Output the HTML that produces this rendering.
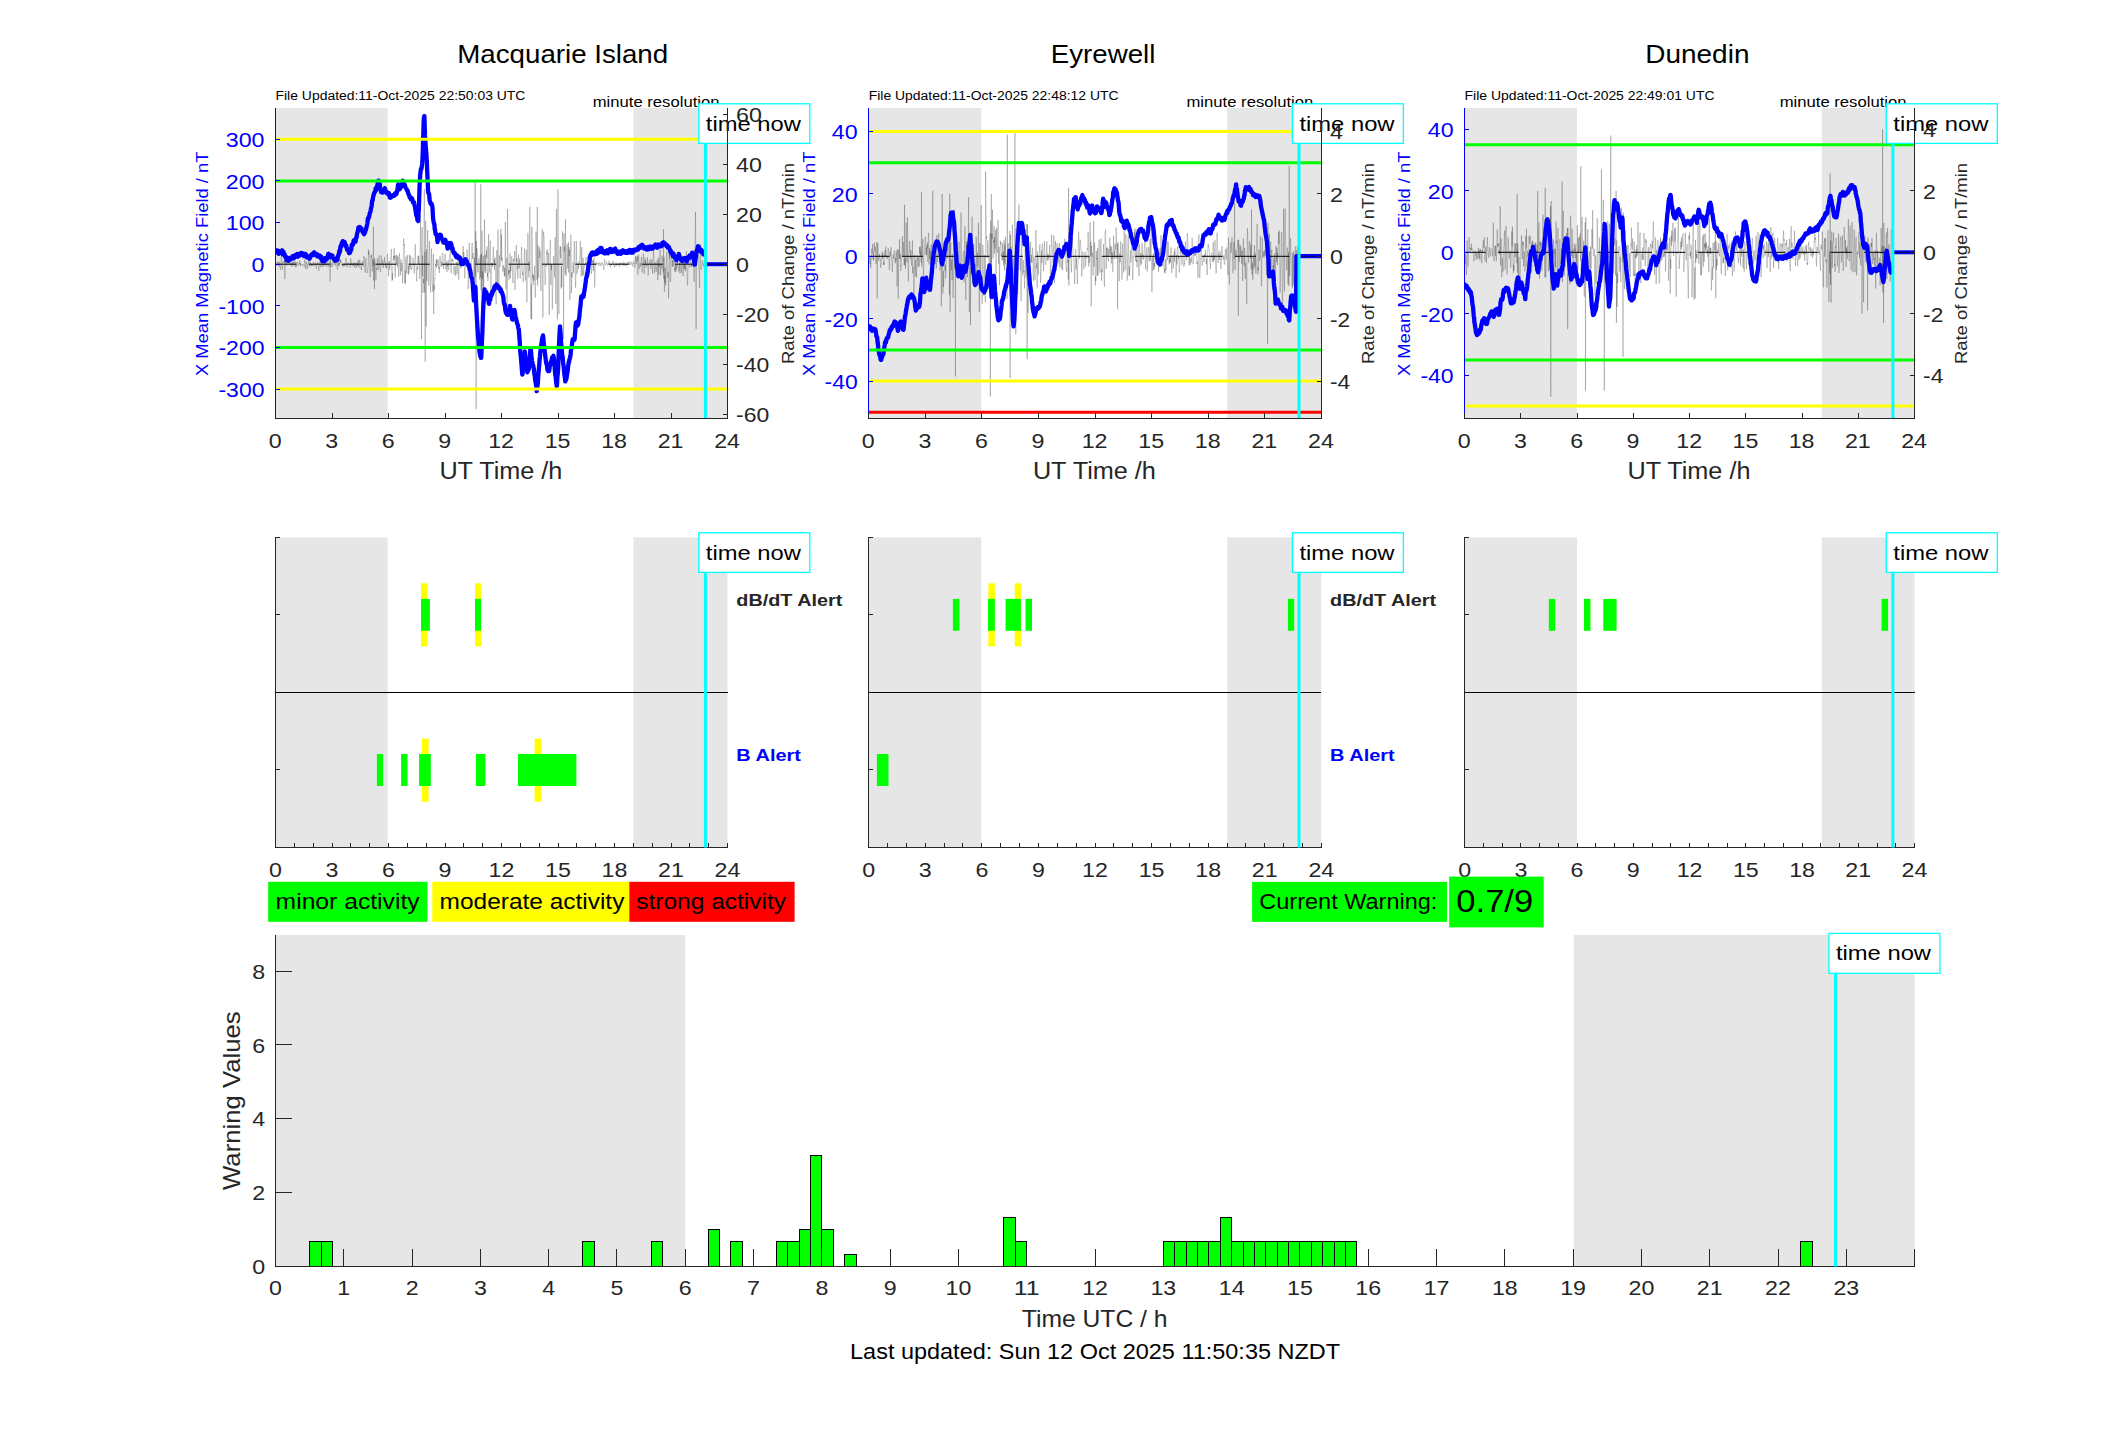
<!DOCTYPE html>
<html><head><meta charset="utf-8"><title>Geomagnetic activity</title>
<style>html,body{margin:0;padding:0;background:#fff;}body{width:2117px;height:1437px;overflow:hidden;font-family:"Liberation Sans",sans-serif;}svg{display:block;}text{white-space:pre;}</style>
</head><body>
<svg width="2117" height="1437" viewBox="0 0 2117 1437" font-family="'Liberation Sans', sans-serif">
<rect width="2117" height="1437" fill="#fff"/>
<g id="top0">
<rect x="275.50" y="108.00" width="112.10" height="310.00" fill="#e6e6e6"/>
<rect x="633.43" y="108.00" width="94.07" height="310.00" fill="#e6e6e6"/>
<clipPath id="cp0"><rect x="275.50" y="108.0" width="452.00" height="310.0"/></clipPath>
<path d="M275.5,265.6 275.8,264.6 276.1,265.0 276.4,263.7 276.8,265.8 277.1,263.9 277.4,262.1 277.7,263.0 278.0,261.3 278.3,264.2 278.6,265.2 279.0,266.5 279.3,264.2 279.6,261.8 279.9,264.1 280.2,268.1 280.5,269.7 280.8,268.4 281.1,257.3 281.5,255.7 281.8,259.0 282.1,265.9 282.4,269.5 282.7,265.5 283.0,261.1 283.3,261.1 283.7,262.5 284.0,263.0 284.3,262.5 284.6,260.0 284.9,279.2 285.2,260.8 285.5,262.5 285.9,263.5 286.2,264.6 286.5,265.6 286.8,263.8 287.1,261.5 287.4,259.4 287.7,260.9 288.1,261.2 288.4,261.6 288.7,264.2 289.0,264.8 289.3,256.5 289.6,259.2 289.9,264.1 290.3,265.3 290.6,263.4 290.9,262.1 291.2,263.9 291.5,263.6 291.8,266.8 292.1,265.2 292.4,263.2 292.8,261.8 293.1,265.7 293.4,261.7 293.7,263.4 294.0,263.4 294.3,258.7 294.6,258.3 295.0,261.2 295.3,267.4 295.6,263.6 295.9,262.1 296.2,265.7 296.5,266.8 296.8,265.3 297.2,261.9 297.5,262.5 297.8,262.6 298.1,265.1 298.4,265.7 298.7,264.3 299.0,264.4 299.4,263.1 299.7,260.4 300.0,265.1 300.3,262.8 300.6,266.3 300.9,265.6 301.2,264.7 301.6,264.8 301.9,264.2 302.2,264.6 302.5,264.1 302.8,264.3 303.1,264.4 303.4,264.9 303.8,265.6 304.1,267.0 304.4,263.2 304.7,259.6 305.0,261.4 305.3,265.5 305.6,268.8 305.9,264.7 306.3,261.5 306.6,262.1 306.9,265.5 307.2,269.1 307.5,267.4 307.8,264.1 308.1,262.6 308.5,261.2 308.8,264.4 309.1,266.7 309.4,265.2 309.7,264.6 310.0,261.3 310.3,263.8 310.7,263.2 311.0,264.5 311.3,266.3 311.6,264.4 311.9,265.4 312.2,264.1 312.5,265.7 312.9,264.1 313.2,263.3 313.5,261.9 313.8,262.4 314.1,266.4 314.4,264.9 314.7,264.8 315.1,263.9 315.4,263.7 315.7,262.5 316.0,266.0 316.3,269.0 316.6,267.3 316.9,264.1 317.2,264.3 317.6,262.3 317.9,263.8 318.2,263.4 318.5,267.2 318.8,271.0 319.1,268.4 319.4,266.1 319.8,260.6 320.1,258.6 320.4,266.2 320.7,267.1 321.0,265.8 321.3,262.5 321.6,263.0 322.0,265.4 322.3,267.4 322.6,263.8 322.9,261.2 323.2,263.2 323.5,264.6 323.8,266.2 324.2,263.0 324.5,265.0 324.8,265.4 325.1,265.0 325.4,264.2 325.7,263.5 326.0,264.0 326.4,266.7 326.7,266.2 327.0,262.0 327.3,261.4 327.6,261.8 327.9,263.8 328.2,267.2 328.5,265.5 328.9,263.5 329.2,263.8 329.5,261.4 329.8,262.6 330.1,281.7 330.4,258.2 330.7,266.9 331.1,263.4 331.4,263.0 331.7,266.9 332.0,266.9 332.3,266.9 332.6,261.9 332.9,260.1 333.3,261.2 333.6,264.4 333.9,265.1 334.2,264.1 334.5,264.0 334.8,263.2 335.1,262.2 335.5,265.6 335.8,265.7 336.1,261.8 336.4,257.5 336.7,258.6 337.0,266.6 337.3,269.2 337.6,269.7 338.0,262.0 338.3,265.4 338.6,263.5 338.9,262.4 339.2,266.1 339.5,264.0 339.8,263.1 340.2,259.4 340.5,263.0 340.8,259.9 341.1,263.1 341.4,264.7 341.7,264.3 342.0,265.2 342.4,264.7 342.7,266.0 343.0,264.1 343.3,265.3 343.6,266.8 343.9,265.5 344.2,263.5 344.6,264.7 344.9,266.2 345.2,264.2 345.5,263.7 345.8,260.8 346.1,258.0 346.4,264.2 346.8,266.4 347.1,267.4 347.4,265.8 347.7,265.5 348.0,262.6 348.3,264.0 348.6,263.5 348.9,264.5 349.3,263.8 349.6,265.3 349.9,266.3 350.2,267.9 350.5,263.3 350.8,258.4 351.1,264.8 351.5,264.7 351.8,262.7 352.1,265.2 352.4,266.2 352.7,266.0 353.0,264.9 353.3,263.3 353.7,265.4 354.0,262.3 354.3,265.4 354.6,266.5 354.9,267.5 355.2,262.9 355.5,264.4 355.9,263.1 356.2,267.8 356.5,265.6 356.8,263.7 357.1,263.4 357.4,261.9 357.7,266.1 358.1,264.2 358.4,259.7 358.7,261.0 359.0,267.8 359.3,262.3 359.6,260.3 359.9,260.2 360.2,263.9 360.6,263.7 360.9,268.4 361.2,267.9 361.5,270.2 361.8,263.6 362.1,263.7 362.4,263.2 362.8,261.3 363.1,264.3 363.4,266.4 363.7,262.0 364.0,256.1 364.3,260.5 364.6,264.9 365.0,272.1 365.3,272.8 365.6,260.8 365.9,257.8 366.2,264.9 366.5,266.2 366.8,269.3 367.2,271.6 367.5,273.0 367.8,271.8 368.1,267.6 368.4,249.3 368.7,254.8 369.0,251.4 369.4,265.0 369.7,267.2 370.0,276.9 370.3,276.3 370.6,269.2 370.9,255.5 371.2,257.4 371.5,254.5 371.9,259.3 372.2,271.7 372.5,271.3 372.8,259.0 373.1,266.2 373.4,226.7 373.7,280.4 374.1,260.6 374.4,289.2 374.7,258.0 375.0,262.8 375.3,267.6 375.6,269.4 375.9,280.4 376.3,268.0 376.6,269.8 376.9,264.6 377.2,258.2 377.5,259.4 377.8,265.8 378.1,270.3 378.5,269.2 378.8,259.1 379.1,255.5 379.4,264.4 379.7,263.5 380.0,270.0 380.3,272.0 380.7,271.5 381.0,259.2 381.3,255.3 381.6,260.3 381.9,264.5 382.2,264.2 382.5,260.2 382.9,263.6 383.2,267.9 383.5,263.7 383.8,264.5 384.1,261.5 384.4,257.1 384.7,262.0 385.0,261.1 385.4,266.6 385.7,264.4 386.0,263.2 386.3,268.1 386.6,266.5 386.9,268.5 387.2,257.9 387.6,254.1 387.9,263.2 388.2,262.4 388.5,276.3 388.8,274.7 389.1,261.9 389.4,260.9 389.8,269.5 390.1,263.3 390.4,261.5 390.7,256.9 391.0,256.8 391.3,248.9 391.6,271.6 392.0,280.9 392.3,273.0 392.6,279.8 392.9,263.4 393.2,258.1 393.5,255.9 393.8,260.3 394.1,248.1 394.5,258.6 394.8,255.7 395.1,277.5 395.4,272.3 395.7,262.4 396.0,255.3 396.3,264.8 396.7,262.0 397.0,254.9 397.3,260.1 397.6,266.9 397.9,256.6 398.2,261.8 398.5,276.0 398.9,276.7 399.2,256.5 399.5,253.3 399.8,263.3 400.1,263.0 400.4,275.3 400.7,261.8 401.1,259.3 401.4,271.3 401.7,263.2 402.0,262.8 402.3,262.9 402.6,283.3 402.9,270.0 403.3,256.1 403.6,238.4 403.9,241.9 404.2,245.7 404.5,244.2 404.8,283.1 405.1,270.5 405.4,284.2 405.8,256.7 406.1,259.1 406.4,264.6 406.7,273.6 407.0,260.2 407.3,260.1 407.6,255.1 408.0,268.2 408.3,274.8 408.6,265.5 408.9,273.4 409.2,271.9 409.5,254.7 409.8,259.5 410.2,268.9 410.5,255.8 410.8,256.4 411.1,265.2 411.4,270.2 411.7,269.6 412.0,268.4 412.4,264.4 412.7,264.8 413.0,257.7 413.3,261.2 413.6,264.5 413.9,263.8 414.2,273.3 414.6,262.3 414.9,260.9 415.2,244.2 415.5,253.8 415.8,265.3 416.1,265.2 416.4,276.1 416.8,281.4 417.1,267.7 417.4,266.6 417.7,269.7 418.0,256.1 418.3,264.4 418.6,255.5 418.9,261.4 419.3,261.4 419.6,279.0 419.9,278.7 420.2,243.4 420.5,214.3 420.8,249.2 421.1,249.1 421.5,339.1 421.8,243.4 422.1,227.1 422.4,276.1 422.7,255.4 423.0,292.9 423.3,278.9 423.7,283.4 424.0,231.5 424.3,189.3 424.6,292.6 424.9,251.7 425.2,361.6 425.5,220.9 425.9,223.3 426.2,326.6 426.5,249.3 426.8,281.0 427.1,272.5 427.4,254.9 427.7,230.1 428.0,250.6 428.4,282.5 428.7,285.7 429.0,277.6 429.3,255.5 429.6,241.1 429.9,258.9 430.2,277.6 430.6,292.4 430.9,278.3 431.2,269.8 431.5,248.5 431.8,257.8 432.1,283.6 432.4,283.7 432.8,291.9 433.1,282.9 433.4,253.9 433.7,314.1 434.0,285.0 434.3,290.0 434.6,278.2 435.0,278.7 435.3,265.4 435.6,264.0 435.9,266.5 436.2,259.5 436.5,267.8 436.8,259.4 437.2,263.4 437.5,264.2 437.8,265.6 438.1,259.5 438.4,264.5 438.7,269.1 439.0,267.0 439.3,273.0 439.7,261.3 440.0,256.2 440.3,259.4 440.6,261.6 440.9,266.3 441.2,264.7 441.5,261.6 441.9,266.8 442.2,254.0 442.5,253.7 442.8,252.8 443.1,258.3 443.4,264.1 443.7,269.0 444.1,264.8 444.4,262.9 444.7,260.0 445.0,253.8 445.3,256.2 445.6,262.6 445.9,269.3 446.3,263.0 446.6,261.6 446.9,272.0 447.2,269.7 447.5,264.9 447.8,266.4 448.1,260.0 448.5,270.2 448.8,269.2 449.1,267.4 449.4,257.6 449.7,255.5 450.0,254.2 450.3,247.3 450.6,262.6 451.0,269.9 451.3,273.2 451.6,263.2 451.9,258.8 452.2,261.5 452.5,260.9 452.8,259.0 453.2,262.7 453.5,268.2 453.8,274.3 454.1,274.7 454.4,273.3 454.7,265.9 455.0,266.4 455.4,269.9 455.7,275.8 456.0,265.1 456.3,262.0 456.6,264.7 456.9,271.0 457.2,274.2 457.6,260.3 457.9,256.4 458.2,262.4 458.5,273.2 458.8,279.7 459.1,270.1 459.4,257.6 459.8,259.5 460.1,260.5 460.4,255.1 460.7,265.4 461.0,268.5 461.3,261.7 461.6,256.9 461.9,266.5 462.3,263.7 462.6,256.6 462.9,251.6 463.2,246.1 463.5,260.5 463.8,252.0 464.1,262.8 464.5,268.3 464.8,278.4 465.1,268.8 465.4,268.1 465.7,263.4 466.0,260.8 466.3,262.1 466.7,267.1 467.0,249.6 467.3,252.9 467.6,254.4 467.9,275.2 468.2,289.1 468.5,282.5 468.9,259.7 469.2,242.8 469.5,253.9 469.8,264.8 470.1,271.3 470.4,263.6 470.7,263.6 471.1,271.4 471.4,272.9 471.7,248.5 472.0,242.8 472.3,243.0 472.6,259.0 472.9,253.8 473.2,253.1 473.6,258.2 473.9,279.9 474.2,272.2 474.5,257.7 474.8,284.0 475.1,181.8 475.4,276.7 475.8,231.2 476.1,409.0 476.4,240.8 476.7,263.8 477.0,248.4 477.3,254.3 477.6,269.6 478.0,272.3 478.3,264.7 478.6,261.9 478.9,258.6 479.2,273.6 479.5,278.7 479.8,279.6 480.2,255.2 480.5,277.4 480.8,184.3 481.1,290.3 481.4,253.4 481.7,339.1 482.0,230.7 482.4,278.9 482.7,271.3 483.0,302.6 483.3,255.9 483.6,310.7 483.9,272.9 484.2,267.9 484.5,219.3 484.9,271.2 485.2,254.7 485.5,262.4 485.8,273.1 486.1,255.4 486.4,250.5 486.7,257.8 487.1,246.5 487.4,276.8 487.7,272.9 488.0,280.9 488.3,255.6 488.6,234.2 488.9,263.6 489.3,272.8 489.6,264.4 489.9,250.8 490.2,240.5 490.5,246.5 490.8,304.2 491.1,289.6 491.5,264.3 491.8,262.7 492.1,265.4 492.4,263.7 492.7,267.2 493.0,257.3 493.3,246.8 493.7,255.8 494.0,263.5 494.3,259.4 494.6,269.9 494.9,257.3 495.2,260.2 495.5,276.2 495.8,295.0 496.2,304.2 496.5,268.6 496.8,250.4 497.1,257.5 497.4,287.3 497.7,250.2 498.0,229.6 498.4,265.0 498.7,279.7 499.0,288.6 499.3,260.8 499.6,255.2 499.9,266.9 500.2,262.1 500.6,232.7 500.9,228.7 501.2,259.4 501.5,234.5 501.8,261.0 502.1,257.8 502.4,270.2 502.8,269.7 503.1,271.7 503.4,265.3 503.7,268.2 504.0,267.0 504.3,276.2 504.6,268.2 505.0,276.4 505.3,221.8 505.6,277.4 505.9,289.0 506.2,279.6 506.5,270.9 506.8,257.8 507.1,309.1 507.5,209.0 507.8,238.8 508.1,261.8 508.4,274.6 508.7,270.2 509.0,279.7 509.3,270.4 509.7,272.7 510.0,253.4 510.3,278.3 510.6,265.5 510.9,271.2 511.2,265.6 511.5,256.5 511.9,256.6 512.2,263.4 512.5,270.2 512.8,280.7 513.1,283.1 513.4,258.9 513.7,261.2 514.1,258.4 514.4,257.2 514.7,251.2 515.0,289.9 515.3,274.7 515.6,274.5 515.9,265.5 516.3,245.1 516.6,262.2 516.9,258.5 517.2,268.9 517.5,265.6 517.8,278.9 518.1,263.3 518.5,254.6 518.8,261.2 519.1,268.2 519.4,264.7 519.7,258.6 520.0,276.3 520.3,278.3 520.6,272.5 521.0,271.6 521.3,252.7 521.6,246.9 521.9,261.0 522.2,266.5 522.5,274.8 522.8,272.4 523.2,282.2 523.5,269.3 523.8,266.9 524.1,260.9 524.4,248.5 524.7,258.0 525.0,273.2 525.4,280.7 525.7,264.8 526.0,261.7 526.3,249.6 526.6,255.9 526.9,302.3 527.2,271.2 527.6,263.1 527.9,232.9 528.2,258.0 528.5,266.9 528.8,277.3 529.1,261.4 529.4,271.2 529.8,206.8 530.1,242.1 530.4,279.8 530.7,305.1 531.0,319.4 531.3,284.3 531.6,319.1 531.9,226.7 532.3,260.0 532.6,278.7 532.9,274.1 533.2,284.8 533.5,275.4 533.8,275.8 534.1,280.8 534.5,265.7 534.8,284.0 535.1,294.4 535.4,297.7 535.7,269.0 536.0,231.7 536.3,252.7 536.7,262.5 537.0,279.8 537.3,206.8 537.6,285.5 537.9,262.7 538.2,245.4 538.5,277.6 538.9,276.8 539.2,257.4 539.5,247.3 539.8,258.0 540.1,250.6 540.4,264.5 540.7,288.7 541.0,291.1 541.4,274.6 541.7,241.6 542.0,233.6 542.3,229.2 542.6,269.6 542.9,317.6 543.2,249.0 543.6,231.6 543.9,237.3 544.2,237.1 544.5,267.8 544.8,277.2 545.1,284.9 545.4,281.5 545.8,264.7 546.1,266.9 546.4,256.3 546.7,251.4 547.0,253.9 547.3,249.3 547.6,264.7 548.0,263.8 548.3,253.0 548.6,272.1 548.9,287.1 549.2,315.0 549.5,287.9 549.8,257.9 550.2,239.7 550.5,243.4 550.8,285.3 551.1,264.1 551.4,270.0 551.7,264.5 552.0,278.3 552.3,309.5 552.7,288.3 553.0,282.1 553.3,259.2 553.6,256.1 553.9,261.6 554.2,271.6 554.5,277.3 554.9,245.2 555.2,237.2 555.5,252.4 555.8,303.9 556.1,266.9 556.4,209.0 556.7,241.3 557.1,300.1 557.4,319.4 557.7,239.6 558.0,189.3 558.3,238.8 558.6,292.6 558.9,314.1 559.3,251.4 559.6,251.5 559.9,249.8 560.2,246.0 560.5,258.1 560.8,246.8 561.1,288.6 561.5,266.3 561.8,287.2 562.1,250.4 562.4,231.3 562.7,237.1 563.0,236.8 563.3,256.8 563.6,339.1 564.0,233.1 564.3,251.3 564.6,246.6 564.9,267.2 565.2,274.1 565.5,219.3 565.8,274.0 566.2,276.0 566.5,270.2 566.8,262.0 567.1,244.3 567.4,259.0 567.7,268.5 568.0,257.6 568.4,242.2 568.7,272.5 569.0,246.9 569.3,256.2 569.6,249.9 569.9,300.3 570.2,266.2 570.6,245.9 570.9,234.8 571.2,248.0 571.5,293.1 571.8,272.1 572.1,277.3 572.4,274.2 572.8,271.6 573.1,262.2 573.4,269.1 573.7,272.9 574.0,256.7 574.3,241.0 574.6,257.7 575.0,269.0 575.3,281.1 575.6,287.6 575.9,279.7 576.2,241.0 576.5,244.7 576.8,273.9 577.1,273.0 577.5,269.3 577.8,269.3 578.1,263.3 578.4,268.9 578.7,265.4 579.0,261.5 579.3,263.4 579.7,260.0 580.0,255.7 580.3,240.9 580.6,253.6 580.9,258.5 581.2,276.7 581.5,253.9 581.9,247.1 582.2,269.0 582.5,275.3 582.8,265.1 583.1,257.8 583.4,263.8 583.7,275.6 584.1,268.7 584.4,267.1 584.7,264.3 585.0,265.4 585.3,263.4 585.6,264.4 585.9,257.0 586.2,264.4 586.6,263.4 586.9,263.6 587.2,278.5 587.5,268.1 587.8,271.8 588.1,256.2 588.4,259.7 588.8,264.2 589.1,276.1 589.4,272.8 589.7,273.3 590.0,259.7 590.3,250.9 590.6,253.0 591.0,258.6 591.3,271.7 591.6,273.9 591.9,269.3 592.2,267.1 592.5,260.6 592.8,262.8 593.2,260.2 593.5,271.1 593.8,257.3 594.1,259.8 594.4,273.2 594.7,287.5 595.0,280.5 595.4,262.7 595.7,263.1 596.0,262.5 596.3,262.4 596.6,264.8 596.9,264.9 597.2,263.6 597.5,263.1 597.9,263.8 598.2,263.0 598.5,265.1 598.8,265.9 599.1,263.2 599.4,263.3 599.7,262.6 600.1,262.6 600.4,265.9 600.7,265.0 601.0,265.5 601.3,264.4 601.6,262.6 601.9,262.2 602.3,263.1 602.6,264.5 602.9,263.7 603.2,265.1 603.5,267.0 603.8,269.8 604.1,266.8 604.5,259.2 604.8,260.6 605.1,263.4 605.4,265.3 605.7,264.7 606.0,264.6 606.3,262.9 606.7,261.9 607.0,263.0 607.3,263.9 607.6,265.6 607.9,264.3 608.2,263.4 608.5,263.9 608.8,261.9 609.2,260.6 609.5,261.5 609.8,263.8 610.1,267.1 610.4,267.6 610.7,266.3 611.0,265.7 611.4,264.0 611.7,265.1 612.0,263.8 612.3,262.4 612.6,263.2 612.9,262.7 613.2,260.6 613.6,261.6 613.9,261.9 614.2,265.9 614.5,267.6 614.8,265.8 615.1,266.0 615.4,264.5 615.8,263.3 616.1,262.5 616.4,263.7 616.7,265.3 617.0,266.0 617.3,264.4 617.6,264.3 618.0,263.2 618.3,263.5 618.6,263.1 618.9,262.8 619.2,265.3 619.5,266.7 619.8,263.4 620.1,263.2 620.5,262.5 620.8,264.2 621.1,263.1 621.4,263.6 621.7,263.0 622.0,263.5 622.3,263.6 622.7,265.4 623.0,264.8 623.3,261.8 623.6,262.7 623.9,265.3 624.2,266.0 624.5,264.1 624.9,262.7 625.2,263.7 625.5,264.1 625.8,265.4 626.1,266.3 626.4,266.5 626.7,264.0 627.1,263.0 627.4,263.2 627.7,262.1 628.0,262.2 628.3,263.1 628.6,263.7 628.9,263.9 629.3,261.6 629.6,262.7 629.9,262.1 630.2,263.7 630.5,263.9 630.8,264.7 631.1,263.9 631.4,263.5 631.8,261.7 632.1,265.2 632.4,266.3 632.7,264.3 633.0,263.6 633.3,263.0 633.6,263.7 634.0,261.0 634.3,265.0 634.6,267.8 634.9,267.1 635.2,266.9 635.5,256.2 635.8,258.9 636.2,264.2 636.5,262.6 636.8,256.9 637.1,261.3 637.4,255.8 637.7,272.9 638.0,274.7 638.4,264.0 638.7,254.9 639.0,262.9 639.3,268.6 639.6,268.8 639.9,265.5 640.2,262.8 640.6,266.3 640.9,265.2 641.2,259.5 641.5,257.0 641.8,271.6 642.1,272.4 642.4,270.3 642.8,265.3 643.1,260.2 643.4,253.6 643.7,260.4 644.0,273.7 644.3,274.0 644.6,265.1 644.9,257.9 645.3,263.6 645.6,260.0 645.9,267.6 646.2,266.4 646.5,264.8 646.8,264.6 647.1,263.2 647.5,257.3 647.8,267.1 648.1,275.4 648.4,272.1 648.7,265.0 649.0,265.0 649.3,262.0 649.7,263.0 650.0,259.7 650.3,264.1 650.6,268.7 650.9,267.7 651.2,265.6 651.5,259.3 651.9,259.6 652.2,261.1 652.5,273.7 652.8,267.0 653.1,258.0 653.4,250.2 653.7,254.4 654.0,257.3 654.4,273.2 654.7,270.2 655.0,268.4 655.3,262.6 655.6,262.4 655.9,268.0 656.2,272.0 656.6,268.8 656.9,263.5 657.2,260.1 657.5,266.5 657.8,280.2 658.1,271.8 658.4,257.7 658.8,274.9 659.1,264.9 659.4,266.7 659.7,256.7 660.0,249.5 660.3,255.0 660.6,275.0 661.0,263.7 661.3,267.1 661.6,268.6 661.9,255.5 662.2,257.4 662.5,259.8 662.8,264.5 663.2,272.6 663.5,229.2 663.8,278.9 664.1,257.1 664.4,291.7 664.7,275.7 665.0,283.0 665.3,267.8 665.7,285.5 666.0,280.9 666.3,269.5 666.6,252.9 666.9,251.7 667.2,266.5 667.5,274.1 667.9,277.4 668.2,271.7 668.5,298.2 668.8,288.5 669.1,248.2 669.4,258.8 669.7,246.8 670.1,278.1 670.4,281.9 670.7,281.6 671.0,257.5 671.3,252.7 671.6,258.5 671.9,259.6 672.3,266.9 672.6,260.0 672.9,264.6 673.2,265.4 673.5,266.2 673.8,253.9 674.1,264.8 674.5,270.5 674.8,268.4 675.1,272.1 675.4,263.2 675.7,267.7 676.0,271.4 676.3,264.9 676.6,268.9 677.0,264.8 677.3,263.2 677.6,261.5 677.9,262.6 678.2,267.3 678.5,271.5 678.8,270.8 679.2,269.1 679.5,262.8 679.8,273.5 680.1,271.9 680.4,262.5 680.7,259.1 681.0,262.9 681.4,273.1 681.7,267.5 682.0,256.7 682.3,258.3 682.6,259.6 682.9,273.5 683.2,276.1 683.6,262.1 683.9,268.7 684.2,263.8 684.5,263.4 684.8,269.6 685.1,262.7 685.4,271.4 685.8,262.8 686.1,258.0 686.4,251.2 686.7,265.8 687.0,275.4 687.3,285.4 687.6,285.4 687.9,272.8 688.3,260.4 688.6,261.4 688.9,261.6 689.2,262.0 689.5,267.1 689.8,267.6 690.1,264.4 690.5,261.0 690.8,258.6 691.1,261.1 691.4,266.6 691.7,263.4 692.0,266.6 692.3,266.2 692.7,253.9 693.0,264.9 693.3,264.7 693.6,269.5 693.9,276.4 694.2,282.1 694.5,265.9 694.9,253.9 695.2,240.3 695.5,211.8 695.8,250.0 696.1,329.1 696.4,250.3 696.7,261.5 697.1,258.7 697.4,255.0 697.7,258.6 698.0,258.7 698.3,248.5 698.6,264.0 698.9,269.7 699.2,273.4 699.6,287.7 699.9,270.0 700.2,245.6 700.5,244.2 700.8,266.5 701.1,269.6 701.4,269.4 701.8,267.9 702.1,262.3 702.4,260.7 702.7,260.5 703.0,264.6 703.3,265.3 703.6,266.0 704.0,263.6 704.3,269.0 704.6,274.2 704.9,272.8" fill="none" stroke="#000" stroke-width="0.6" stroke-opacity="0.34" clip-path="url(#cp0)"/>
<line x1="275.50" y1="264.20" x2="727.50" y2="264.20" stroke="#000" stroke-width="1" stroke-dasharray="21 12.3"/>
<path d="M275.6,252.0 275.9,252.4 276.2,252.0 276.5,250.4 276.8,251.0 277.1,250.5 277.5,251.5 277.8,250.6 278.1,252.1 278.4,252.3 278.7,253.8 279.0,253.1 279.3,253.0 279.6,252.0 280.0,251.4 280.3,253.1 280.6,252.5 280.9,252.7 281.2,252.6 281.5,253.1 281.8,251.0 282.2,250.3 282.5,252.2 282.8,254.4 283.1,251.5 283.4,251.7 283.7,253.1 284.0,253.4 284.4,254.1 284.7,254.6 285.0,256.4 285.3,256.7 285.6,257.3 285.9,256.6 286.2,258.3 286.6,260.2 286.9,260.3 287.2,259.8 287.5,259.1 287.8,260.8 288.1,260.9 288.4,260.2 288.8,258.0 289.1,258.4 289.4,258.2 289.7,258.1 290.0,259.0 290.3,258.0 290.6,258.2 290.9,259.5 291.3,258.0 291.6,258.0 291.9,258.6 292.2,257.5 292.5,256.3 292.8,257.3 293.1,258.2 293.5,256.0 293.8,256.4 294.1,256.3 294.4,257.8 294.7,255.6 295.0,256.0 295.3,254.9 295.7,254.9 296.0,255.7 296.3,255.5 296.6,255.5 296.9,254.9 297.2,253.9 297.5,255.6 297.9,256.7 298.2,255.6 298.5,254.9 298.8,256.0 299.1,255.6 299.4,255.2 299.7,255.5 300.1,253.9 300.4,253.4 300.7,253.9 301.0,252.9 301.3,253.6 301.6,254.2 301.9,254.7 302.2,254.9 302.6,253.3 302.9,254.0 303.2,254.7 303.5,255.6 303.8,256.0 304.1,255.0 304.4,254.8 304.8,254.0 305.1,254.4 305.4,254.3 305.7,253.9 306.0,254.7 306.3,256.2 306.6,257.3 307.0,256.7 307.3,256.3 307.6,256.8 307.9,257.5 308.2,257.7 308.5,257.8 308.8,257.4 309.2,257.1 309.5,258.9 309.8,258.3 310.1,256.2 310.4,256.7 310.7,255.3 311.0,255.5 311.4,254.8 311.7,255.2 312.0,254.5 312.3,254.5 312.6,255.0 312.9,255.3 313.2,253.1 313.5,255.0 313.9,252.6 314.2,252.2 314.5,252.9 314.8,254.1 315.1,254.1 315.4,253.7 315.7,255.0 316.1,254.6 316.4,254.4 316.7,255.2 317.0,254.1 317.3,256.4 317.6,256.4 317.9,255.4 318.3,255.3 318.6,255.6 318.9,256.5 319.2,256.7 319.5,255.9 319.8,255.6 320.1,257.6 320.5,256.2 320.8,256.3 321.1,258.3 321.4,256.9 321.7,258.3 322.0,259.4 322.3,261.1 322.7,260.9 323.0,260.0 323.3,258.7 323.6,260.4 323.9,260.8 324.2,261.1 324.5,261.2 324.8,259.8 325.2,258.9 325.5,257.9 325.8,258.8 326.1,259.5 326.4,258.3 326.7,258.6 327.0,258.8 327.4,258.8 327.7,256.3 328.0,255.4 328.3,253.9 328.6,253.7 328.9,255.3 329.2,256.1 329.6,255.2 329.9,255.1 330.2,254.9 330.5,257.0 330.8,255.7 331.1,255.5 331.4,255.3 331.8,256.8 332.1,256.5 332.4,255.5 332.7,257.2 333.0,258.0 333.3,258.2 333.6,258.6 334.0,259.0 334.3,259.4 334.6,260.3 334.9,260.3 335.2,260.7 335.5,260.6 335.8,260.6 336.1,260.0 336.5,259.5 336.8,257.8 337.1,258.9 337.4,259.9 337.7,257.9 338.0,256.0 338.3,255.6 338.7,254.1 339.0,254.0 339.3,251.0 339.6,252.1 339.9,251.6 340.2,249.8 340.5,246.2 340.9,245.8 341.2,246.6 341.5,244.9 341.8,242.9 342.1,243.0 342.4,242.7 342.7,241.2 343.1,241.4 343.4,242.2 343.7,242.1 344.0,242.2 344.3,242.4 344.6,242.0 344.9,242.9 345.3,245.5 345.6,245.6 345.9,246.3 346.2,245.4 346.5,247.6 346.8,248.0 347.1,249.9 347.4,249.4 347.8,249.9 348.1,250.5 348.4,250.9 348.7,251.8 349.0,253.1 349.3,252.5 349.6,252.1 350.0,252.9 350.3,251.5 350.6,250.6 350.9,248.6 351.2,249.8 351.5,247.3 351.8,244.7 352.2,245.3 352.5,245.2 352.8,243.6 353.1,244.5 353.4,241.6 353.7,240.5 354.0,241.3 354.4,241.1 354.7,240.9 355.0,241.4 355.3,240.7 355.6,241.6 355.9,238.3 356.2,237.6 356.6,237.5 356.9,234.6 357.2,233.0 357.5,232.6 357.8,231.3 358.1,230.1 358.4,227.4 358.7,227.7 359.1,229.2 359.4,228.4 359.7,227.0 360.0,227.3 360.3,227.4 360.6,228.2 360.9,228.2 361.3,229.2 361.6,228.7 361.9,231.1 362.2,231.2 362.5,230.7 362.8,232.0 363.1,232.5 363.5,233.3 363.8,233.4 364.1,234.2 364.4,233.7 364.7,232.8 365.0,232.6 365.3,231.0 365.7,229.9 366.0,229.7 366.3,227.7 366.6,226.6 366.9,225.5 367.2,224.1 367.5,222.3 367.9,218.3 368.2,218.7 368.5,218.5 368.8,216.7 369.1,216.8 369.4,215.2 369.7,213.3 370.0,212.4 370.4,211.8 370.7,210.3 371.0,208.3 371.3,207.4 371.6,206.5 371.9,203.1 372.2,200.5 372.6,200.6 372.9,198.3 373.2,196.7 373.5,195.4 373.8,194.5 374.1,193.4 374.4,192.5 374.8,192.2 375.1,191.4 375.4,191.0 375.7,188.2 376.0,188.6 376.3,190.0 376.6,187.4 377.0,187.8 377.3,185.2 377.6,184.0 377.9,182.8 378.2,180.7 378.5,180.7 378.8,180.7 379.2,183.8 379.5,183.8 379.8,184.1 380.1,188.4 380.4,188.6 380.7,189.4 381.0,192.0 381.3,191.0 381.7,190.3 382.0,191.6 382.3,192.7 382.6,192.7 382.9,192.7 383.2,190.9 383.5,191.9 383.9,190.7 384.2,189.8 384.5,190.8 384.8,188.1 385.1,188.8 385.4,191.1 385.7,191.3 386.1,191.8 386.4,191.6 386.7,192.9 387.0,193.4 387.3,192.7 387.6,192.5 387.9,193.0 388.3,194.1 388.6,194.4 388.9,193.0 389.2,194.4 389.5,196.1 389.8,197.6 390.1,197.8 390.5,196.3 390.8,196.5 391.1,197.4 391.4,195.8 391.7,196.1 392.0,195.6 392.3,196.2 392.6,196.2 393.0,195.3 393.3,196.1 393.6,195.6 393.9,194.7 394.2,195.2 394.5,195.7 394.8,194.1 395.2,193.3 395.5,194.2 395.8,193.0 396.1,193.4 396.4,194.1 396.7,192.9 397.0,191.9 397.4,189.5 397.7,188.1 398.0,184.9 398.3,184.3 398.6,185.7 398.9,184.6 399.2,187.7 399.6,189.3 399.9,189.0 400.2,188.5 400.5,187.7 400.8,187.3 401.1,186.1 401.4,186.5 401.8,184.4 402.1,184.2 402.4,182.7 402.7,180.7 403.0,181.8 403.3,183.0 403.6,183.2 403.9,183.5 404.3,184.3 404.6,184.9 404.9,185.0 405.2,186.6 405.5,187.6 405.8,188.1 406.1,188.5 406.5,188.9 406.8,189.6 407.1,190.8 407.4,190.3 407.7,190.8 408.0,192.8 408.3,193.0 408.7,194.9 409.0,195.0 409.3,195.4 409.6,196.9 409.9,197.7 410.2,197.5 410.5,197.5 410.9,199.2 411.2,198.1 411.5,197.9 411.8,198.9 412.1,198.7 412.4,199.4 412.7,201.2 413.1,202.6 413.4,202.4 413.7,202.7 414.0,202.3 414.3,204.2 414.6,205.7 414.9,206.4 415.2,208.5 415.6,210.6 415.9,212.7 416.2,215.1 416.5,216.0 416.8,215.3 417.1,217.2 417.4,220.0 417.8,219.9 418.1,221.1 418.4,213.9 418.7,211.0 419.0,204.0 419.3,195.6 419.6,185.4 420.0,178.0 420.3,174.1 420.6,171.7 420.9,168.9 421.2,169.4 421.5,168.4 421.8,167.0 422.2,163.7 422.5,158.3 422.8,151.3 423.1,140.8 423.4,130.2 423.7,121.0 424.0,117.2 424.4,116.0 424.7,126.4 425.0,135.9 425.3,140.8 425.6,144.5 425.9,148.2 426.2,152.0 426.5,155.9 426.9,162.7 427.2,171.9 427.5,177.4 427.8,183.9 428.1,191.8 428.4,192.6 428.7,193.7 429.1,194.1 429.4,197.3 429.7,200.8 430.0,201.4 430.3,202.3 430.6,203.7 430.9,203.2 431.3,203.3 431.6,204.0 431.9,204.5 432.2,205.9 432.5,207.6 432.8,213.9 433.1,218.8 433.5,220.9 433.8,222.9 434.1,223.6 434.4,224.1 434.7,229.5 435.0,229.3 435.3,232.4 435.7,234.2 436.0,233.7 436.3,234.7 436.6,235.2 436.9,234.9 437.2,238.5 437.5,242.1 437.8,240.0 438.2,238.4 438.5,238.6 438.8,237.4 439.1,237.3 439.4,235.1 439.7,236.3 440.0,234.8 440.4,235.8 440.7,235.0 441.0,235.5 441.3,237.6 441.6,238.1 441.9,238.9 442.2,239.4 442.6,240.4 442.9,240.4 443.2,242.1 443.5,242.0 443.8,242.7 444.1,241.8 444.4,240.6 444.8,240.0 445.1,239.7 445.4,240.0 445.7,242.4 446.0,241.7 446.3,242.7 446.6,242.3 447.0,244.1 447.3,246.8 447.6,248.6 447.9,247.6 448.2,246.9 448.5,246.6 448.8,246.1 449.1,245.3 449.5,243.8 449.8,242.8 450.1,242.8 450.4,243.4 450.7,243.8 451.0,243.3 451.3,244.9 451.7,246.4 452.0,248.9 452.3,248.9 452.6,248.4 452.9,250.2 453.2,251.3 453.5,252.4 453.9,253.2 454.2,253.1 454.5,252.8 454.8,253.1 455.1,254.0 455.4,255.0 455.7,256.3 456.1,255.5 456.4,256.4 456.7,257.4 457.0,255.6 457.3,255.4 457.6,256.8 457.9,256.9 458.3,257.2 458.6,257.0 458.9,258.3 459.2,257.8 459.5,257.9 459.8,257.6 460.1,258.0 460.4,258.8 460.8,260.7 461.1,261.4 461.4,264.2 461.7,262.4 462.0,263.0 462.3,262.9 462.6,263.8 463.0,263.3 463.3,263.9 463.6,262.9 463.9,260.9 464.2,260.3 464.5,261.1 464.8,260.1 465.2,260.1 465.5,259.3 465.8,260.5 466.1,261.4 466.4,262.9 466.7,262.3 467.0,261.6 467.4,263.6 467.7,264.5 468.0,265.1 468.3,264.9 468.6,264.6 468.9,265.0 469.2,267.2 469.6,269.3 469.9,269.2 470.2,270.8 470.5,272.0 470.8,274.0 471.1,276.0 471.4,277.7 471.7,277.7 472.1,278.5 472.4,281.1 472.7,283.1 473.0,288.9 473.3,291.8 473.6,296.6 473.9,300.6 474.3,299.3 474.6,293.6 474.9,291.1 475.2,286.7 475.5,287.7 475.8,296.7 476.1,304.0 476.5,311.1 476.8,316.4 477.1,321.4 477.4,326.8 477.7,330.5 478.0,336.3 478.3,338.8 478.7,342.4 479.0,346.6 479.3,350.3 479.6,352.0 479.9,353.9 480.2,356.0 480.5,356.2 480.9,357.9 481.2,357.9 481.5,351.1 481.8,344.1 482.1,338.2 482.4,331.8 482.7,322.1 483.0,313.7 483.4,305.5 483.7,301.8 484.0,298.1 484.3,292.9 484.6,289.5 484.9,292.1 485.2,292.1 485.6,292.3 485.9,292.1 486.2,292.0 486.5,294.0 486.8,293.8 487.1,295.1 487.4,297.8 487.8,297.2 488.1,299.3 488.4,300.6 488.7,302.1 489.0,303.9 489.3,301.1 489.6,300.6 490.0,299.9 490.3,299.4 490.6,296.8 490.9,294.8 491.2,295.6 491.5,295.4 491.8,292.7 492.2,293.9 492.5,291.5 492.8,292.1 493.1,290.5 493.4,290.9 493.7,290.4 494.0,289.6 494.3,287.4 494.7,286.3 495.0,287.4 495.3,286.6 495.6,287.7 495.9,286.8 496.2,286.0 496.5,284.3 496.9,286.0 497.2,286.3 497.5,287.0 497.8,287.2 498.1,286.0 498.4,286.8 498.7,288.2 499.1,287.3 499.4,288.7 499.7,289.3 500.0,289.0 500.3,288.6 500.6,291.4 500.9,289.9 501.3,291.1 501.6,292.2 501.9,292.4 502.2,293.4 502.5,294.4 502.8,294.9 503.1,296.4 503.5,298.3 503.8,302.0 504.1,303.8 504.4,303.9 504.7,304.5 505.0,307.1 505.3,310.0 505.6,311.3 506.0,313.1 506.3,313.4 506.6,313.1 506.9,314.6 507.2,314.1 507.5,314.0 507.8,314.0 508.2,314.9 508.5,313.0 508.8,313.3 509.1,311.2 509.4,310.2 509.7,307.6 510.0,305.8 510.4,308.2 510.7,309.4 511.0,311.5 511.3,314.5 511.6,315.2 511.9,318.0 512.2,319.3 512.6,319.6 512.9,318.1 513.2,316.9 513.5,316.3 513.8,312.9 514.1,312.0 514.4,309.8 514.8,311.7 515.1,313.3 515.4,316.9 515.7,318.0 516.0,317.9 516.3,319.8 516.6,320.5 516.9,322.7 517.3,323.7 517.6,324.4 517.9,325.2 518.2,327.6 518.5,328.6 518.8,329.2 519.1,333.5 519.5,338.5 519.8,342.7 520.1,349.1 520.4,352.8 520.7,355.8 521.0,358.7 521.3,362.5 521.7,367.2 522.0,371.6 522.3,374.5 522.6,373.6 522.9,370.1 523.2,367.8 523.5,366.8 523.9,362.5 524.2,358.8 524.5,355.5 524.8,351.5 525.1,354.0 525.4,357.5 525.7,360.5 526.1,362.8 526.4,364.0 526.7,366.3 527.0,368.8 527.3,372.3 527.6,371.4 527.9,370.2 528.2,369.5 528.6,369.9 528.9,368.1 529.2,367.0 529.5,361.8 529.8,357.1 530.1,352.9 530.4,348.7 530.8,348.6 531.1,351.9 531.4,356.3 531.7,357.9 532.0,361.0 532.3,362.0 532.6,363.4 533.0,365.0 533.3,366.4 533.6,367.5 533.9,369.1 534.2,372.7 534.5,374.9 534.8,376.4 535.2,380.4 535.5,382.1 535.8,383.6 536.1,385.2 536.4,388.6 536.7,391.2 537.0,388.8 537.4,386.4 537.7,384.5 538.0,380.2 538.3,375.7 538.6,371.9 538.9,368.8 539.2,365.2 539.5,360.5 539.9,357.0 540.2,353.1 540.5,351.4 540.8,346.5 541.1,346.4 541.4,344.3 541.7,342.1 542.1,338.7 542.4,337.6 542.7,336.8 543.0,335.4 543.3,337.1 543.6,342.1 543.9,344.3 544.3,346.5 544.6,350.0 544.9,352.8 545.2,355.7 545.5,357.5 545.8,360.0 546.1,362.4 546.5,364.3 546.8,364.2 547.1,366.2 547.4,369.5 547.7,370.2 548.0,371.0 548.3,371.1 548.7,371.2 549.0,371.2 549.3,370.3 549.6,367.3 549.9,365.0 550.2,365.3 550.5,364.4 550.8,362.1 551.2,361.2 551.5,360.8 551.8,359.1 552.1,357.4 552.4,357.6 552.7,358.8 553.0,357.1 553.4,355.8 553.7,357.4 554.0,359.2 554.3,364.6 554.6,365.9 554.9,370.5 555.2,374.5 555.6,376.0 555.9,379.6 556.2,382.6 556.5,384.5 556.8,386.6 557.1,383.5 557.4,376.9 557.8,373.3 558.1,368.6 558.4,361.6 558.7,352.8 559.0,344.9 559.3,338.4 559.6,332.2 560.0,326.3 560.3,329.9 560.6,334.0 560.9,340.1 561.2,343.8 561.5,347.1 561.8,350.2 562.1,354.1 562.5,356.2 562.8,358.8 563.1,362.4 563.4,365.2 563.7,367.0 564.0,370.4 564.3,373.6 564.7,376.5 565.0,378.8 565.3,381.4 565.6,380.7 565.9,379.9 566.2,379.5 566.5,378.5 566.9,375.4 567.2,373.7 567.5,371.9 567.8,370.0 568.1,366.0 568.4,364.8 568.7,361.9 569.1,362.0 569.4,359.4 569.7,358.9 570.0,357.7 570.3,356.3 570.6,354.5 570.9,350.9 571.3,348.8 571.6,347.9 571.9,345.6 572.2,342.6 572.5,340.5 572.8,339.2 573.1,340.4 573.4,340.0 573.8,340.0 574.1,339.5 574.4,339.7 574.7,338.6 575.0,333.9 575.3,330.2 575.6,325.2 576.0,322.5 576.3,322.2 576.6,323.8 576.9,323.7 577.2,324.4 577.5,325.7 577.8,324.5 578.2,324.4 578.5,322.5 578.8,319.8 579.1,318.5 579.4,316.7 579.7,312.4 580.0,309.2 580.4,306.7 580.7,303.4 581.0,299.4 581.3,296.4 581.6,298.0 581.9,296.6 582.2,297.9 582.6,297.1 582.9,295.0 583.2,295.7 583.5,296.8 583.8,295.3 584.1,292.4 584.4,290.9 584.7,289.0 585.1,286.4 585.4,284.1 585.7,282.5 586.0,279.1 586.3,277.9 586.6,276.6 586.9,276.3 587.3,273.1 587.6,272.3 587.9,270.4 588.2,267.8 588.5,265.7 588.8,264.4 589.1,262.5 589.5,262.2 589.8,258.1 590.1,256.0 590.4,255.9 590.7,254.7 591.0,254.2 591.3,255.3 591.7,254.1 592.0,252.7 592.3,253.1 592.6,252.4 592.9,252.8 593.2,253.4 593.5,252.5 593.9,253.7 594.2,253.9 594.5,253.6 594.8,254.4 595.1,254.2 595.4,253.1 595.7,252.7 596.0,253.2 596.4,251.6 596.7,253.4 597.0,253.7 597.3,250.5 597.6,250.2 597.9,251.3 598.2,252.0 598.6,251.4 598.9,249.9 599.2,250.3 599.5,252.4 599.8,248.4 600.1,248.6 600.4,248.1 600.8,248.8 601.1,248.3 601.4,247.9 601.7,248.8 602.0,250.6 602.3,252.1 602.6,250.9 603.0,251.4 603.3,251.5 603.6,251.6 603.9,253.0 604.2,251.3 604.5,252.5 604.8,253.4 605.2,251.4 605.5,252.6 605.8,253.3 606.1,252.4 606.4,251.7 606.7,250.5 607.0,250.2 607.3,251.5 607.7,253.0 608.0,253.2 608.3,250.6 608.6,250.9 608.9,250.6 609.2,250.8 609.5,250.5 609.9,249.0 610.2,251.5 610.5,251.5 610.8,249.0 611.1,251.5 611.4,251.9 611.7,250.6 612.1,250.6 612.4,249.9 612.7,250.7 613.0,251.8 613.3,250.9 613.6,251.2 613.9,250.5 614.3,250.1 614.6,249.3 614.9,248.8 615.2,248.6 615.5,249.7 615.8,250.5 616.1,250.3 616.5,252.5 616.8,252.5 617.1,253.1 617.4,253.1 617.7,253.8 618.0,253.8 618.3,252.2 618.6,252.4 619.0,251.6 619.3,251.7 619.6,252.0 619.9,251.6 620.2,251.5 620.5,252.2 620.8,253.8 621.2,252.4 621.5,252.3 621.8,253.0 622.1,252.2 622.4,250.9 622.7,251.5 623.0,250.3 623.4,251.7 623.7,251.9 624.0,252.0 624.3,252.5 624.6,252.6 624.9,252.6 625.2,251.3 625.6,252.0 625.9,252.5 626.2,253.0 626.5,251.8 626.8,251.3 627.1,252.9 627.4,252.1 627.8,252.8 628.1,251.8 628.4,251.8 628.7,250.5 629.0,251.8 629.3,251.3 629.6,249.9 629.9,252.0 630.3,251.7 630.6,252.4 630.9,251.8 631.2,251.8 631.5,251.6 631.8,251.4 632.1,250.3 632.5,250.6 632.8,252.7 633.1,249.8 633.4,250.5 633.7,249.9 634.0,251.1 634.3,250.6 634.7,250.1 635.0,249.8 635.3,250.4 635.6,250.0 635.9,249.4 636.2,249.2 636.5,249.9 636.9,249.4 637.2,249.2 637.5,248.9 637.8,248.9 638.1,249.5 638.4,247.8 638.7,246.9 639.1,247.2 639.4,247.7 639.7,247.4 640.0,247.8 640.3,247.9 640.6,246.6 640.9,245.4 641.2,246.5 641.6,245.8 641.9,245.3 642.2,244.8 642.5,246.1 642.8,247.1 643.1,246.5 643.4,246.1 643.8,246.9 644.1,248.6 644.4,248.2 644.7,247.2 645.0,247.2 645.3,248.8 645.6,247.9 646.0,248.0 646.3,247.6 646.6,248.2 646.9,249.6 647.2,247.4 647.5,247.4 647.8,247.6 648.2,246.9 648.5,249.3 648.8,247.7 649.1,248.0 649.4,248.1 649.7,247.5 650.0,248.1 650.4,246.5 650.7,248.5 651.0,246.6 651.3,247.2 651.6,248.8 651.9,247.2 652.2,248.5 652.5,248.4 652.9,246.9 653.2,248.2 653.5,247.6 653.8,247.2 654.1,246.6 654.4,245.5 654.7,246.0 655.1,246.0 655.4,245.3 655.7,244.5 656.0,246.3 656.3,245.4 656.6,244.8 656.9,247.1 657.3,247.7 657.6,246.0 657.9,245.5 658.2,245.8 658.5,244.5 658.8,245.9 659.1,245.8 659.5,246.4 659.8,244.9 660.1,246.4 660.4,245.1 660.7,245.9 661.0,244.6 661.3,246.3 661.7,245.1 662.0,245.6 662.3,242.9 662.6,243.7 662.9,243.3 663.2,242.5 663.5,242.2 663.8,242.4 664.2,242.8 664.5,244.1 664.8,243.2 665.1,244.4 665.4,244.8 665.7,245.1 666.0,244.4 666.4,246.1 666.7,245.3 667.0,245.9 667.3,245.4 667.6,246.3 667.9,247.8 668.2,247.8 668.6,246.9 668.9,247.1 669.2,248.4 669.5,249.0 669.8,249.2 670.1,250.6 670.4,251.7 670.8,250.7 671.1,251.8 671.4,253.4 671.7,253.7 672.0,252.5 672.3,252.7 672.6,253.1 673.0,256.1 673.3,255.6 673.6,253.8 673.9,256.4 674.2,257.2 674.5,256.6 674.8,257.2 675.1,257.9 675.5,258.4 675.8,258.3 676.1,257.9 676.4,260.4 676.7,259.6 677.0,258.2 677.3,257.0 677.7,256.7 678.0,256.4 678.3,255.2 678.6,254.6 678.9,253.9 679.2,255.4 679.5,255.9 679.9,257.3 680.2,257.5 680.5,258.4 680.8,258.9 681.1,260.1 681.4,260.5 681.7,260.6 682.1,260.9 682.4,259.6 682.7,261.0 683.0,260.0 683.3,260.0 683.6,259.9 683.9,258.3 684.3,260.1 684.6,259.5 684.9,259.6 685.2,258.2 685.5,258.7 685.8,259.5 686.1,259.1 686.4,258.7 686.8,261.5 687.1,260.1 687.4,258.1 687.7,257.9 688.0,257.3 688.3,257.6 688.6,258.0 689.0,258.3 689.3,257.4 689.6,255.4 689.9,256.9 690.2,256.7 690.5,256.3 690.8,254.9 691.2,255.8 691.5,254.8 691.8,253.9 692.1,252.7 692.4,253.4 692.7,255.4 693.0,257.4 693.4,258.7 693.7,258.2 694.0,259.5 694.3,262.3 694.6,264.6 694.9,264.6 695.2,261.5 695.6,258.5 695.9,255.8 696.2,253.8 696.5,251.3 696.8,250.2 697.1,251.3 697.4,250.7 697.7,247.3 698.1,246.2 698.4,246.5 698.7,247.5 699.0,247.2 699.3,249.9 699.6,249.1 699.9,249.0 700.3,251.2 700.6,251.1 700.9,251.2 701.2,249.9 701.5,252.2 701.8,251.9 702.1,251.0 702.5,252.3 702.8,252.0 703.1,253.1 703.4,254.4" fill="none" stroke="#00f" stroke-width="4.3" stroke-linejoin="round" stroke-linecap="round" clip-path="url(#cp0)"/>
<line x1="705.40" y1="264.20" x2="727.50" y2="264.20" stroke="#00f" stroke-width="4"/>
<line x1="706.90" y1="264.20" x2="727.50" y2="264.20" stroke="#000" stroke-width="1" stroke-opacity="0.7"/>
<line x1="275.50" y1="139.31" x2="727.50" y2="139.31" stroke="#ff0" stroke-width="3"/>
<line x1="275.50" y1="180.94" x2="727.50" y2="180.94" stroke="#0f0" stroke-width="3"/>
<line x1="275.50" y1="347.46" x2="727.50" y2="347.46" stroke="#0f0" stroke-width="3"/>
<line x1="275.50" y1="389.09" x2="727.50" y2="389.09" stroke="#ff0" stroke-width="3"/>
<line x1="275.50" y1="108.00" x2="275.50" y2="418.50" stroke="#00f" stroke-width="1" shape-rendering="crispEdges"/>
<line x1="727.50" y1="108.00" x2="727.50" y2="418.50" stroke="#262626" stroke-width="1" shape-rendering="crispEdges"/>
<line x1="275.00" y1="418.00" x2="728.00" y2="418.00" stroke="#262626" stroke-width="1" shape-rendering="crispEdges"/>
<line x1="275.50" y1="418.00" x2="275.50" y2="413.40" stroke="#262626" stroke-width="1" shape-rendering="crispEdges"/>
<text transform="translate(275.10,447.80)" x="-6.46" y="0" font-size="20.91" fill="#262626" textLength="12.92" lengthAdjust="spacingAndGlyphs">0</text>
<line x1="332.00" y1="418.00" x2="332.00" y2="413.40" stroke="#262626" stroke-width="1" shape-rendering="crispEdges"/>
<text transform="translate(331.60,447.80)" x="-6.46" y="0" font-size="20.91" fill="#262626" textLength="12.92" lengthAdjust="spacingAndGlyphs">3</text>
<line x1="388.50" y1="418.00" x2="388.50" y2="413.40" stroke="#262626" stroke-width="1" shape-rendering="crispEdges"/>
<text transform="translate(388.10,447.80)" x="-6.46" y="0" font-size="20.91" fill="#262626" textLength="12.92" lengthAdjust="spacingAndGlyphs">6</text>
<line x1="445.00" y1="418.00" x2="445.00" y2="413.40" stroke="#262626" stroke-width="1" shape-rendering="crispEdges"/>
<text transform="translate(444.60,447.80)" x="-6.46" y="0" font-size="20.91" fill="#262626" textLength="12.92" lengthAdjust="spacingAndGlyphs">9</text>
<line x1="501.50" y1="418.00" x2="501.50" y2="413.40" stroke="#262626" stroke-width="1" shape-rendering="crispEdges"/>
<text transform="translate(501.10,447.80)" x="-12.92" y="0" font-size="20.91" fill="#262626" textLength="25.83" lengthAdjust="spacingAndGlyphs">12</text>
<line x1="558.00" y1="418.00" x2="558.00" y2="413.40" stroke="#262626" stroke-width="1" shape-rendering="crispEdges"/>
<text transform="translate(557.60,447.80)" x="-12.92" y="0" font-size="20.91" fill="#262626" textLength="25.83" lengthAdjust="spacingAndGlyphs">15</text>
<line x1="614.50" y1="418.00" x2="614.50" y2="413.40" stroke="#262626" stroke-width="1" shape-rendering="crispEdges"/>
<text transform="translate(614.10,447.80)" x="-12.92" y="0" font-size="20.91" fill="#262626" textLength="25.83" lengthAdjust="spacingAndGlyphs">18</text>
<line x1="671.00" y1="418.00" x2="671.00" y2="413.40" stroke="#262626" stroke-width="1" shape-rendering="crispEdges"/>
<text transform="translate(670.60,447.80)" x="-12.92" y="0" font-size="20.91" fill="#262626" textLength="25.83" lengthAdjust="spacingAndGlyphs">21</text>
<line x1="727.50" y1="418.00" x2="727.50" y2="413.40" stroke="#262626" stroke-width="1" shape-rendering="crispEdges"/>
<text transform="translate(727.10,447.80)" x="-12.92" y="0" font-size="20.91" fill="#262626" textLength="25.83" lengthAdjust="spacingAndGlyphs">24</text>
<line x1="275.50" y1="139.31" x2="280.10" y2="139.31" stroke="#00f" stroke-width="1" shape-rendering="crispEdges"/>
<text transform="translate(264.50,147.11)" x="-38.75" y="0" font-size="20.91" fill="#00f" textLength="38.75" lengthAdjust="spacingAndGlyphs">300</text>
<line x1="275.50" y1="180.94" x2="280.10" y2="180.94" stroke="#00f" stroke-width="1" shape-rendering="crispEdges"/>
<text transform="translate(264.50,188.74)" x="-38.75" y="0" font-size="20.91" fill="#00f" textLength="38.75" lengthAdjust="spacingAndGlyphs">200</text>
<line x1="275.50" y1="222.57" x2="280.10" y2="222.57" stroke="#00f" stroke-width="1" shape-rendering="crispEdges"/>
<text transform="translate(264.50,230.37)" x="-38.75" y="0" font-size="20.91" fill="#00f" textLength="38.75" lengthAdjust="spacingAndGlyphs">100</text>
<line x1="275.50" y1="264.20" x2="280.10" y2="264.20" stroke="#00f" stroke-width="1" shape-rendering="crispEdges"/>
<text transform="translate(264.50,272.00)" x="-12.92" y="0" font-size="20.91" fill="#00f" textLength="12.92" lengthAdjust="spacingAndGlyphs">0</text>
<line x1="275.50" y1="305.83" x2="280.10" y2="305.83" stroke="#00f" stroke-width="1" shape-rendering="crispEdges"/>
<text transform="translate(264.50,313.63)" x="-46.07" y="0" font-size="20.91" fill="#00f" textLength="46.07" lengthAdjust="spacingAndGlyphs">-100</text>
<line x1="275.50" y1="347.46" x2="280.10" y2="347.46" stroke="#00f" stroke-width="1" shape-rendering="crispEdges"/>
<text transform="translate(264.50,355.26)" x="-46.07" y="0" font-size="20.91" fill="#00f" textLength="46.07" lengthAdjust="spacingAndGlyphs">-200</text>
<line x1="275.50" y1="389.09" x2="280.10" y2="389.09" stroke="#00f" stroke-width="1" shape-rendering="crispEdges"/>
<text transform="translate(264.50,396.89)" x="-46.07" y="0" font-size="20.91" fill="#00f" textLength="46.07" lengthAdjust="spacingAndGlyphs">-300</text>
<text transform="translate(719.50,107.00)" x="-126.85" y="0" font-size="14.83" fill="#000" textLength="126.85" lengthAdjust="spacingAndGlyphs">minute resolution</text>
<line x1="705.40" y1="143.00" x2="705.40" y2="418.00" stroke="#0ff" stroke-width="3"/>
<rect x="698.80" y="103.80" width="111" height="39.6" fill="#fff" stroke="#0ff" stroke-width="1.3"/>
<text transform="translate(705.80,130.60)" x="0.00" y="0" font-size="21.12" fill="#000" textLength="95.13" lengthAdjust="spacingAndGlyphs">time now</text>
<line x1="727.50" y1="108.00" x2="727.50" y2="418.50" stroke="#262626" stroke-width="1" shape-rendering="crispEdges"/>
<line x1="727.50" y1="114.38" x2="722.90" y2="114.38" stroke="#262626" stroke-width="1" shape-rendering="crispEdges"/>
<text transform="translate(736.10,122.18)" x="0.00" y="0" font-size="20.91" fill="#262626" textLength="25.83" lengthAdjust="spacingAndGlyphs">60</text>
<line x1="727.50" y1="164.32" x2="722.90" y2="164.32" stroke="#262626" stroke-width="1" shape-rendering="crispEdges"/>
<text transform="translate(736.10,172.12)" x="0.00" y="0" font-size="20.91" fill="#262626" textLength="25.83" lengthAdjust="spacingAndGlyphs">40</text>
<line x1="727.50" y1="214.26" x2="722.90" y2="214.26" stroke="#262626" stroke-width="1" shape-rendering="crispEdges"/>
<text transform="translate(736.10,222.06)" x="0.00" y="0" font-size="20.91" fill="#262626" textLength="25.83" lengthAdjust="spacingAndGlyphs">20</text>
<line x1="727.50" y1="264.20" x2="722.90" y2="264.20" stroke="#262626" stroke-width="1" shape-rendering="crispEdges"/>
<text transform="translate(736.10,272.00)" x="0.00" y="0" font-size="20.91" fill="#262626" textLength="12.92" lengthAdjust="spacingAndGlyphs">0</text>
<line x1="727.50" y1="314.14" x2="722.90" y2="314.14" stroke="#262626" stroke-width="1" shape-rendering="crispEdges"/>
<text transform="translate(736.10,321.94)" x="0.00" y="0" font-size="20.91" fill="#262626" textLength="33.16" lengthAdjust="spacingAndGlyphs">-20</text>
<line x1="727.50" y1="364.08" x2="722.90" y2="364.08" stroke="#262626" stroke-width="1" shape-rendering="crispEdges"/>
<text transform="translate(736.10,371.88)" x="0.00" y="0" font-size="20.91" fill="#262626" textLength="33.16" lengthAdjust="spacingAndGlyphs">-40</text>
<line x1="727.50" y1="414.02" x2="722.90" y2="414.02" stroke="#262626" stroke-width="1" shape-rendering="crispEdges"/>
<text transform="translate(736.10,421.82)" x="0.00" y="0" font-size="20.91" fill="#262626" textLength="33.16" lengthAdjust="spacingAndGlyphs">-60</text>
<text transform="translate(562.70,62.50)" x="-105.45" y="0" font-size="25.54" fill="#000" textLength="210.90" lengthAdjust="spacingAndGlyphs">Macquarie Island</text>
<text transform="translate(275.50,100.30)" x="0.00" y="0" font-size="12.88" fill="#000" textLength="249.88" lengthAdjust="spacingAndGlyphs">File Updated:11-Oct-2025 22:50:03 UTC</text>
<text transform="translate(500.90,479.20)" x="-61.52" y="0" font-size="23.48" fill="#262626" textLength="123.04" lengthAdjust="spacingAndGlyphs">UT Time /h</text>
<text transform="translate(208.20,263.80) rotate(-90)" x="-112.26" y="0" font-size="17.17" fill="#00f" textLength="224.51" lengthAdjust="spacingAndGlyphs">X Mean Magnetic Field / nT</text>
<text transform="translate(794.40,263.50) rotate(-90)" x="-100.64" y="0" font-size="17.05" fill="#262626" textLength="201.27" lengthAdjust="spacingAndGlyphs">Rate of Change / nT/min</text>
</g>
<g id="mid0">
<rect x="275.50" y="537.30" width="112.10" height="310.10" fill="#e6e6e6"/>
<rect x="633.43" y="537.30" width="94.07" height="310.10" fill="#e6e6e6"/>
</g>
<g id="top1">
<rect x="868.70" y="108.00" width="112.55" height="310.00" fill="#e6e6e6"/>
<rect x="1227.31" y="108.00" width="93.99" height="310.00" fill="#e6e6e6"/>
<clipPath id="cp1"><rect x="868.70" y="108.0" width="452.60" height="310.0"/></clipPath>
<path d="M868.7,253.3 869.0,229.8 869.3,236.3 869.6,258.8 870.0,264.2 870.3,257.1 870.6,266.0 870.9,267.8 871.2,260.6 871.5,253.1 871.8,248.6 872.2,253.1 872.5,246.3 872.8,243.8 873.1,259.4 873.4,252.5 873.7,260.4 874.0,254.6 874.4,242.7 874.7,251.6 875.0,250.8 875.3,246.5 875.6,255.7 875.9,263.8 876.2,263.0 876.6,257.2 876.9,242.1 877.2,298.4 877.5,249.5 877.8,243.0 878.1,247.7 878.4,259.4 878.8,260.8 879.1,257.8 879.4,254.0 879.7,257.4 880.0,258.1 880.3,258.6 880.6,267.7 881.0,266.4 881.3,259.3 881.6,259.2 881.9,256.6 882.2,251.5 882.5,258.1 882.8,253.3 883.2,259.6 883.5,264.9 883.8,262.3 884.1,264.8 884.4,254.9 884.7,256.5 885.0,250.2 885.4,256.3 885.7,246.7 886.0,249.6 886.3,253.6 886.6,257.6 886.9,256.3 887.2,259.2 887.6,258.6 887.9,255.1 888.2,248.2 888.5,249.8 888.8,250.4 889.1,262.5 889.4,270.0 889.8,257.4 890.1,251.6 890.4,255.8 890.7,252.8 891.0,247.2 891.3,253.8 891.6,259.2 892.0,261.3 892.3,272.2 892.6,263.6 892.9,257.7 893.2,254.6 893.5,258.8 893.8,258.4 894.2,251.0 894.5,250.3 894.8,252.3 895.1,263.5 895.4,260.9 895.7,257.9 896.0,261.3 896.4,250.7 896.7,260.9 897.0,286.4 897.3,278.5 897.6,249.2 897.9,249.8 898.2,298.7 898.6,269.9 898.9,249.8 899.2,259.0 899.5,239.3 899.8,257.9 900.1,258.9 900.4,254.5 900.8,271.0 901.1,265.3 901.4,265.9 901.7,257.0 902.0,253.0 902.3,236.1 902.6,248.0 903.0,256.4 903.3,242.0 903.6,246.9 903.9,253.7 904.2,265.3 904.5,204.8 904.8,265.2 905.2,258.2 905.5,268.9 905.8,261.3 906.1,222.7 906.4,238.1 906.7,246.7 907.0,262.3 907.4,217.4 907.7,232.9 908.0,266.6 908.3,281.5 908.6,273.3 908.9,252.1 909.2,251.7 909.6,241.1 909.9,250.3 910.2,253.7 910.5,259.1 910.8,250.3 911.1,255.2 911.4,262.4 911.8,265.9 912.1,253.3 912.4,240.5 912.7,273.2 913.0,266.4 913.3,275.1 913.6,276.3 914.0,298.7 914.3,257.2 914.6,254.7 914.9,260.6 915.2,276.6 915.5,261.5 915.8,259.9 916.2,268.3 916.5,277.4 916.8,262.7 917.1,255.3 917.4,259.9 917.7,259.3 918.0,267.4 918.4,257.5 918.7,259.2 919.0,260.5 919.3,266.3 919.6,246.9 919.9,253.0 920.2,246.5 920.6,256.1 920.9,251.7 921.2,262.5 921.5,192.3 921.8,266.7 922.1,251.3 922.4,248.0 922.8,238.9 923.1,261.6 923.4,276.9 923.7,276.3 924.0,256.8 924.3,251.6 924.6,249.5 925.0,237.9 925.3,236.9 925.6,236.8 925.9,254.9 926.2,247.8 926.5,255.2 926.8,245.3 927.2,248.6 927.5,242.7 927.8,261.9 928.1,252.6 928.4,232.7 928.7,233.7 929.0,264.6 929.4,261.1 929.7,248.2 930.0,258.9 930.3,250.9 930.6,264.8 930.9,248.7 931.2,244.4 931.6,253.5 931.9,256.8 932.2,244.2 932.5,213.6 932.8,190.8 933.1,268.6 933.4,253.5 933.8,256.2 934.1,265.0 934.4,257.3 934.7,249.5 935.0,255.8 935.3,264.1 935.6,256.4 936.0,260.6 936.3,268.5 936.6,252.9 936.9,235.1 937.2,249.8 937.5,262.2 937.8,258.6 938.2,255.3 938.5,245.3 938.8,233.3 939.1,250.9 939.4,239.9 939.7,253.7 940.0,270.4 940.4,257.5 940.7,263.6 941.0,250.4 941.3,306.2 941.6,275.8 941.9,259.6 942.2,193.9 942.6,281.7 942.9,293.7 943.2,270.9 943.5,286.9 943.8,282.1 944.1,262.7 944.4,245.8 944.8,260.2 945.1,270.8 945.4,265.0 945.7,278.7 946.0,272.7 946.3,263.0 946.6,245.0 947.0,250.7 947.3,244.2 947.6,258.6 947.9,256.4 948.2,254.9 948.5,228.8 948.8,214.5 949.2,245.7 949.5,295.1 949.8,193.9 950.1,312.0 950.4,262.2 950.7,242.1 951.0,270.4 951.4,269.6 951.7,259.8 952.0,280.0 952.3,253.7 952.6,259.4 952.9,295.8 953.2,298.0 953.6,277.7 953.9,260.7 954.2,231.8 954.5,209.5 954.8,269.0 955.1,241.6 955.4,376.4 955.8,229.2 956.1,266.4 956.4,266.1 956.7,274.1 957.0,257.6 957.3,243.8 957.6,250.8 958.0,253.0 958.3,271.2 958.6,266.8 958.9,243.1 959.2,241.6 959.5,272.0 959.8,271.3 960.2,269.6 960.5,277.9 960.8,228.0 961.1,212.6 961.4,263.3 961.7,265.2 962.0,265.2 962.4,274.6 962.7,276.7 963.0,254.1 963.3,252.9 963.6,252.7 963.9,250.9 964.2,282.2 964.6,255.7 964.9,226.2 965.2,265.5 965.5,286.0 965.8,300.2 966.1,287.2 966.4,241.2 966.8,271.1 967.1,244.7 967.4,277.4 967.7,261.2 968.0,239.4 968.3,234.6 968.6,197.0 969.0,267.5 969.3,312.0 969.6,294.8 969.9,259.9 970.2,239.6 970.5,324.9 970.8,241.4 971.2,273.5 971.5,267.3 971.8,252.4 972.1,216.6 972.4,264.2 972.7,284.3 973.0,265.2 973.4,256.8 973.7,243.9 974.0,259.8 974.3,274.6 974.6,280.6 974.9,287.3 975.2,263.8 975.6,277.5 975.9,263.3 976.2,236.6 976.5,250.9 976.8,275.0 977.1,266.9 977.4,252.8 977.8,266.8 978.1,264.1 978.4,222.7 978.7,232.1 979.0,288.0 979.3,312.0 979.6,290.4 980.0,243.3 980.3,281.5 980.6,271.6 980.9,238.0 981.2,205.0 981.5,236.5 981.9,265.5 982.2,303.7 982.5,268.2 982.8,244.8 983.1,250.6 983.4,256.0 983.7,295.7 984.1,285.9 984.4,282.0 984.7,255.0 985.0,262.9 985.3,302.4 985.6,171.4 985.9,200.3 986.3,238.8 986.6,236.2 986.9,249.6 987.2,258.1 987.5,254.2 987.8,240.4 988.1,244.1 988.5,253.8 988.8,267.9 989.1,276.2 989.4,275.8 989.7,256.3 990.0,233.3 990.3,396.7 990.7,220.8 991.0,270.9 991.3,193.9 991.6,270.2 991.9,234.0 992.2,239.4 992.5,209.7 992.9,250.8 993.2,258.3 993.5,240.1 993.8,243.0 994.1,225.8 994.4,253.6 994.7,237.1 995.1,248.9 995.4,229.7 995.7,231.0 996.0,274.8 996.3,255.9 996.6,228.0 996.9,252.1 997.3,251.9 997.6,252.6 997.9,220.2 998.2,220.1 998.5,263.8 998.8,253.7 999.1,247.0 999.5,285.2 999.8,259.7 1000.1,250.2 1000.4,240.7 1000.7,244.3 1001.0,242.7 1001.3,256.4 1001.7,253.6 1002.0,260.1 1002.3,255.3 1002.6,243.1 1002.9,260.9 1003.2,251.6 1003.5,265.3 1003.9,240.9 1004.2,240.4 1004.5,270.3 1004.8,244.5 1005.1,263.9 1005.4,236.7 1005.7,261.3 1006.1,269.0 1006.4,279.8 1006.7,269.4 1007.0,298.7 1007.3,134.6 1007.6,278.8 1007.9,252.4 1008.3,243.0 1008.6,266.4 1008.9,271.5 1009.2,265.3 1009.5,247.9 1009.8,230.9 1010.1,378.0 1010.5,234.9 1010.8,256.9 1011.1,246.4 1011.4,278.5 1011.7,269.3 1012.0,257.2 1012.3,224.7 1012.7,235.3 1013.0,268.1 1013.3,279.3 1013.6,262.3 1013.9,257.5 1014.2,265.8 1014.5,299.3 1014.9,133.1 1015.2,306.0 1015.5,245.1 1015.8,334.3 1016.1,228.5 1016.4,270.5 1016.7,269.7 1017.1,268.4 1017.4,264.3 1017.7,294.2 1018.0,282.4 1018.3,239.0 1018.6,222.7 1018.9,204.5 1019.3,240.2 1019.6,234.4 1019.9,264.0 1020.2,270.4 1020.5,261.5 1020.8,257.8 1021.1,301.3 1021.5,252.5 1021.8,225.7 1022.1,257.5 1022.4,262.7 1022.7,275.3 1023.0,272.2 1023.3,260.1 1023.7,272.2 1024.0,270.9 1024.3,278.4 1024.6,288.5 1024.9,269.3 1025.2,229.6 1025.5,254.2 1025.9,277.5 1026.2,258.6 1026.5,246.3 1026.8,224.3 1027.1,359.3 1027.4,224.2 1027.7,287.2 1028.1,313.1 1028.4,273.3 1028.7,277.5 1029.0,275.4 1029.3,265.5 1029.6,259.0 1029.9,262.9 1030.3,269.4 1030.6,241.8 1030.9,257.7 1031.2,262.1 1031.5,254.9 1031.8,262.9 1032.1,258.3 1032.5,247.6 1032.8,249.1 1033.1,273.6 1033.4,280.8 1033.7,273.3 1034.0,256.7 1034.3,262.4 1034.7,268.0 1035.0,279.9 1035.3,270.8 1035.6,254.2 1035.9,229.9 1036.2,248.8 1036.5,268.5 1036.9,263.4 1037.2,287.5 1037.5,251.4 1037.8,262.6 1038.1,269.7 1038.4,274.6 1038.7,259.2 1039.1,253.1 1039.4,252.5 1039.7,245.9 1040.0,244.2 1040.3,260.6 1040.6,282.7 1040.9,276.4 1041.3,255.0 1041.6,250.5 1041.9,263.1 1042.2,244.5 1042.5,243.8 1042.8,253.4 1043.1,256.3 1043.5,271.1 1043.8,262.4 1044.1,251.4 1044.4,241.3 1044.7,246.6 1045.0,261.3 1045.3,263.6 1045.7,264.9 1046.0,262.8 1046.3,255.6 1046.6,244.8 1046.9,241.3 1047.2,260.8 1047.5,258.6 1047.9,253.6 1048.2,260.1 1048.5,259.1 1048.8,255.0 1049.1,257.8 1049.4,255.6 1049.7,244.7 1050.1,260.9 1050.4,275.8 1050.7,277.0 1051.0,260.9 1051.3,248.5 1051.6,234.5 1051.9,245.1 1052.3,245.1 1052.6,254.1 1052.9,263.6 1053.2,263.1 1053.5,250.9 1053.8,235.5 1054.1,243.6 1054.5,283.2 1054.8,262.3 1055.1,247.8 1055.4,240.9 1055.7,249.1 1056.0,253.0 1056.3,270.0 1056.7,253.0 1057.0,243.2 1057.3,246.9 1057.6,260.0 1057.9,254.7 1058.2,262.9 1058.5,263.2 1058.9,254.3 1059.2,243.2 1059.5,260.7 1059.8,267.0 1060.1,258.9 1060.4,248.6 1060.7,252.6 1061.1,267.0 1061.4,268.7 1061.7,266.3 1062.0,250.9 1062.3,252.4 1062.6,270.2 1062.9,258.3 1063.3,246.6 1063.6,255.9 1063.9,251.2 1064.2,244.5 1064.5,246.3 1064.8,238.6 1065.1,244.2 1065.5,261.2 1065.8,261.0 1066.1,269.2 1066.4,268.8 1066.7,271.8 1067.0,249.5 1067.3,247.2 1067.7,262.4 1068.0,259.9 1068.3,279.6 1068.6,187.7 1068.9,285.6 1069.2,253.3 1069.5,251.6 1069.9,246.3 1070.2,246.1 1070.5,240.9 1070.8,251.7 1071.1,265.4 1071.4,272.4 1071.7,259.0 1072.1,248.1 1072.4,238.3 1072.7,247.4 1073.0,247.3 1073.3,254.4 1073.6,256.9 1073.9,264.5 1074.3,271.6 1074.6,284.2 1074.9,276.3 1075.2,254.3 1075.5,249.9 1075.8,249.1 1076.1,269.3 1076.5,258.2 1076.8,267.7 1077.1,277.0 1077.4,283.9 1077.7,267.6 1078.0,264.0 1078.3,237.6 1078.7,231.7 1079.0,242.5 1079.3,258.5 1079.6,254.7 1079.9,245.7 1080.2,239.5 1080.5,242.1 1080.9,248.3 1081.2,248.2 1081.5,259.3 1081.8,276.7 1082.1,263.6 1082.4,252.7 1082.7,251.6 1083.1,253.5 1083.4,264.6 1083.7,268.9 1084.0,268.8 1084.3,258.1 1084.6,258.2 1084.9,251.9 1085.3,257.7 1085.6,266.4 1085.9,261.3 1086.2,257.1 1086.5,258.2 1086.8,258.2 1087.1,247.8 1087.5,249.6 1087.8,248.7 1088.1,231.8 1088.4,241.0 1088.7,266.5 1089.0,256.2 1089.3,262.9 1089.7,259.5 1090.0,222.4 1090.3,231.1 1090.6,255.7 1090.9,241.8 1091.2,306.2 1091.5,245.7 1091.9,257.0 1092.2,254.8 1092.5,253.1 1092.8,258.6 1093.1,275.4 1093.4,253.4 1093.7,221.1 1094.1,266.6 1094.4,244.3 1094.7,242.7 1095.0,259.5 1095.3,285.4 1095.6,276.4 1095.9,281.1 1096.3,250.8 1096.6,259.0 1096.9,257.8 1097.2,275.9 1097.5,248.1 1097.8,266.6 1098.1,275.3 1098.5,257.3 1098.8,245.8 1099.1,239.6 1099.4,247.6 1099.7,266.8 1100.0,272.9 1100.3,257.3 1100.7,241.0 1101.0,238.7 1101.3,254.0 1101.6,280.7 1101.9,269.6 1102.2,271.5 1102.5,271.9 1102.9,258.7 1103.2,253.1 1103.5,244.2 1103.8,258.4 1104.1,279.9 1104.4,286.7 1104.7,258.4 1105.1,231.5 1105.4,231.4 1105.7,229.7 1106.0,255.1 1106.3,268.9 1106.6,247.7 1106.9,256.3 1107.3,247.7 1107.6,249.7 1107.9,258.9 1108.2,259.6 1108.5,261.4 1108.8,248.9 1109.1,256.0 1109.5,243.5 1109.8,237.6 1110.1,251.4 1110.4,254.7 1110.7,245.6 1111.0,254.6 1111.3,263.7 1111.7,246.8 1112.0,259.2 1112.3,252.3 1112.6,262.9 1112.9,272.1 1113.2,259.5 1113.5,235.6 1113.9,246.7 1114.2,257.6 1114.5,250.6 1114.8,259.1 1115.1,243.9 1115.4,247.8 1115.7,249.7 1116.1,227.6 1116.4,233.9 1116.7,244.3 1117.0,258.6 1117.3,243.9 1117.6,309.3 1117.9,241.9 1118.3,247.0 1118.6,248.1 1118.9,267.6 1119.2,281.2 1119.5,262.9 1119.8,253.4 1120.1,262.5 1120.5,248.2 1120.8,241.3 1121.1,260.0 1121.4,262.7 1121.7,272.0 1122.0,279.6 1122.3,253.3 1122.7,243.7 1123.0,255.6 1123.3,259.9 1123.6,272.6 1123.9,251.3 1124.2,231.2 1124.5,249.5 1124.9,262.8 1125.2,270.3 1125.5,264.9 1125.8,234.1 1126.1,238.1 1126.4,251.0 1126.7,257.8 1127.1,280.7 1127.4,277.9 1127.7,253.4 1128.0,239.0 1128.3,235.5 1128.6,258.3 1128.9,275.3 1129.3,266.2 1129.6,276.1 1129.9,262.2 1130.2,250.2 1130.5,251.1 1130.8,262.6 1131.1,259.6 1131.5,246.6 1131.8,246.6 1132.1,241.4 1132.4,265.3 1132.7,280.3 1133.0,275.4 1133.3,256.5 1133.7,257.5 1134.0,248.8 1134.3,231.7 1134.6,244.7 1134.9,228.5 1135.2,256.4 1135.5,261.0 1135.9,254.7 1136.2,229.4 1136.5,262.0 1136.8,259.7 1137.1,267.3 1137.4,245.2 1137.7,232.0 1138.1,243.0 1138.4,258.5 1138.7,267.3 1139.0,276.1 1139.3,244.0 1139.6,247.6 1139.9,254.2 1140.3,263.2 1140.6,265.5 1140.9,253.0 1141.2,260.0 1141.5,263.7 1141.8,258.8 1142.1,242.8 1142.5,257.3 1142.8,254.6 1143.1,259.4 1143.4,258.2 1143.7,258.8 1144.0,251.4 1144.3,248.5 1144.7,245.3 1145.0,240.4 1145.3,259.1 1145.6,269.3 1145.9,262.2 1146.2,255.9 1146.5,249.4 1146.9,247.3 1147.2,271.6 1147.5,268.0 1147.8,257.7 1148.1,253.7 1148.4,247.5 1148.7,247.4 1149.1,259.5 1149.4,261.1 1149.7,253.9 1150.0,239.3 1150.3,260.8 1150.6,238.9 1150.9,239.4 1151.3,228.4 1151.6,260.9 1151.9,292.1 1152.2,268.8 1152.5,255.7 1152.8,256.0 1153.1,270.8 1153.5,253.1 1153.8,261.6 1154.1,269.3 1154.4,263.1 1154.7,266.6 1155.0,259.0 1155.3,245.7 1155.7,259.9 1156.0,252.1 1156.3,258.6 1156.6,261.2 1156.9,259.7 1157.2,256.5 1157.5,249.5 1157.9,248.7 1158.2,252.3 1158.5,271.9 1158.8,268.8 1159.1,251.7 1159.4,255.3 1159.7,260.6 1160.1,248.1 1160.4,254.4 1160.7,250.2 1161.0,235.1 1161.3,248.2 1161.6,250.9 1161.9,256.0 1162.3,262.4 1162.6,265.0 1162.9,266.3 1163.2,253.4 1163.5,258.7 1163.8,245.5 1164.1,264.8 1164.5,272.5 1164.8,268.3 1165.1,273.3 1165.4,259.0 1165.7,259.6 1166.0,270.3 1166.3,263.3 1166.7,253.1 1167.0,241.3 1167.3,254.7 1167.6,260.2 1167.9,253.0 1168.2,241.7 1168.5,253.0 1168.9,259.1 1169.2,264.3 1169.5,258.5 1169.8,263.0 1170.1,255.8 1170.4,262.5 1170.7,252.7 1171.1,247.3 1171.4,263.1 1171.7,272.9 1172.0,263.5 1172.3,261.3 1172.6,256.1 1172.9,255.2 1173.3,268.5 1173.6,262.2 1173.9,256.4 1174.2,251.4 1174.5,261.6 1174.8,248.6 1175.1,252.7 1175.5,254.4 1175.8,254.4 1176.1,277.9 1176.4,260.8 1176.7,255.0 1177.0,264.4 1177.3,246.8 1177.7,247.0 1178.0,251.9 1178.3,259.0 1178.6,257.7 1178.9,256.3 1179.2,272.4 1179.5,270.9 1179.9,266.1 1180.2,249.0 1180.5,245.9 1180.8,253.5 1181.1,253.5 1181.4,255.3 1181.7,260.2 1182.1,264.7 1182.4,257.8 1182.7,250.8 1183.0,248.4 1183.3,248.6 1183.6,252.1 1183.9,267.1 1184.3,263.1 1184.6,263.7 1184.9,253.6 1185.2,256.2 1185.5,241.6 1185.8,251.1 1186.1,251.5 1186.5,260.4 1186.8,258.3 1187.1,244.8 1187.4,233.2 1187.7,238.5 1188.0,244.0 1188.3,254.7 1188.7,256.3 1189.0,265.3 1189.3,265.5 1189.6,255.4 1189.9,262.7 1190.2,264.8 1190.5,258.6 1190.9,257.8 1191.2,262.7 1191.5,260.9 1191.8,249.2 1192.1,237.9 1192.4,246.0 1192.7,248.8 1193.1,264.3 1193.4,260.5 1193.7,259.4 1194.0,252.7 1194.3,254.6 1194.6,256.1 1194.9,255.7 1195.3,249.1 1195.6,255.2 1195.9,251.4 1196.2,251.5 1196.5,257.1 1196.8,264.0 1197.1,262.0 1197.5,261.6 1197.8,275.2 1198.1,277.6 1198.4,237.2 1198.7,237.2 1199.0,234.6 1199.3,261.1 1199.7,277.8 1200.0,273.2 1200.3,268.3 1200.6,254.8 1200.9,252.8 1201.2,240.7 1201.5,248.0 1201.9,265.4 1202.2,264.7 1202.5,264.6 1202.8,257.8 1203.1,256.8 1203.4,255.1 1203.7,256.6 1204.1,262.2 1204.4,257.1 1204.7,254.3 1205.0,254.3 1205.3,256.3 1205.6,250.1 1205.9,257.5 1206.3,264.0 1206.6,258.8 1206.9,267.4 1207.2,275.1 1207.5,256.7 1207.8,250.3 1208.2,243.8 1208.5,247.6 1208.8,247.6 1209.1,248.3 1209.4,253.2 1209.7,256.9 1210.0,263.8 1210.4,269.1 1210.7,260.1 1211.0,258.2 1211.3,252.7 1211.6,253.7 1211.9,257.2 1212.2,256.9 1212.6,261.9 1212.9,257.0 1213.2,242.1 1213.5,261.7 1213.8,257.8 1214.1,255.3 1214.4,260.3 1214.8,243.9 1215.1,240.3 1215.4,257.0 1215.7,267.1 1216.0,273.4 1216.3,272.5 1216.6,257.7 1217.0,232.7 1217.3,234.8 1217.6,245.9 1217.9,256.0 1218.2,263.0 1218.5,254.7 1218.8,252.6 1219.2,256.4 1219.5,260.0 1219.8,258.6 1220.1,250.8 1220.4,256.3 1220.7,266.2 1221.0,268.9 1221.4,261.5 1221.7,250.2 1222.0,246.2 1222.3,251.3 1222.6,255.7 1222.9,257.6 1223.2,259.7 1223.6,258.0 1223.9,255.4 1224.2,263.2 1224.5,264.6 1224.8,263.9 1225.1,254.3 1225.4,249.4 1225.8,257.0 1226.1,259.6 1226.4,254.6 1226.7,247.4 1227.0,249.3 1227.3,262.8 1227.6,270.1 1228.0,275.0 1228.3,244.7 1228.6,237.7 1228.9,254.4 1229.2,284.6 1229.5,283.4 1229.8,262.6 1230.2,260.1 1230.5,245.8 1230.8,242.4 1231.1,252.7 1231.4,249.5 1231.7,241.1 1232.0,237.3 1232.4,249.9 1232.7,264.3 1233.0,273.3 1233.3,256.5 1233.6,249.7 1233.9,242.0 1234.2,259.0 1234.6,203.3 1234.9,268.9 1235.2,270.0 1235.5,256.1 1235.8,250.2 1236.1,256.8 1236.4,256.2 1236.8,251.8 1237.1,247.5 1237.4,247.0 1237.7,239.7 1238.0,241.7 1238.3,315.6 1238.6,239.9 1239.0,262.3 1239.3,261.7 1239.6,256.3 1239.9,244.4 1240.2,251.5 1240.5,256.2 1240.8,246.5 1241.2,252.6 1241.5,251.8 1241.8,264.0 1242.1,250.6 1242.4,263.1 1242.7,281.0 1243.0,245.0 1243.4,238.4 1243.7,258.5 1244.0,258.8 1244.3,266.1 1244.6,247.9 1244.9,265.4 1245.2,279.0 1245.6,262.7 1245.9,262.8 1246.2,268.9 1246.5,287.6 1246.8,304.0 1247.1,251.3 1247.4,228.3 1247.8,236.7 1248.1,256.3 1248.4,256.3 1248.7,262.8 1249.0,252.9 1249.3,243.2 1249.6,241.1 1250.0,249.8 1250.3,249.5 1250.6,258.4 1250.9,244.5 1251.2,269.2 1251.5,209.5 1251.8,274.0 1252.2,274.5 1252.5,263.2 1252.8,279.9 1253.1,259.8 1253.4,255.8 1253.7,260.4 1254.0,269.3 1254.4,245.4 1254.7,256.5 1255.0,266.8 1255.3,252.9 1255.6,262.6 1255.9,273.7 1256.2,264.4 1256.6,235.0 1256.9,223.8 1257.2,224.8 1257.5,225.0 1257.8,274.5 1258.1,267.3 1258.4,270.4 1258.8,252.4 1259.1,249.4 1259.4,260.9 1259.7,260.1 1260.0,255.0 1260.3,235.9 1260.6,256.7 1261.0,256.2 1261.3,286.1 1261.6,286.3 1261.9,257.4 1262.2,237.8 1262.5,245.7 1262.8,257.4 1263.2,251.4 1263.5,255.5 1263.8,254.9 1264.1,257.5 1264.4,250.4 1264.7,255.0 1265.0,255.7 1265.4,246.8 1265.7,233.5 1266.0,239.3 1266.3,273.5 1266.6,274.7 1266.9,275.2 1267.2,246.5 1267.6,343.7 1267.9,222.8 1268.2,241.8 1268.5,255.4 1268.8,270.5 1269.1,267.7 1269.4,233.4 1269.8,266.4 1270.1,279.1 1270.4,245.7 1270.7,241.6 1271.0,268.7 1271.3,250.9 1271.6,251.6 1272.0,249.6 1272.3,275.2 1272.6,279.0 1272.9,289.9 1273.2,265.3 1273.5,268.6 1273.8,257.6 1274.2,304.0 1274.5,253.3 1274.8,258.7 1275.1,275.0 1275.4,280.6 1275.7,259.1 1276.0,246.1 1276.4,262.1 1276.7,252.1 1277.0,247.8 1277.3,265.1 1277.6,252.3 1277.9,258.2 1278.2,242.6 1278.6,232.2 1278.9,244.2 1279.2,230.4 1279.5,253.1 1279.8,269.5 1280.1,292.7 1280.4,277.4 1280.8,260.8 1281.1,248.0 1281.4,232.2 1281.7,232.5 1282.0,272.6 1282.3,304.0 1282.6,304.0 1283.0,284.4 1283.3,242.4 1283.6,208.6 1283.9,247.5 1284.2,285.0 1284.5,291.2 1284.8,228.5 1285.2,208.6 1285.5,237.8 1285.8,246.2 1286.1,259.3 1286.4,261.1 1286.7,270.2 1287.0,253.6 1287.4,247.5 1287.7,251.1 1288.0,284.4 1288.3,270.4 1288.6,252.0 1288.9,285.9 1289.2,165.8 1289.6,275.7 1289.9,261.7 1290.2,260.2 1290.5,238.3 1290.8,243.9 1291.1,254.3 1291.4,266.2 1291.8,279.9 1292.1,285.6 1292.4,287.7 1292.7,253.0 1293.0,285.8 1293.3,251.3 1293.6,271.0 1294.0,282.5 1294.3,265.9 1294.6,263.5 1294.9,257.5 1295.2,246.3 1295.5,253.8 1295.8,255.1 1296.2,259.5 1296.5,250.3 1296.8,250.7 1297.1,257.6 1297.4,246.0 1297.7,267.9 1298.0,268.3 1298.4,269.0 1298.7,260.8" fill="none" stroke="#000" stroke-width="0.6" stroke-opacity="0.34" clip-path="url(#cp1)"/>
<line x1="868.70" y1="256.30" x2="1321.30" y2="256.30" stroke="#000" stroke-width="1" stroke-dasharray="21 12.3"/>
<path d="M868.7,326.6 869.0,326.8 869.3,329.1 869.6,327.6 869.9,326.4 870.3,327.5 870.6,327.8 870.9,328.5 871.2,327.9 871.5,329.3 871.8,329.1 872.1,330.8 872.5,329.8 872.8,329.2 873.1,330.1 873.4,330.0 873.7,328.6 874.0,329.5 874.3,328.7 874.7,330.1 875.0,329.1 875.3,329.6 875.6,330.0 875.9,332.2 876.2,334.9 876.5,336.7 876.9,336.8 877.2,337.3 877.5,341.4 877.8,343.4 878.1,345.7 878.4,349.6 878.7,350.8 879.1,353.2 879.4,355.0 879.7,355.5 880.0,355.5 880.3,356.9 880.6,359.5 880.9,360.0 881.3,359.9 881.6,358.3 881.9,357.3 882.2,356.5 882.5,355.7 882.8,355.0 883.1,354.8 883.5,353.7 883.8,351.1 884.1,348.5 884.4,346.8 884.7,345.0 885.0,342.4 885.3,342.2 885.7,341.1 886.0,342.5 886.3,340.4 886.6,338.5 886.9,338.8 887.2,338.1 887.5,338.1 887.9,336.9 888.2,337.5 888.5,335.0 888.8,334.4 889.1,333.1 889.4,332.1 889.7,330.2 890.1,331.1 890.4,329.1 890.7,329.7 891.0,329.6 891.3,329.1 891.6,326.8 891.9,327.7 892.3,326.3 892.6,326.3 892.9,325.2 893.2,326.5 893.5,324.3 893.8,323.5 894.1,323.2 894.5,321.5 894.8,321.8 895.1,322.1 895.4,322.5 895.7,322.1 896.0,323.8 896.3,324.5 896.7,324.7 897.0,324.9 897.3,326.5 897.6,329.3 897.9,330.9 898.2,330.3 898.5,327.9 898.9,327.9 899.2,327.0 899.5,325.4 899.8,324.0 900.1,322.5 900.4,321.8 900.7,321.6 901.1,322.7 901.4,322.9 901.7,322.4 902.0,324.4 902.3,327.6 902.6,327.7 902.9,329.6 903.3,329.9 903.6,329.7 903.9,325.8 904.2,324.3 904.5,321.4 904.8,317.6 905.1,316.3 905.5,314.2 905.8,312.4 906.1,310.3 906.4,308.6 906.7,307.1 907.0,304.6 907.3,304.1 907.7,301.7 908.0,299.5 908.3,298.7 908.6,297.9 908.9,297.5 909.2,296.7 909.5,297.8 909.9,297.9 910.2,296.3 910.5,297.1 910.8,296.1 911.1,295.1 911.4,294.5 911.7,295.4 912.1,295.1 912.4,295.2 912.7,297.5 913.0,297.4 913.3,297.3 913.6,297.2 913.9,298.4 914.3,299.4 914.6,301.5 914.9,302.6 915.2,306.7 915.5,308.1 915.8,310.5 916.1,309.1 916.5,309.4 916.8,308.9 917.1,307.6 917.4,307.8 917.7,307.2 918.0,306.8 918.3,306.8 918.7,304.9 919.0,307.0 919.3,306.8 919.6,304.7 919.9,302.9 920.2,298.3 920.5,293.5 920.9,292.3 921.2,289.2 921.5,287.0 921.8,284.1 922.1,281.6 922.4,278.3 922.7,279.0 923.1,282.3 923.4,284.6 923.7,288.2 924.0,290.0 924.3,292.0 924.6,290.0 924.9,288.0 925.3,285.3 925.6,282.0 925.9,279.6 926.2,277.6 926.5,280.5 926.8,283.0 927.1,285.3 927.5,287.9 927.8,288.2 928.1,286.5 928.4,287.2 928.7,288.2 929.0,287.0 929.3,287.2 929.7,287.6 930.0,289.9 930.3,287.4 930.6,283.2 930.9,280.2 931.2,277.9 931.5,275.3 931.9,271.8 932.2,267.1 932.5,263.3 932.8,261.7 933.1,257.7 933.4,255.7 933.7,253.1 934.1,251.2 934.4,249.2 934.7,246.8 935.0,245.9 935.3,245.2 935.6,243.9 935.9,243.2 936.3,243.7 936.6,241.3 936.9,241.6 937.2,241.6 937.5,242.8 937.8,243.8 938.1,242.8 938.5,244.4 938.8,244.5 939.1,246.6 939.4,247.6 939.7,249.5 940.0,249.6 940.3,251.3 940.7,254.0 941.0,256.5 941.3,259.2 941.6,262.5 941.9,262.8 942.2,264.4 942.5,261.0 942.9,260.5 943.2,259.8 943.5,257.2 943.8,255.8 944.1,255.0 944.4,252.4 944.7,250.8 945.1,249.3 945.4,246.3 945.7,243.8 946.0,242.6 946.3,241.4 946.6,242.2 946.9,239.9 947.3,239.0 947.6,238.7 947.9,240.1 948.2,240.0 948.5,238.8 948.8,235.5 949.1,232.2 949.5,228.8 949.8,226.4 950.1,223.0 950.4,219.9 950.7,216.3 951.0,212.9 951.3,212.7 951.7,214.6 952.0,215.4 952.3,215.0 952.6,212.4 952.9,214.3 953.2,218.1 953.5,220.3 953.9,221.2 954.2,224.3 954.5,230.2 954.8,233.7 955.1,237.1 955.4,242.7 955.7,249.4 956.1,254.7 956.4,259.1 956.7,262.9 957.0,266.8 957.3,267.9 957.6,272.1 957.9,275.2 958.3,276.2 958.6,274.0 958.9,272.0 959.2,270.0 959.5,267.7 959.8,265.6 960.1,265.8 960.5,270.1 960.8,273.2 961.1,274.2 961.4,276.4 961.7,277.8 962.0,276.7 962.3,276.1 962.7,274.4 963.0,272.8 963.3,270.8 963.6,269.1 963.9,266.0 964.2,267.3 964.5,266.6 964.9,268.7 965.2,270.3 965.5,271.7 965.8,268.8 966.1,269.3 966.4,266.7 966.7,263.8 967.1,264.0 967.4,261.6 967.7,257.3 968.0,255.4 968.3,252.4 968.6,249.3 968.9,245.3 969.3,244.1 969.6,241.3 969.9,238.4 970.2,234.9 970.5,238.3 970.8,242.4 971.1,244.8 971.5,249.0 971.8,254.5 972.1,257.5 972.4,260.9 972.7,264.1 973.0,268.6 973.3,272.6 973.7,274.4 974.0,276.1 974.3,279.1 974.6,281.9 974.9,283.5 975.2,285.0 975.5,284.4 975.9,283.9 976.2,282.7 976.5,281.1 976.8,280.6 977.1,279.0 977.4,277.6 977.7,277.3 978.1,275.7 978.4,273.4 978.7,272.0 979.0,273.8 979.3,275.3 979.6,276.1 979.9,277.4 980.3,277.7 980.6,281.0 980.9,285.1 981.2,285.4 981.5,288.8 981.8,289.0 982.1,289.0 982.5,290.4 982.8,289.2 983.1,289.2 983.4,290.8 983.7,290.3 984.0,291.1 984.3,292.3 984.7,289.4 985.0,290.0 985.3,290.4 985.6,288.7 985.9,287.6 986.2,287.8 986.5,285.3 986.9,283.4 987.2,278.6 987.5,276.2 987.8,274.6 988.1,273.0 988.4,270.6 988.7,269.7 989.1,268.2 989.4,265.5 989.7,268.2 990.0,273.3 990.3,277.5 990.6,281.8 990.9,287.3 991.3,291.8 991.6,297.2 991.9,296.0 992.2,291.8 992.5,287.9 992.8,284.6 993.1,282.2 993.5,279.9 993.8,275.9 994.1,276.6 994.4,281.3 994.7,285.1 995.0,290.4 995.3,294.1 995.7,297.3 996.0,300.3 996.3,305.4 996.6,307.1 996.9,310.0 997.2,311.5 997.5,315.2 997.9,318.1 998.2,319.7 998.5,320.3 998.8,319.2 999.1,317.2 999.4,317.7 999.7,319.2 1000.1,317.3 1000.4,315.4 1000.7,311.0 1001.0,309.6 1001.3,308.1 1001.6,305.0 1001.9,300.9 1002.3,300.7 1002.6,299.0 1002.9,299.2 1003.2,298.0 1003.5,296.4 1003.8,295.0 1004.1,292.2 1004.5,290.8 1004.8,290.0 1005.1,288.3 1005.4,287.8 1005.7,285.9 1006.0,286.7 1006.3,284.0 1006.7,283.3 1007.0,283.1 1007.3,280.5 1007.6,278.3 1007.9,274.9 1008.2,271.9 1008.5,268.7 1008.9,266.0 1009.2,260.0 1009.5,250.7 1009.8,251.1 1010.1,255.7 1010.4,262.1 1010.7,268.1 1011.1,276.7 1011.4,284.1 1011.7,290.8 1012.0,298.7 1012.3,305.2 1012.6,310.4 1012.9,318.5 1013.3,324.4 1013.6,326.4 1013.9,323.8 1014.2,321.7 1014.5,317.2 1014.8,311.7 1015.1,302.8 1015.5,294.5 1015.8,286.9 1016.1,278.3 1016.4,269.4 1016.7,260.2 1017.0,252.3 1017.3,245.4 1017.7,240.4 1018.0,236.1 1018.3,232.9 1018.6,228.8 1018.9,222.8 1019.2,225.0 1019.5,226.3 1019.9,229.4 1020.2,230.7 1020.5,232.8 1020.8,229.6 1021.1,227.3 1021.4,225.6 1021.7,222.8 1022.1,223.6 1022.4,225.1 1022.7,227.6 1023.0,229.6 1023.3,231.5 1023.6,234.6 1023.9,236.6 1024.3,241.1 1024.6,244.2 1024.9,244.4 1025.2,243.5 1025.5,243.6 1025.8,242.6 1026.1,240.0 1026.5,240.7 1026.8,237.4 1027.1,244.5 1027.4,251.7 1027.7,256.9 1028.0,260.9 1028.3,265.0 1028.7,268.3 1029.0,273.1 1029.3,275.3 1029.6,280.1 1029.9,284.5 1030.2,285.8 1030.5,287.7 1030.9,291.0 1031.2,293.6 1031.5,295.4 1031.8,297.4 1032.1,302.6 1032.4,303.9 1032.7,307.1 1033.1,310.1 1033.4,311.8 1033.7,313.0 1034.0,313.1 1034.3,315.1 1034.6,316.4 1034.9,314.0 1035.3,314.2 1035.6,311.5 1035.9,311.6 1036.2,309.9 1036.5,308.8 1036.8,309.4 1037.1,307.7 1037.5,308.4 1037.8,308.9 1038.1,307.0 1038.4,307.2 1038.7,308.1 1039.0,306.7 1039.3,306.5 1039.7,306.8 1040.0,305.5 1040.3,304.8 1040.6,301.9 1040.9,302.2 1041.2,300.3 1041.5,297.9 1041.9,295.1 1042.2,295.3 1042.5,293.8 1042.8,292.0 1043.1,291.8 1043.4,291.0 1043.7,289.8 1044.1,286.9 1044.4,286.4 1044.7,286.4 1045.0,287.9 1045.3,289.9 1045.6,290.7 1045.9,291.4 1046.3,289.6 1046.6,289.7 1046.9,288.4 1047.2,288.0 1047.5,287.7 1047.8,287.1 1048.1,284.4 1048.5,285.7 1048.8,284.3 1049.1,284.4 1049.4,282.0 1049.7,282.7 1050.0,282.5 1050.3,283.5 1050.7,280.4 1051.0,280.2 1051.3,278.9 1051.6,277.4 1051.9,278.6 1052.2,277.2 1052.5,276.4 1052.9,275.2 1053.2,273.8 1053.5,272.6 1053.8,270.6 1054.1,270.4 1054.4,268.7 1054.7,265.8 1055.1,265.1 1055.4,262.1 1055.7,258.7 1056.0,257.2 1056.3,256.1 1056.6,253.6 1056.9,253.6 1057.3,253.2 1057.6,251.5 1057.9,251.2 1058.2,251.7 1058.5,249.8 1058.8,251.2 1059.1,250.6 1059.5,250.2 1059.8,251.4 1060.1,251.7 1060.4,253.0 1060.7,253.3 1061.0,253.3 1061.3,255.1 1061.7,255.7 1062.0,256.6 1062.3,255.2 1062.6,254.8 1062.9,253.6 1063.2,253.5 1063.5,251.3 1063.9,250.7 1064.2,248.7 1064.5,246.6 1064.8,247.8 1065.1,247.2 1065.4,246.8 1065.7,247.0 1066.1,244.7 1066.4,243.9 1066.7,244.0 1067.0,244.8 1067.3,248.2 1067.6,247.6 1067.9,248.0 1068.3,247.8 1068.6,250.3 1068.9,252.4 1069.2,256.0 1069.5,253.4 1069.8,249.7 1070.1,244.3 1070.5,239.7 1070.8,234.7 1071.1,231.5 1071.4,227.2 1071.7,224.0 1072.0,219.7 1072.4,215.1 1072.7,210.6 1073.0,209.1 1073.3,205.4 1073.6,204.1 1073.9,199.6 1074.2,198.8 1074.6,198.9 1074.9,198.6 1075.2,198.8 1075.5,197.1 1075.8,197.2 1076.1,200.1 1076.4,202.9 1076.8,204.2 1077.1,206.1 1077.4,207.8 1077.7,209.5 1078.0,207.3 1078.3,204.8 1078.6,206.3 1079.0,205.7 1079.3,203.4 1079.6,203.4 1079.9,203.8 1080.2,203.7 1080.5,201.1 1080.8,200.7 1081.2,197.9 1081.5,197.7 1081.8,197.7 1082.1,196.1 1082.4,195.0 1082.7,197.4 1083.0,197.3 1083.4,198.8 1083.7,197.9 1084.0,198.0 1084.3,200.9 1084.6,200.7 1084.9,199.9 1085.2,201.5 1085.6,203.3 1085.9,204.2 1086.2,202.7 1086.5,204.9 1086.8,204.2 1087.1,207.6 1087.4,205.5 1087.8,205.2 1088.1,205.8 1088.4,205.4 1088.7,206.6 1089.0,207.5 1089.3,210.2 1089.6,212.6 1090.0,213.5 1090.3,210.8 1090.6,211.6 1090.9,208.7 1091.2,206.7 1091.5,206.4 1091.8,207.4 1092.2,205.5 1092.5,207.0 1092.8,209.2 1093.1,209.4 1093.4,210.1 1093.7,211.5 1094.0,212.1 1094.4,211.3 1094.7,211.7 1095.0,213.4 1095.3,210.7 1095.6,211.4 1095.9,212.7 1096.2,210.7 1096.6,210.5 1096.9,206.4 1097.2,206.4 1097.5,207.3 1097.8,208.1 1098.1,207.6 1098.4,209.2 1098.8,208.8 1099.1,208.5 1099.4,208.8 1099.7,210.1 1100.0,209.6 1100.3,210.6 1100.6,211.0 1101.0,212.9 1101.3,213.1 1101.6,212.4 1101.9,210.5 1102.2,206.8 1102.5,204.7 1102.8,201.3 1103.2,198.7 1103.5,199.8 1103.8,200.7 1104.1,203.0 1104.4,204.9 1104.7,206.8 1105.0,206.4 1105.4,205.5 1105.7,203.6 1106.0,202.4 1106.3,203.2 1106.6,204.7 1106.9,206.2 1107.2,206.4 1107.6,208.1 1107.9,209.3 1108.2,209.4 1108.5,210.6 1108.8,210.4 1109.1,212.4 1109.4,215.1 1109.8,214.7 1110.1,212.5 1110.4,211.9 1110.7,211.3 1111.0,208.4 1111.3,207.8 1111.6,205.4 1112.0,202.3 1112.3,199.6 1112.6,198.4 1112.9,197.5 1113.2,192.1 1113.5,191.9 1113.8,191.7 1114.2,188.7 1114.5,188.3 1114.8,189.5 1115.1,190.4 1115.4,190.6 1115.7,189.5 1116.0,190.4 1116.4,191.5 1116.7,192.9 1117.0,192.9 1117.3,196.5 1117.6,197.2 1117.9,200.6 1118.2,200.8 1118.6,202.8 1118.9,207.0 1119.2,211.3 1119.5,213.2 1119.8,215.0 1120.1,214.7 1120.4,215.9 1120.8,218.0 1121.1,219.8 1121.4,221.5 1121.7,221.5 1122.0,221.2 1122.3,221.4 1122.6,220.6 1123.0,222.6 1123.3,221.9 1123.6,222.7 1123.9,226.7 1124.2,225.9 1124.5,227.7 1124.8,228.2 1125.2,226.0 1125.5,224.4 1125.8,223.8 1126.1,223.9 1126.4,222.3 1126.7,220.6 1127.0,222.7 1127.4,222.8 1127.7,223.0 1128.0,223.7 1128.3,225.8 1128.6,225.0 1128.9,226.2 1129.2,228.3 1129.6,230.2 1129.9,229.6 1130.2,231.4 1130.5,232.6 1130.8,234.7 1131.1,236.2 1131.4,237.6 1131.8,238.3 1132.1,238.7 1132.4,240.2 1132.7,241.9 1133.0,243.3 1133.3,243.9 1133.6,243.9 1134.0,244.8 1134.3,245.0 1134.6,248.6 1134.9,247.0 1135.2,246.6 1135.5,245.9 1135.8,245.2 1136.2,243.9 1136.5,242.4 1136.8,242.0 1137.1,237.6 1137.4,236.8 1137.7,235.0 1138.0,233.3 1138.4,233.3 1138.7,231.8 1139.0,231.4 1139.3,230.2 1139.6,230.3 1139.9,229.5 1140.2,229.9 1140.6,230.5 1140.9,229.8 1141.2,228.9 1141.5,230.6 1141.8,230.5 1142.1,230.9 1142.4,231.0 1142.8,231.6 1143.1,230.6 1143.4,232.5 1143.7,233.2 1144.0,234.5 1144.3,235.4 1144.6,237.8 1145.0,237.6 1145.3,238.4 1145.6,237.3 1145.9,239.7 1146.2,238.8 1146.5,238.1 1146.8,236.3 1147.2,235.7 1147.5,233.9 1147.8,232.5 1148.1,230.3 1148.4,225.8 1148.7,224.7 1149.0,223.0 1149.4,221.1 1149.7,219.6 1150.0,217.6 1150.3,218.1 1150.6,218.3 1150.9,218.2 1151.2,217.0 1151.6,219.2 1151.9,221.2 1152.2,222.8 1152.5,223.4 1152.8,224.8 1153.1,226.4 1153.4,229.2 1153.8,231.6 1154.1,235.0 1154.4,238.4 1154.7,243.5 1155.0,243.1 1155.3,245.8 1155.6,248.0 1156.0,249.1 1156.3,250.0 1156.6,252.1 1156.9,255.2 1157.2,257.4 1157.5,258.9 1157.8,261.7 1158.2,262.4 1158.5,263.2 1158.8,263.2 1159.1,262.3 1159.4,263.2 1159.7,263.6 1160.0,264.5 1160.4,262.3 1160.7,260.8 1161.0,259.2 1161.3,260.6 1161.6,258.6 1161.9,259.2 1162.2,256.4 1162.6,256.2 1162.9,253.8 1163.2,253.3 1163.5,250.2 1163.8,247.0 1164.1,244.4 1164.4,241.4 1164.8,239.0 1165.1,236.2 1165.4,234.4 1165.7,233.1 1166.0,230.4 1166.3,229.3 1166.6,225.4 1167.0,226.6 1167.3,224.5 1167.6,225.6 1167.9,224.4 1168.2,225.2 1168.5,223.6 1168.8,223.1 1169.2,223.3 1169.5,221.7 1169.8,220.9 1170.1,221.1 1170.4,221.4 1170.7,222.1 1171.0,223.1 1171.4,221.9 1171.7,219.8 1172.0,222.9 1172.3,224.9 1172.6,224.2 1172.9,225.4 1173.2,226.4 1173.6,225.8 1173.9,227.6 1174.2,227.8 1174.5,229.6 1174.8,230.1 1175.1,230.2 1175.4,231.8 1175.8,232.4 1176.1,233.3 1176.4,233.3 1176.7,233.6 1177.0,235.6 1177.3,235.6 1177.6,236.9 1178.0,237.9 1178.3,237.0 1178.6,237.9 1178.9,239.5 1179.2,241.7 1179.5,241.3 1179.8,241.9 1180.2,242.3 1180.5,243.7 1180.8,246.4 1181.1,246.9 1181.4,245.5 1181.7,246.5 1182.0,248.9 1182.4,249.6 1182.7,247.9 1183.0,249.3 1183.3,249.9 1183.6,251.5 1183.9,252.1 1184.2,252.3 1184.6,251.4 1184.9,252.8 1185.2,252.7 1185.5,252.9 1185.8,253.3 1186.1,252.5 1186.4,251.5 1186.8,251.2 1187.1,252.0 1187.4,254.5 1187.7,253.1 1188.0,252.7 1188.3,253.0 1188.6,253.1 1189.0,252.9 1189.3,253.8 1189.6,253.6 1189.9,251.7 1190.2,253.1 1190.5,251.3 1190.8,252.0 1191.2,250.8 1191.5,251.2 1191.8,250.1 1192.1,250.8 1192.4,250.7 1192.7,251.5 1193.0,251.5 1193.4,249.6 1193.7,250.6 1194.0,249.2 1194.3,250.2 1194.6,249.0 1194.9,248.9 1195.2,248.3 1195.6,248.9 1195.9,249.4 1196.2,250.5 1196.5,248.3 1196.8,248.3 1197.1,249.5 1197.4,250.5 1197.8,250.5 1198.1,249.9 1198.4,249.3 1198.7,250.2 1199.0,249.0 1199.3,247.6 1199.6,246.1 1200.0,245.6 1200.3,245.9 1200.6,246.7 1200.9,246.3 1201.2,246.2 1201.5,246.4 1201.8,245.6 1202.2,244.0 1202.5,241.5 1202.8,239.3 1203.1,238.0 1203.4,235.1 1203.7,235.3 1204.0,235.4 1204.4,234.2 1204.7,235.0 1205.0,234.5 1205.3,233.6 1205.6,234.8 1205.9,233.7 1206.2,232.3 1206.6,232.8 1206.9,233.8 1207.2,231.9 1207.5,232.1 1207.8,231.1 1208.1,230.9 1208.4,230.5 1208.8,229.3 1209.1,229.4 1209.4,230.7 1209.7,231.9 1210.0,231.7 1210.3,232.5 1210.6,233.5 1211.0,231.5 1211.3,230.4 1211.6,230.0 1211.9,229.1 1212.2,229.4 1212.5,227.5 1212.8,227.7 1213.2,224.7 1213.5,225.0 1213.8,224.5 1214.1,225.2 1214.4,224.1 1214.7,224.8 1215.0,224.4 1215.4,224.2 1215.7,221.5 1216.0,221.6 1216.3,219.4 1216.6,219.3 1216.9,218.7 1217.2,219.3 1217.6,218.0 1217.9,217.1 1218.2,216.0 1218.5,214.6 1218.8,216.2 1219.1,216.6 1219.4,218.0 1219.8,216.7 1220.1,217.9 1220.4,217.7 1220.7,217.9 1221.0,219.5 1221.3,218.6 1221.6,218.2 1222.0,220.6 1222.3,219.9 1222.6,219.1 1222.9,218.2 1223.2,218.3 1223.5,218.9 1223.8,218.0 1224.2,220.0 1224.5,219.9 1224.8,219.0 1225.1,217.4 1225.4,215.5 1225.7,215.4 1226.0,214.0 1226.4,213.5 1226.7,212.8 1227.0,211.3 1227.3,213.1 1227.6,212.3 1227.9,210.7 1228.2,209.8 1228.6,209.6 1228.9,209.7 1229.2,209.3 1229.5,208.6 1229.8,207.0 1230.1,206.5 1230.4,206.1 1230.8,205.6 1231.1,204.1 1231.4,203.5 1231.7,203.3 1232.0,202.7 1232.3,201.4 1232.6,199.4 1233.0,197.8 1233.3,197.0 1233.6,195.3 1233.9,195.9 1234.2,194.7 1234.5,193.3 1234.8,190.9 1235.2,189.2 1235.5,189.0 1235.8,187.5 1236.1,184.3 1236.4,187.1 1236.7,188.8 1237.0,189.7 1237.4,193.2 1237.7,195.1 1238.0,197.5 1238.3,198.9 1238.6,201.5 1238.9,200.9 1239.2,200.6 1239.6,202.1 1239.9,200.9 1240.2,203.0 1240.5,205.3 1240.8,204.6 1241.1,205.7 1241.4,202.5 1241.8,203.0 1242.1,201.2 1242.4,202.1 1242.7,202.0 1243.0,200.3 1243.3,199.5 1243.6,199.2 1244.0,197.4 1244.3,194.8 1244.6,195.2 1244.9,190.6 1245.2,191.6 1245.5,189.0 1245.8,187.2 1246.2,187.9 1246.5,188.0 1246.8,188.7 1247.1,188.3 1247.4,188.7 1247.7,189.2 1248.0,188.6 1248.4,189.5 1248.7,189.8 1249.0,186.9 1249.3,189.4 1249.6,189.1 1249.9,188.9 1250.2,189.3 1250.6,189.0 1250.9,191.6 1251.2,191.2 1251.5,191.5 1251.8,192.5 1252.1,191.9 1252.4,193.0 1252.8,193.5 1253.1,195.3 1253.4,194.3 1253.7,195.4 1254.0,194.2 1254.3,195.6 1254.6,195.7 1255.0,196.3 1255.3,195.8 1255.6,197.0 1255.9,195.0 1256.2,195.2 1256.5,196.2 1256.8,196.6 1257.2,196.9 1257.5,195.4 1257.8,197.1 1258.1,196.9 1258.4,196.7 1258.7,196.9 1259.0,196.3 1259.4,196.1 1259.7,197.8 1260.0,198.8 1260.3,200.5 1260.6,202.7 1260.9,205.7 1261.2,207.5 1261.6,209.0 1261.9,211.2 1262.2,211.7 1262.5,213.7 1262.8,215.2 1263.1,216.0 1263.4,218.0 1263.8,219.5 1264.1,220.3 1264.4,223.3 1264.7,227.0 1265.0,228.0 1265.3,231.6 1265.6,233.6 1266.0,236.4 1266.3,236.7 1266.6,240.0 1266.9,241.1 1267.2,245.1 1267.5,248.2 1267.8,253.2 1268.2,257.1 1268.5,260.1 1268.8,269.6 1269.1,276.3 1269.4,275.6 1269.7,274.0 1270.0,275.3 1270.4,274.9 1270.7,275.7 1271.0,275.3 1271.3,275.2 1271.6,274.6 1271.9,274.3 1272.2,272.4 1272.6,272.1 1272.9,271.4 1273.2,275.4 1273.5,276.8 1273.8,282.4 1274.1,285.2 1274.4,287.5 1274.8,290.8 1275.1,294.0 1275.4,298.9 1275.7,303.5 1276.0,302.8 1276.3,301.5 1276.6,300.7 1277.0,301.7 1277.3,301.1 1277.6,300.8 1277.9,299.6 1278.2,300.8 1278.5,301.5 1278.8,303.3 1279.2,303.3 1279.5,304.8 1279.8,305.2 1280.1,304.2 1280.4,304.3 1280.7,305.8 1281.0,308.4 1281.4,307.0 1281.7,308.2 1282.0,306.8 1282.3,306.7 1282.6,308.3 1282.9,310.0 1283.2,310.9 1283.6,310.0 1283.9,310.1 1284.2,309.7 1284.5,309.8 1284.8,310.3 1285.1,310.0 1285.4,310.7 1285.8,310.4 1286.1,312.4 1286.4,313.5 1286.7,313.4 1287.0,313.7 1287.3,314.8 1287.6,315.8 1288.0,315.7 1288.3,316.7 1288.6,317.3 1288.9,320.0 1289.2,320.5 1289.5,317.0 1289.8,310.5 1290.2,307.8 1290.5,303.7 1290.8,300.3 1291.1,296.6 1291.4,295.6 1291.7,296.6 1292.0,295.9 1292.4,295.5 1292.7,296.2 1293.0,296.0 1293.3,299.5 1293.6,301.3 1293.9,302.1 1294.2,302.8 1294.6,303.9 1294.9,305.9 1295.2,306.9 1295.5,308.9 1295.8,311.2 1296.1,311.8 1296.4,256.1 1296.8,256.1 1297.1,256.1 1297.4,256.1 1297.7,256.1 1298.0,256.1 1298.3,256.1 1298.7,256.1 1299.0,256.1 1299.3,256.1 1299.6,256.1 1299.9,256.1 1300.2,256.1 1300.5,256.1 1300.9,256.1 1301.2,256.1 1301.5,256.1 1301.8,256.1 1302.1,256.1 1302.4,256.1 1302.7,256.1 1303.1,256.1 1303.4,256.1 1303.7,256.1 1304.0,256.1 1304.3,256.1 1304.6,256.1 1304.9,256.1 1305.3,256.1 1305.6,256.1 1305.9,256.1 1306.2,256.1 1306.5,256.1 1306.8,256.1 1307.1,256.1 1307.5,256.1 1307.8,256.1 1308.1,256.1 1308.4,256.1 1308.7,256.1 1309.0,256.1 1309.3,256.1 1309.7,256.1 1310.0,256.1 1310.3,256.1 1310.6,256.1 1310.9,256.1 1311.2,256.1 1311.5,256.1 1311.9,256.1 1312.2,256.1 1312.5,256.1 1312.8,256.1 1313.1,256.1 1313.4,256.1 1313.7,256.1 1314.1,256.1 1314.4,256.1 1314.7,256.1 1315.0,256.1 1315.3,256.1 1315.6,256.1 1315.9,256.1 1316.3,256.1 1316.6,256.1 1316.9,256.1 1317.2,256.1 1317.5,256.1 1317.8,256.1 1318.1,256.1 1318.5,256.1 1318.8,256.1 1319.1,256.1 1319.4,256.1 1319.7,256.1 1320.0,256.1 1320.3,256.1 1320.7,256.1 1321.0,256.1 1321.3,256.1 1321.6,256.1 1321.9,256.1" fill="none" stroke="#00f" stroke-width="4.3" stroke-linejoin="round" stroke-linecap="round" clip-path="url(#cp1)"/>
<line x1="1300.50" y1="256.30" x2="1321.30" y2="256.30" stroke="#000" stroke-width="1" stroke-opacity="0.7"/>
<line x1="868.70" y1="131.50" x2="1321.30" y2="131.50" stroke="#ff0" stroke-width="3"/>
<line x1="868.70" y1="162.70" x2="1321.30" y2="162.70" stroke="#0f0" stroke-width="3"/>
<line x1="868.70" y1="349.90" x2="1321.30" y2="349.90" stroke="#0f0" stroke-width="3"/>
<line x1="868.70" y1="381.10" x2="1321.30" y2="381.10" stroke="#ff0" stroke-width="3"/>
<line x1="868.70" y1="412.30" x2="1321.30" y2="412.30" stroke="#f00" stroke-width="3"/>
<line x1="868.70" y1="108.00" x2="868.70" y2="418.50" stroke="#00f" stroke-width="1" shape-rendering="crispEdges"/>
<line x1="1321.30" y1="108.00" x2="1321.30" y2="418.50" stroke="#262626" stroke-width="1" shape-rendering="crispEdges"/>
<line x1="868.20" y1="418.00" x2="1321.80" y2="418.00" stroke="#262626" stroke-width="1" shape-rendering="crispEdges"/>
<line x1="868.70" y1="418.00" x2="868.70" y2="413.40" stroke="#262626" stroke-width="1" shape-rendering="crispEdges"/>
<text transform="translate(868.30,447.80)" x="-6.46" y="0" font-size="20.91" fill="#262626" textLength="12.92" lengthAdjust="spacingAndGlyphs">0</text>
<line x1="925.28" y1="418.00" x2="925.28" y2="413.40" stroke="#262626" stroke-width="1" shape-rendering="crispEdges"/>
<text transform="translate(924.88,447.80)" x="-6.46" y="0" font-size="20.91" fill="#262626" textLength="12.92" lengthAdjust="spacingAndGlyphs">3</text>
<line x1="981.85" y1="418.00" x2="981.85" y2="413.40" stroke="#262626" stroke-width="1" shape-rendering="crispEdges"/>
<text transform="translate(981.45,447.80)" x="-6.46" y="0" font-size="20.91" fill="#262626" textLength="12.92" lengthAdjust="spacingAndGlyphs">6</text>
<line x1="1038.42" y1="418.00" x2="1038.42" y2="413.40" stroke="#262626" stroke-width="1" shape-rendering="crispEdges"/>
<text transform="translate(1038.02,447.80)" x="-6.46" y="0" font-size="20.91" fill="#262626" textLength="12.92" lengthAdjust="spacingAndGlyphs">9</text>
<line x1="1095.00" y1="418.00" x2="1095.00" y2="413.40" stroke="#262626" stroke-width="1" shape-rendering="crispEdges"/>
<text transform="translate(1094.60,447.80)" x="-12.92" y="0" font-size="20.91" fill="#262626" textLength="25.83" lengthAdjust="spacingAndGlyphs">12</text>
<line x1="1151.58" y1="418.00" x2="1151.58" y2="413.40" stroke="#262626" stroke-width="1" shape-rendering="crispEdges"/>
<text transform="translate(1151.17,447.80)" x="-12.92" y="0" font-size="20.91" fill="#262626" textLength="25.83" lengthAdjust="spacingAndGlyphs">15</text>
<line x1="1208.15" y1="418.00" x2="1208.15" y2="413.40" stroke="#262626" stroke-width="1" shape-rendering="crispEdges"/>
<text transform="translate(1207.75,447.80)" x="-12.92" y="0" font-size="20.91" fill="#262626" textLength="25.83" lengthAdjust="spacingAndGlyphs">18</text>
<line x1="1264.72" y1="418.00" x2="1264.72" y2="413.40" stroke="#262626" stroke-width="1" shape-rendering="crispEdges"/>
<text transform="translate(1264.32,447.80)" x="-12.92" y="0" font-size="20.91" fill="#262626" textLength="25.83" lengthAdjust="spacingAndGlyphs">21</text>
<line x1="1321.30" y1="418.00" x2="1321.30" y2="413.40" stroke="#262626" stroke-width="1" shape-rendering="crispEdges"/>
<text transform="translate(1320.90,447.80)" x="-12.92" y="0" font-size="20.91" fill="#262626" textLength="25.83" lengthAdjust="spacingAndGlyphs">24</text>
<line x1="868.70" y1="131.50" x2="873.30" y2="131.50" stroke="#00f" stroke-width="1" shape-rendering="crispEdges"/>
<text transform="translate(857.70,139.30)" x="-25.83" y="0" font-size="20.91" fill="#00f" textLength="25.83" lengthAdjust="spacingAndGlyphs">40</text>
<line x1="868.70" y1="193.90" x2="873.30" y2="193.90" stroke="#00f" stroke-width="1" shape-rendering="crispEdges"/>
<text transform="translate(857.70,201.70)" x="-25.83" y="0" font-size="20.91" fill="#00f" textLength="25.83" lengthAdjust="spacingAndGlyphs">20</text>
<line x1="868.70" y1="256.30" x2="873.30" y2="256.30" stroke="#00f" stroke-width="1" shape-rendering="crispEdges"/>
<text transform="translate(857.70,264.10)" x="-12.92" y="0" font-size="20.91" fill="#00f" textLength="12.92" lengthAdjust="spacingAndGlyphs">0</text>
<line x1="868.70" y1="318.70" x2="873.30" y2="318.70" stroke="#00f" stroke-width="1" shape-rendering="crispEdges"/>
<text transform="translate(857.70,326.50)" x="-33.16" y="0" font-size="20.91" fill="#00f" textLength="33.16" lengthAdjust="spacingAndGlyphs">-20</text>
<line x1="868.70" y1="381.10" x2="873.30" y2="381.10" stroke="#00f" stroke-width="1" shape-rendering="crispEdges"/>
<text transform="translate(857.70,388.90)" x="-33.16" y="0" font-size="20.91" fill="#00f" textLength="33.16" lengthAdjust="spacingAndGlyphs">-40</text>
<text transform="translate(1313.30,107.00)" x="-126.85" y="0" font-size="14.83" fill="#000" textLength="126.85" lengthAdjust="spacingAndGlyphs">minute resolution</text>
<line x1="1299.00" y1="143.00" x2="1299.00" y2="418.00" stroke="#0ff" stroke-width="3"/>
<rect x="1292.40" y="103.80" width="111" height="39.6" fill="#fff" stroke="#0ff" stroke-width="1.3"/>
<text transform="translate(1299.40,130.60)" x="0.00" y="0" font-size="21.12" fill="#000" textLength="95.13" lengthAdjust="spacingAndGlyphs">time now</text>
<line x1="1321.30" y1="108.00" x2="1321.30" y2="418.50" stroke="#262626" stroke-width="1" shape-rendering="crispEdges"/>
<line x1="1321.30" y1="131.50" x2="1316.70" y2="131.50" stroke="#262626" stroke-width="1" shape-rendering="crispEdges"/>
<text transform="translate(1329.90,139.30)" x="0.00" y="0" font-size="20.91" fill="#262626" textLength="12.92" lengthAdjust="spacingAndGlyphs">4</text>
<line x1="1321.30" y1="193.90" x2="1316.70" y2="193.90" stroke="#262626" stroke-width="1" shape-rendering="crispEdges"/>
<text transform="translate(1329.90,201.70)" x="0.00" y="0" font-size="20.91" fill="#262626" textLength="12.92" lengthAdjust="spacingAndGlyphs">2</text>
<line x1="1321.30" y1="256.30" x2="1316.70" y2="256.30" stroke="#262626" stroke-width="1" shape-rendering="crispEdges"/>
<text transform="translate(1329.90,264.10)" x="0.00" y="0" font-size="20.91" fill="#262626" textLength="12.92" lengthAdjust="spacingAndGlyphs">0</text>
<line x1="1321.30" y1="318.70" x2="1316.70" y2="318.70" stroke="#262626" stroke-width="1" shape-rendering="crispEdges"/>
<text transform="translate(1329.90,326.50)" x="0.00" y="0" font-size="20.91" fill="#262626" textLength="20.24" lengthAdjust="spacingAndGlyphs">-2</text>
<line x1="1321.30" y1="381.10" x2="1316.70" y2="381.10" stroke="#262626" stroke-width="1" shape-rendering="crispEdges"/>
<text transform="translate(1329.90,388.90)" x="0.00" y="0" font-size="20.91" fill="#262626" textLength="20.24" lengthAdjust="spacingAndGlyphs">-4</text>
<text transform="translate(1103.10,62.50)" x="-52.29" y="0" font-size="25.54" fill="#000" textLength="104.58" lengthAdjust="spacingAndGlyphs">Eyrewell</text>
<text transform="translate(868.70,100.30)" x="0.00" y="0" font-size="12.88" fill="#000" textLength="249.88" lengthAdjust="spacingAndGlyphs">File Updated:11-Oct-2025 22:48:12 UTC</text>
<text transform="translate(1094.40,479.20)" x="-61.52" y="0" font-size="23.48" fill="#262626" textLength="123.04" lengthAdjust="spacingAndGlyphs">UT Time /h</text>
<text transform="translate(814.50,263.80) rotate(-90)" x="-112.26" y="0" font-size="17.17" fill="#00f" textLength="224.51" lengthAdjust="spacingAndGlyphs">X Mean Magnetic Field / nT</text>
<text transform="translate(1373.90,263.50) rotate(-90)" x="-100.64" y="0" font-size="17.05" fill="#262626" textLength="201.27" lengthAdjust="spacingAndGlyphs">Rate of Change / nT/min</text>
</g>
<g id="mid1">
<rect x="868.70" y="537.30" width="112.55" height="310.10" fill="#e6e6e6"/>
<rect x="1227.31" y="537.30" width="93.99" height="310.10" fill="#e6e6e6"/>
</g>
<g id="top2">
<rect x="1464.60" y="108.00" width="112.38" height="310.00" fill="#e6e6e6"/>
<rect x="1821.87" y="108.00" width="92.63" height="310.00" fill="#e6e6e6"/>
<clipPath id="cp2"><rect x="1464.60" y="108.0" width="449.90" height="310.0"/></clipPath>
<path d="M1464.6,259.1 1464.9,258.2 1465.2,264.1 1465.5,253.7 1465.8,256.6 1466.2,265.4 1466.5,275.0 1466.8,253.4 1467.1,240.4 1467.4,248.0 1467.7,261.7 1468.0,266.7 1468.3,258.5 1468.7,250.2 1469.0,236.8 1469.3,239.8 1469.6,248.8 1469.9,248.1 1470.2,251.4 1470.5,248.4 1470.8,247.5 1471.2,250.4 1471.5,243.7 1471.8,249.3 1472.1,248.9 1472.4,249.2 1472.7,249.3 1473.0,249.4 1473.3,255.6 1473.7,257.7 1474.0,261.4 1474.3,256.1 1474.6,254.4 1474.9,252.4 1475.2,250.3 1475.5,255.5 1475.8,254.6 1476.2,259.7 1476.5,259.4 1476.8,252.9 1477.1,257.6 1477.4,258.7 1477.7,257.8 1478.0,251.8 1478.3,247.8 1478.7,252.6 1479.0,258.3 1479.3,250.2 1479.6,253.9 1479.9,260.5 1480.2,248.8 1480.5,251.6 1480.8,250.3 1481.2,251.6 1481.5,258.4 1481.8,263.2 1482.1,255.5 1482.4,249.6 1482.7,251.9 1483.0,243.2 1483.3,240.1 1483.7,248.2 1484.0,245.0 1484.3,237.3 1484.6,251.5 1484.9,261.3 1485.2,255.7 1485.5,254.7 1485.8,246.5 1486.2,251.9 1486.5,263.0 1486.8,247.7 1487.1,244.4 1487.4,237.3 1487.7,249.8 1488.0,251.2 1488.3,254.9 1488.7,257.6 1489.0,251.7 1489.3,246.9 1489.6,250.0 1489.9,253.9 1490.2,256.4 1490.5,256.2 1490.8,249.2 1491.2,248.2 1491.5,249.7 1491.8,250.3 1492.1,251.1 1492.4,256.3 1492.7,249.4 1493.0,242.3 1493.3,222.6 1493.7,259.8 1494.0,261.1 1494.3,259.4 1494.6,253.4 1494.9,246.9 1495.2,245.7 1495.5,255.7 1495.8,245.5 1496.2,261.3 1496.5,258.5 1496.8,249.8 1497.1,229.3 1497.4,230.5 1497.7,247.1 1498.0,243.9 1498.3,245.1 1498.7,243.0 1499.0,252.2 1499.3,250.2 1499.6,254.7 1499.9,238.2 1500.2,206.2 1500.5,265.3 1500.8,248.2 1501.2,238.8 1501.5,251.1 1501.8,277.2 1502.1,266.5 1502.4,258.1 1502.7,263.5 1503.0,271.6 1503.3,259.4 1503.7,246.6 1504.0,246.1 1504.3,236.1 1504.6,230.4 1504.9,265.1 1505.2,269.6 1505.5,257.3 1505.8,229.5 1506.2,225.9 1506.5,256.2 1506.8,264.1 1507.1,274.4 1507.4,262.0 1507.7,259.9 1508.0,237.6 1508.3,239.9 1508.7,248.5 1509.0,258.1 1509.3,258.6 1509.6,257.4 1509.9,251.9 1510.2,250.7 1510.5,263.3 1510.8,267.7 1511.2,254.2 1511.5,252.1 1511.8,231.3 1512.1,246.6 1512.4,226.4 1512.7,250.3 1513.0,258.4 1513.3,272.8 1513.7,264.8 1514.0,270.6 1514.3,256.1 1514.6,247.9 1514.9,243.1 1515.2,257.3 1515.5,247.8 1515.8,243.5 1516.2,248.9 1516.5,257.8 1516.8,263.3 1517.1,193.9 1517.4,272.6 1517.7,243.5 1518.0,250.6 1518.3,277.5 1518.7,261.2 1519.0,256.9 1519.3,274.5 1519.6,287.5 1519.9,282.7 1520.2,278.1 1520.5,260.7 1520.8,252.4 1521.1,246.9 1521.5,235.3 1521.8,248.8 1522.1,253.4 1522.4,259.0 1522.7,241.3 1523.0,245.1 1523.3,242.4 1523.6,266.3 1524.0,257.1 1524.3,251.5 1524.6,260.1 1524.9,271.4 1525.2,267.8 1525.5,257.6 1525.8,236.0 1526.1,248.6 1526.5,228.8 1526.8,267.2 1527.1,263.9 1527.4,253.3 1527.7,250.7 1528.0,256.5 1528.3,255.5 1528.6,252.9 1529.0,236.3 1529.3,240.8 1529.6,243.9 1529.9,235.6 1530.2,235.6 1530.5,237.9 1530.8,247.1 1531.1,266.5 1531.5,272.6 1531.8,268.4 1532.1,241.6 1532.4,250.3 1532.7,240.6 1533.0,244.6 1533.3,253.0 1533.6,254.7 1534.0,254.8 1534.3,246.5 1534.6,248.1 1534.9,254.4 1535.2,243.0 1535.5,246.7 1535.8,242.5 1536.1,262.8 1536.5,269.8 1536.8,257.2 1537.1,244.5 1537.4,264.2 1537.7,190.8 1538.0,273.7 1538.3,250.1 1538.6,237.8 1539.0,222.3 1539.3,268.6 1539.6,278.5 1539.9,241.9 1540.2,245.4 1540.5,241.4 1540.8,250.0 1541.1,246.4 1541.5,243.0 1541.8,270.5 1542.1,263.1 1542.4,250.8 1542.7,248.5 1543.0,214.6 1543.3,254.8 1543.6,231.4 1544.0,238.8 1544.3,258.4 1544.6,258.4 1544.9,277.3 1545.2,187.7 1545.5,265.3 1545.8,277.5 1546.1,271.1 1546.5,259.0 1546.8,245.8 1547.1,236.6 1547.4,234.9 1547.7,233.5 1548.0,260.3 1548.3,271.2 1548.6,266.9 1549.0,258.5 1549.3,253.5 1549.6,256.4 1549.9,270.0 1550.2,261.9 1550.5,206.2 1550.8,396.8 1551.1,201.1 1551.5,246.9 1551.8,244.4 1552.1,249.2 1552.4,257.3 1552.7,250.0 1553.0,249.3 1553.3,258.5 1553.6,239.3 1554.0,254.0 1554.3,249.5 1554.6,252.9 1554.9,289.3 1555.2,248.8 1555.5,267.3 1555.8,237.8 1556.1,221.5 1556.5,243.6 1556.8,240.6 1557.1,266.5 1557.4,273.8 1557.7,237.4 1558.0,228.1 1558.3,247.0 1558.6,255.4 1559.0,280.3 1559.3,273.2 1559.6,256.5 1559.9,239.2 1560.2,255.1 1560.5,263.9 1560.8,260.3 1561.1,259.0 1561.5,248.1 1561.8,276.0 1562.1,181.6 1562.4,282.5 1562.7,262.2 1563.0,217.1 1563.3,210.9 1563.6,223.8 1564.0,263.3 1564.3,275.7 1564.6,254.0 1564.9,267.9 1565.2,263.3 1565.5,249.9 1565.8,248.7 1566.1,256.6 1566.5,232.9 1566.8,236.8 1567.1,243.3 1567.4,227.9 1567.7,329.2 1568.0,228.0 1568.3,258.6 1568.6,266.4 1569.0,251.9 1569.3,238.0 1569.6,266.8 1569.9,284.3 1570.2,231.0 1570.5,215.6 1570.8,235.3 1571.1,255.1 1571.5,256.1 1571.8,248.0 1572.1,228.6 1572.4,249.5 1572.7,257.9 1573.0,249.3 1573.3,275.4 1573.6,279.0 1574.0,243.4 1574.3,244.2 1574.6,251.2 1574.9,248.5 1575.2,258.2 1575.5,245.8 1575.8,244.5 1576.1,264.2 1576.5,253.3 1576.8,262.9 1577.1,286.0 1577.4,225.1 1577.7,240.4 1578.0,269.7 1578.3,237.8 1578.6,253.0 1578.9,247.6 1579.3,236.6 1579.6,251.4 1579.9,249.5 1580.2,233.5 1580.5,260.6 1580.8,166.2 1581.1,271.4 1581.4,263.7 1581.8,241.3 1582.1,217.1 1582.4,238.4 1582.7,271.0 1583.0,266.5 1583.3,254.1 1583.6,240.7 1583.9,274.0 1584.3,296.8 1584.6,251.1 1584.9,253.1 1585.2,222.3 1585.5,390.7 1585.8,217.2 1586.1,249.7 1586.4,261.3 1586.8,275.2 1587.1,245.7 1587.4,249.2 1587.7,232.0 1588.0,229.4 1588.3,258.2 1588.6,261.1 1588.9,271.5 1589.3,257.6 1589.6,251.4 1589.9,266.7 1590.2,275.2 1590.5,246.4 1590.8,264.4 1591.1,268.7 1591.4,264.2 1591.8,229.3 1592.1,235.2 1592.4,248.7 1592.7,210.2 1593.0,243.3 1593.3,255.8 1593.6,255.5 1593.9,256.2 1594.3,248.7 1594.6,260.6 1594.9,295.2 1595.2,270.0 1595.5,255.7 1595.8,260.6 1596.1,283.9 1596.4,274.8 1596.8,269.0 1597.1,218.2 1597.4,221.6 1597.7,255.8 1598.0,285.3 1598.3,308.0 1598.6,275.3 1598.9,259.6 1599.3,237.5 1599.6,254.1 1599.9,269.6 1600.2,284.0 1600.5,253.6 1600.8,256.6 1601.1,277.5 1601.4,169.3 1601.8,272.5 1602.1,270.8 1602.4,267.2 1602.7,244.1 1603.0,221.3 1603.3,199.9 1603.6,217.4 1603.9,239.8 1604.3,390.7 1604.6,226.0 1604.9,264.2 1605.2,282.4 1605.5,251.8 1605.8,234.2 1606.1,262.9 1606.4,245.8 1606.8,229.7 1607.1,239.6 1607.4,239.0 1607.7,221.0 1608.0,226.1 1608.3,249.0 1608.6,258.7 1608.9,253.0 1609.3,223.7 1609.6,244.5 1609.9,251.1 1610.2,251.7 1610.5,211.2 1610.8,135.5 1611.1,303.7 1611.4,267.1 1611.8,266.8 1612.1,275.4 1612.4,271.3 1612.7,266.5 1613.0,242.0 1613.3,273.4 1613.6,220.1 1613.9,228.7 1614.3,245.2 1614.6,244.1 1614.9,238.5 1615.2,271.3 1615.5,275.1 1615.8,230.0 1616.1,190.9 1616.4,323.0 1616.8,240.3 1617.1,307.1 1617.4,273.4 1617.7,283.0 1618.0,274.7 1618.3,260.4 1618.6,247.4 1618.9,245.9 1619.3,246.3 1619.6,266.4 1619.9,271.9 1620.2,256.7 1620.5,261.5 1620.8,282.1 1621.1,232.6 1621.4,207.8 1621.8,228.3 1622.1,241.4 1622.4,262.3 1622.7,230.7 1623.0,356.9 1623.3,212.6 1623.6,238.5 1623.9,268.2 1624.3,279.8 1624.6,289.1 1624.9,282.5 1625.2,230.4 1625.5,253.2 1625.8,246.1 1626.1,269.2 1626.4,254.6 1626.8,245.1 1627.1,255.6 1627.4,256.7 1627.7,250.0 1628.0,245.1 1628.3,250.8 1628.6,267.5 1628.9,271.0 1629.3,267.5 1629.6,253.0 1629.9,267.7 1630.2,276.8 1630.5,270.2 1630.8,244.4 1631.1,245.7 1631.4,227.5 1631.8,248.1 1632.1,249.6 1632.4,245.8 1632.7,238.4 1633.0,249.9 1633.3,274.6 1633.6,275.9 1633.9,258.5 1634.2,241.6 1634.6,276.0 1634.9,273.6 1635.2,285.5 1635.5,254.2 1635.8,258.2 1636.1,249.3 1636.4,257.8 1636.7,245.1 1637.1,252.1 1637.4,255.8 1637.7,247.8 1638.0,222.2 1638.3,250.1 1638.6,256.9 1638.9,271.7 1639.2,265.7 1639.6,238.8 1639.9,234.2 1640.2,232.5 1640.5,257.4 1640.8,283.2 1641.1,267.5 1641.4,262.4 1641.7,254.0 1642.1,254.2 1642.4,259.7 1642.7,247.3 1643.0,257.0 1643.3,256.7 1643.6,259.9 1643.9,233.0 1644.2,240.8 1644.6,243.1 1644.9,255.1 1645.2,266.3 1645.5,260.3 1645.8,238.6 1646.1,242.5 1646.4,240.6 1646.7,247.7 1647.1,248.9 1647.4,267.1 1647.7,279.4 1648.0,268.7 1648.3,263.3 1648.6,247.1 1648.9,248.0 1649.2,265.7 1649.6,268.6 1649.9,257.5 1650.2,246.0 1650.5,243.7 1650.8,246.3 1651.1,245.2 1651.4,259.6 1651.7,266.0 1652.1,240.7 1652.4,243.0 1652.7,248.6 1653.0,233.2 1653.3,221.4 1653.6,231.7 1653.9,239.6 1654.2,263.2 1654.6,274.6 1654.9,261.1 1655.2,250.0 1655.5,237.5 1655.8,241.7 1656.1,284.0 1656.4,269.9 1656.7,249.9 1657.1,264.3 1657.4,260.8 1657.7,248.9 1658.0,240.1 1658.3,250.9 1658.6,251.3 1658.9,273.2 1659.2,283.6 1659.6,280.0 1659.9,267.3 1660.2,265.4 1660.5,237.6 1660.8,261.5 1661.1,257.5 1661.4,250.9 1661.7,254.8 1662.1,259.9 1662.4,249.3 1662.7,239.3 1663.0,256.4 1663.3,256.8 1663.6,257.2 1663.9,232.9 1664.2,256.7 1664.6,254.0 1664.9,250.3 1665.2,251.8 1665.5,271.4 1665.8,262.0 1666.1,247.3 1666.4,250.6 1666.7,238.5 1667.1,237.9 1667.4,250.2 1667.7,244.1 1668.0,243.4 1668.3,261.8 1668.6,280.8 1668.9,264.6 1669.2,258.4 1669.6,238.0 1669.9,243.0 1670.2,293.7 1670.5,258.9 1670.8,268.9 1671.1,235.6 1671.4,245.8 1671.7,230.8 1672.1,240.3 1672.4,241.4 1672.7,226.0 1673.0,222.8 1673.3,252.6 1673.6,256.0 1673.9,252.2 1674.2,233.0 1674.6,228.7 1674.9,241.8 1675.2,230.4 1675.5,227.6 1675.8,286.0 1676.1,296.6 1676.4,293.7 1676.7,253.3 1677.1,254.0 1677.4,245.3 1677.7,237.1 1678.0,227.9 1678.3,216.3 1678.6,240.9 1678.9,252.1 1679.2,268.9 1679.6,259.3 1679.9,257.1 1680.2,253.5 1680.5,253.5 1680.8,241.5 1681.1,249.3 1681.4,237.4 1681.7,247.0 1682.1,244.1 1682.4,243.2 1682.7,234.6 1683.0,233.5 1683.3,247.0 1683.6,254.2 1683.9,271.8 1684.2,262.5 1684.6,251.3 1684.9,249.6 1685.2,232.6 1685.5,241.8 1685.8,248.8 1686.1,260.4 1686.4,259.0 1686.7,253.8 1687.1,244.1 1687.4,260.5 1687.7,270.7 1688.0,281.6 1688.3,298.4 1688.6,269.4 1688.9,235.6 1689.2,239.5 1689.5,232.5 1689.9,256.1 1690.2,254.6 1690.5,251.9 1690.8,258.6 1691.1,244.7 1691.4,251.9 1691.7,266.1 1692.0,297.1 1692.4,280.2 1692.7,244.8 1693.0,228.5 1693.3,222.9 1693.6,259.8 1693.9,299.3 1694.2,299.3 1694.5,282.4 1694.9,267.4 1695.2,298.4 1695.5,240.0 1695.8,262.8 1696.1,250.0 1696.4,258.0 1696.7,254.1 1697.0,258.3 1697.4,258.9 1697.7,249.1 1698.0,212.2 1698.3,246.5 1698.6,252.5 1698.9,263.9 1699.2,255.4 1699.5,236.5 1699.9,222.3 1700.2,250.3 1700.5,268.7 1700.8,275.7 1701.1,252.9 1701.4,274.7 1701.7,274.1 1702.0,263.9 1702.4,248.3 1702.7,235.9 1703.0,256.7 1703.3,266.6 1703.6,238.3 1703.9,233.9 1704.2,261.8 1704.5,244.0 1704.9,247.1 1705.2,233.4 1705.5,250.8 1705.8,242.7 1706.1,248.5 1706.4,242.1 1706.7,250.6 1707.0,253.1 1707.4,250.1 1707.7,256.9 1708.0,246.9 1708.3,245.6 1708.6,265.2 1708.9,272.2 1709.2,217.7 1709.5,234.4 1709.9,254.0 1710.2,247.7 1710.5,253.8 1710.8,247.9 1711.1,256.0 1711.4,290.3 1711.7,280.6 1712.0,271.1 1712.4,267.3 1712.7,279.9 1713.0,242.6 1713.3,261.2 1713.6,267.8 1713.9,253.3 1714.2,243.3 1714.5,242.4 1714.9,250.3 1715.2,230.9 1715.5,226.4 1715.8,298.4 1716.1,240.7 1716.4,269.9 1716.7,258.9 1717.0,266.1 1717.4,264.1 1717.7,249.8 1718.0,251.4 1718.3,243.2 1718.6,251.1 1718.9,251.6 1719.2,255.5 1719.5,256.3 1719.9,242.7 1720.2,233.4 1720.5,249.4 1720.8,265.3 1721.1,271.2 1721.4,274.2 1721.7,248.4 1722.0,248.6 1722.4,244.2 1722.7,253.7 1723.0,263.4 1723.3,257.9 1723.6,262.8 1723.9,248.9 1724.2,242.9 1724.5,246.2 1724.9,255.8 1725.2,276.0 1725.5,267.1 1725.8,254.7 1726.1,250.0 1726.4,244.3 1726.7,251.4 1727.0,233.8 1727.4,241.8 1727.7,270.1 1728.0,258.6 1728.3,245.5 1728.6,246.3 1728.9,248.7 1729.2,247.6 1729.5,244.6 1729.9,243.2 1730.2,248.4 1730.5,267.1 1730.8,267.5 1731.1,259.1 1731.4,248.1 1731.7,241.2 1732.0,268.1 1732.4,276.1 1732.7,265.0 1733.0,249.7 1733.3,249.7 1733.6,243.1 1733.9,265.2 1734.2,271.8 1734.5,267.5 1734.9,252.2 1735.2,238.6 1735.5,231.5 1735.8,246.4 1736.1,237.9 1736.4,250.7 1736.7,242.7 1737.0,243.6 1737.4,244.7 1737.7,253.7 1738.0,259.5 1738.3,258.6 1738.6,263.1 1738.9,258.9 1739.2,255.6 1739.5,251.3 1739.9,237.7 1740.2,250.4 1740.5,265.5 1740.8,237.4 1741.1,244.9 1741.4,242.6 1741.7,256.5 1742.0,247.2 1742.4,251.2 1742.7,251.0 1743.0,268.0 1743.3,262.2 1743.6,248.9 1743.9,260.4 1744.2,271.7 1744.5,241.7 1744.9,241.4 1745.2,244.1 1745.5,248.8 1745.8,255.7 1746.1,260.0 1746.4,269.2 1746.7,264.6 1747.0,247.5 1747.3,241.7 1747.7,233.9 1748.0,258.9 1748.3,254.0 1748.6,264.6 1748.9,260.2 1749.2,250.5 1749.5,251.4 1749.8,247.0 1750.2,262.0 1750.5,246.9 1750.8,268.5 1751.1,272.1 1751.4,279.8 1751.7,249.3 1752.0,243.4 1752.3,238.0 1752.7,244.9 1753.0,251.9 1753.3,257.7 1753.6,263.7 1753.9,253.5 1754.2,250.4 1754.5,254.8 1754.8,259.6 1755.2,260.5 1755.5,256.8 1755.8,243.6 1756.1,235.6 1756.4,251.5 1756.7,273.0 1757.0,268.6 1757.3,267.9 1757.7,248.2 1758.0,231.7 1758.3,245.6 1758.6,274.8 1758.9,276.2 1759.2,255.2 1759.5,244.4 1759.8,234.1 1760.2,234.5 1760.5,263.5 1760.8,261.6 1761.1,277.1 1761.4,258.8 1761.7,245.5 1762.0,245.4 1762.3,238.5 1762.7,246.0 1763.0,258.4 1763.3,245.9 1763.6,249.2 1763.9,245.7 1764.2,244.5 1764.5,248.8 1764.8,254.9 1765.2,256.4 1765.5,251.1 1765.8,250.1 1766.1,250.9 1766.4,241.1 1766.7,253.0 1767.0,267.9 1767.3,258.9 1767.7,255.0 1768.0,242.7 1768.3,257.0 1768.6,245.5 1768.9,245.0 1769.2,238.0 1769.5,231.4 1769.8,264.5 1770.2,272.1 1770.5,262.8 1770.8,227.1 1771.1,235.3 1771.4,258.7 1771.7,255.8 1772.0,250.2 1772.3,243.8 1772.7,233.0 1773.0,232.7 1773.3,254.8 1773.6,267.6 1773.9,260.6 1774.2,246.3 1774.5,239.3 1774.8,237.9 1775.2,248.3 1775.5,257.4 1775.8,261.1 1776.1,257.6 1776.4,256.8 1776.7,253.2 1777.0,256.9 1777.3,245.9 1777.7,238.0 1778.0,246.8 1778.3,246.5 1778.6,269.1 1778.9,266.8 1779.2,256.9 1779.5,259.5 1779.8,245.4 1780.2,243.0 1780.5,253.8 1780.8,256.3 1781.1,257.0 1781.4,249.1 1781.7,244.4 1782.0,246.1 1782.3,243.7 1782.7,247.8 1783.0,258.2 1783.3,236.8 1783.6,230.5 1783.9,240.6 1784.2,239.2 1784.5,253.9 1784.8,254.4 1785.2,252.5 1785.5,253.0 1785.8,243.1 1786.1,245.5 1786.4,244.0 1786.7,239.7 1787.0,261.4 1787.3,259.5 1787.7,250.8 1788.0,246.8 1788.3,250.8 1788.6,251.8 1788.9,255.7 1789.2,250.1 1789.5,238.7 1789.8,255.3 1790.2,270.9 1790.5,250.3 1790.8,238.6 1791.1,226.2 1791.4,236.6 1791.7,247.7 1792.0,242.4 1792.3,252.1 1792.7,255.7 1793.0,259.3 1793.3,258.6 1793.6,251.8 1793.9,244.2 1794.2,242.6 1794.5,230.7 1794.8,243.6 1795.2,259.9 1795.5,265.9 1795.8,258.0 1796.1,246.5 1796.4,248.3 1796.7,248.3 1797.0,251.0 1797.3,261.7 1797.7,265.9 1798.0,259.6 1798.3,256.3 1798.6,241.5 1798.9,258.9 1799.2,260.0 1799.5,251.0 1799.8,241.8 1800.2,257.8 1800.5,243.2 1800.8,238.0 1801.1,242.0 1801.4,236.3 1801.7,254.5 1802.0,251.0 1802.3,252.0 1802.6,251.3 1803.0,247.1 1803.3,254.2 1803.6,252.0 1803.9,254.3 1804.2,251.4 1804.5,250.9 1804.8,260.8 1805.1,246.4 1805.5,245.9 1805.8,248.9 1806.1,254.1 1806.4,249.1 1806.7,244.7 1807.0,264.3 1807.3,263.1 1807.6,265.0 1808.0,256.0 1808.3,251.4 1808.6,241.7 1808.9,243.6 1809.2,248.8 1809.5,248.5 1809.8,250.5 1810.1,251.6 1810.5,247.2 1810.8,253.1 1811.1,256.2 1811.4,253.0 1811.7,253.0 1812.0,248.6 1812.3,253.4 1812.6,257.8 1813.0,251.1 1813.3,255.0 1813.6,248.9 1813.9,248.6 1814.2,241.3 1814.5,242.1 1814.8,226.2 1815.1,239.8 1815.5,237.6 1815.8,244.5 1816.1,254.6 1816.4,266.4 1816.7,262.2 1817.0,247.0 1817.3,247.9 1817.6,248.2 1818.0,250.8 1818.3,246.1 1818.6,231.1 1818.9,240.1 1819.2,253.9 1819.5,250.7 1819.8,258.9 1820.1,265.9 1820.5,270.7 1820.8,256.8 1821.1,244.6 1821.4,249.0 1821.7,249.4 1822.0,240.4 1822.3,231.7 1822.6,246.3 1823.0,264.3 1823.3,287.4 1823.6,265.0 1823.9,257.3 1824.2,242.4 1824.5,238.6 1824.8,256.7 1825.1,251.1 1825.5,237.9 1825.8,252.6 1826.1,261.9 1826.4,259.5 1826.7,284.3 1827.0,287.4 1827.3,272.0 1827.6,236.5 1828.0,230.1 1828.3,234.1 1828.6,273.4 1828.9,302.0 1829.2,280.8 1829.5,251.0 1829.8,273.4 1830.1,173.3 1830.5,285.0 1830.8,240.7 1831.1,302.7 1831.4,239.9 1831.7,231.5 1832.0,234.9 1832.3,267.8 1832.6,243.5 1833.0,243.3 1833.3,240.7 1833.6,232.5 1833.9,251.5 1834.2,251.3 1834.5,265.8 1834.8,264.1 1835.1,271.8 1835.5,246.5 1835.8,247.7 1836.1,238.0 1836.4,250.6 1836.7,251.4 1837.0,253.5 1837.3,266.3 1837.6,258.8 1838.0,257.7 1838.3,251.0 1838.6,233.6 1838.9,273.1 1839.2,267.7 1839.5,262.8 1839.8,253.2 1840.1,241.3 1840.5,237.8 1840.8,236.9 1841.1,255.5 1841.4,262.4 1841.7,259.1 1842.0,252.2 1842.3,235.4 1842.6,260.4 1843.0,270.4 1843.3,270.9 1843.6,267.8 1843.9,247.6 1844.2,227.0 1844.5,239.5 1844.8,242.8 1845.1,252.3 1845.5,240.0 1845.8,256.4 1846.1,267.1 1846.4,248.3 1846.7,253.4 1847.0,246.6 1847.3,259.1 1847.6,256.5 1848.0,241.1 1848.3,219.1 1848.6,231.5 1848.9,243.6 1849.2,261.2 1849.5,239.4 1849.8,232.7 1850.1,225.6 1850.5,239.6 1850.8,252.3 1851.1,270.4 1851.4,243.9 1851.7,232.2 1852.0,222.0 1852.3,224.7 1852.6,240.0 1853.0,272.4 1853.3,258.8 1853.6,250.0 1853.9,239.4 1854.2,229.6 1854.5,242.0 1854.8,266.6 1855.1,272.1 1855.5,249.4 1855.8,241.3 1856.1,237.1 1856.4,257.1 1856.7,275.3 1857.0,264.8 1857.3,251.5 1857.6,254.2 1858.0,254.4 1858.3,253.4 1858.6,241.5 1858.9,232.1 1859.2,239.2 1859.5,258.2 1859.8,242.7 1860.1,245.9 1860.4,256.6 1860.8,265.9 1861.1,243.3 1861.4,223.3 1861.7,225.5 1862.0,313.8 1862.3,239.2 1862.6,226.5 1862.9,241.6 1863.3,273.5 1863.6,302.0 1863.9,264.1 1864.2,247.5 1864.5,250.0 1864.8,236.1 1865.1,244.8 1865.4,256.4 1865.8,262.1 1866.1,255.1 1866.4,257.1 1866.7,253.5 1867.0,249.9 1867.3,246.3 1867.6,310.7 1867.9,237.5 1868.3,256.4 1868.6,249.8 1868.9,246.8 1869.2,254.0 1869.5,248.3 1869.8,244.2 1870.1,243.4 1870.4,253.5 1870.8,270.4 1871.1,268.6 1871.4,243.1 1871.7,246.8 1872.0,238.1 1872.3,245.3 1872.6,264.1 1872.9,263.4 1873.3,252.7 1873.6,257.9 1873.9,259.9 1874.2,257.8 1874.5,265.7 1874.8,260.7 1875.1,250.1 1875.4,268.9 1875.8,288.6 1876.1,245.2 1876.4,232.8 1876.7,239.2 1877.0,255.8 1877.3,268.1 1877.6,250.5 1877.9,260.5 1878.3,263.5 1878.6,271.8 1878.9,269.5 1879.2,265.3 1879.5,264.2 1879.8,257.8 1880.1,285.6 1880.4,256.5 1880.8,238.8 1881.1,227.8 1881.4,234.8 1881.7,253.8 1882.0,246.2 1882.3,273.0 1882.6,129.3 1882.9,292.5 1883.3,245.9 1883.6,323.0 1883.9,222.9 1884.2,236.5 1884.5,271.8 1884.8,247.6 1885.1,247.4 1885.4,250.7 1885.8,249.0 1886.1,237.4 1886.4,232.5 1886.7,253.0 1887.0,279.2 1887.3,239.1 1887.6,228.0 1887.9,238.1 1888.3,258.7 1888.6,269.0 1888.9,246.9 1889.2,244.4 1889.5,258.2 1889.8,257.7 1890.1,281.5 1890.4,274.4 1890.8,254.9 1891.1,229.2 1891.4,230.8 1891.7,233.1 1892.0,243.5 1892.3,262.8" fill="none" stroke="#000" stroke-width="0.6" stroke-opacity="0.34" clip-path="url(#cp2)"/>
<line x1="1464.60" y1="252.30" x2="1914.50" y2="252.30" stroke="#000" stroke-width="1" stroke-dasharray="21 12.3"/>
<path d="M1464.7,284.4 1465.0,285.4 1465.3,285.8 1465.6,286.8 1465.9,285.7 1466.2,285.7 1466.6,285.8 1466.9,286.3 1467.2,288.5 1467.5,288.8 1467.8,288.1 1468.1,288.1 1468.4,290.1 1468.7,289.0 1469.1,289.4 1469.4,290.7 1469.7,292.0 1470.0,292.7 1470.3,291.8 1470.6,291.8 1470.9,292.6 1471.2,294.9 1471.6,296.3 1471.9,298.7 1472.2,301.6 1472.5,304.7 1472.8,305.8 1473.1,308.0 1473.4,311.8 1473.7,315.5 1474.1,317.9 1474.4,322.5 1474.7,323.6 1475.0,326.0 1475.3,327.2 1475.6,329.9 1475.9,332.0 1476.2,333.1 1476.6,333.9 1476.9,335.1 1477.2,334.0 1477.5,333.7 1477.8,333.6 1478.1,334.1 1478.4,333.2 1478.7,331.9 1479.1,333.3 1479.4,331.8 1479.7,330.0 1480.0,331.5 1480.3,330.1 1480.6,329.8 1480.9,329.1 1481.2,326.1 1481.6,323.8 1481.9,324.0 1482.2,321.1 1482.5,320.4 1482.8,320.2 1483.1,319.9 1483.4,321.2 1483.7,320.2 1484.1,318.1 1484.4,320.1 1484.7,320.8 1485.0,320.8 1485.3,322.9 1485.6,323.3 1485.9,323.7 1486.2,323.1 1486.6,323.5 1486.9,324.0 1487.2,322.7 1487.5,321.0 1487.8,318.7 1488.1,319.0 1488.4,318.2 1488.7,318.0 1489.0,317.4 1489.4,316.9 1489.7,315.6 1490.0,315.0 1490.3,313.6 1490.6,313.4 1490.9,313.0 1491.2,312.4 1491.5,311.4 1491.9,312.7 1492.2,313.0 1492.5,312.8 1492.8,314.0 1493.1,315.4 1493.4,315.3 1493.7,317.0 1494.0,315.7 1494.4,315.3 1494.7,314.3 1495.0,311.4 1495.3,309.8 1495.6,310.7 1495.9,309.9 1496.2,309.5 1496.5,310.2 1496.9,310.1 1497.2,309.9 1497.5,308.7 1497.8,310.8 1498.1,309.4 1498.4,312.4 1498.7,312.9 1499.0,314.9 1499.4,313.8 1499.7,311.4 1500.0,310.0 1500.3,306.1 1500.6,301.9 1500.9,301.1 1501.2,299.2 1501.5,299.6 1501.9,299.3 1502.2,299.9 1502.5,298.8 1502.8,297.2 1503.1,293.3 1503.4,291.9 1503.7,290.0 1504.0,290.8 1504.4,292.0 1504.7,291.0 1505.0,290.6 1505.3,288.9 1505.6,288.3 1505.9,290.1 1506.2,287.7 1506.5,288.0 1506.9,288.7 1507.2,289.3 1507.5,288.2 1507.8,288.2 1508.1,288.6 1508.4,291.0 1508.7,291.8 1509.0,292.8 1509.4,295.5 1509.7,297.3 1510.0,297.8 1510.3,300.0 1510.6,301.5 1510.9,303.4 1511.2,302.3 1511.5,303.3 1511.9,303.3 1512.2,302.3 1512.5,302.9 1512.8,302.3 1513.1,302.2 1513.4,301.6 1513.7,302.4 1514.0,300.8 1514.4,297.5 1514.7,297.4 1515.0,294.6 1515.3,293.4 1515.6,291.1 1515.9,289.3 1516.2,287.0 1516.5,283.8 1516.9,281.5 1517.2,280.2 1517.5,278.7 1517.8,277.8 1518.1,277.4 1518.4,278.3 1518.7,281.9 1519.0,283.6 1519.4,285.8 1519.7,286.9 1520.0,288.9 1520.3,287.9 1520.6,285.8 1520.9,283.6 1521.2,282.5 1521.5,282.8 1521.9,284.6 1522.2,284.9 1522.5,287.4 1522.8,288.3 1523.1,289.3 1523.4,292.0 1523.7,292.9 1524.0,293.8 1524.4,294.8 1524.7,293.3 1525.0,297.0 1525.3,299.1 1525.6,294.1 1525.9,291.1 1526.2,290.6 1526.5,290.5 1526.9,288.6 1527.2,286.5 1527.5,282.6 1527.8,279.3 1528.1,277.6 1528.4,273.7 1528.7,272.8 1529.0,270.0 1529.4,266.2 1529.7,262.3 1530.0,260.9 1530.3,257.0 1530.6,253.8 1530.9,253.0 1531.2,251.2 1531.5,252.4 1531.9,250.6 1532.2,250.2 1532.5,249.8 1532.8,249.7 1533.1,246.6 1533.4,248.0 1533.7,249.3 1534.0,251.1 1534.4,251.1 1534.7,254.3 1535.0,256.7 1535.3,258.8 1535.6,261.0 1535.9,261.7 1536.2,262.3 1536.5,265.5 1536.9,265.7 1537.2,270.0 1537.5,269.9 1537.8,269.3 1538.1,272.4 1538.4,270.7 1538.7,268.0 1539.0,265.9 1539.4,263.9 1539.7,260.8 1540.0,260.6 1540.3,260.0 1540.6,258.0 1540.9,255.7 1541.2,254.9 1541.5,254.6 1541.9,254.0 1542.2,253.0 1542.5,253.0 1542.8,251.4 1543.1,252.5 1543.4,253.2 1543.7,252.6 1544.0,249.1 1544.3,245.2 1544.7,239.9 1545.0,238.1 1545.3,235.0 1545.6,230.4 1545.9,227.5 1546.2,225.6 1546.5,222.8 1546.8,220.5 1547.2,219.8 1547.5,219.3 1547.8,220.3 1548.1,221.0 1548.4,223.2 1548.7,225.0 1549.0,227.9 1549.3,230.0 1549.7,233.8 1550.0,237.9 1550.3,242.6 1550.6,249.0 1550.9,253.5 1551.2,258.2 1551.5,262.7 1551.8,268.5 1552.2,275.2 1552.5,278.1 1552.8,281.8 1553.1,282.7 1553.4,284.7 1553.7,288.6 1554.0,285.3 1554.3,282.9 1554.7,280.3 1555.0,279.2 1555.3,276.5 1555.6,274.1 1555.9,276.1 1556.2,278.9 1556.5,280.4 1556.8,283.6 1557.2,285.6 1557.5,283.6 1557.8,280.2 1558.1,279.9 1558.4,277.3 1558.7,276.5 1559.0,274.2 1559.3,271.8 1559.7,270.7 1560.0,274.0 1560.3,273.3 1560.6,274.6 1560.9,275.6 1561.2,274.5 1561.5,270.9 1561.8,270.8 1562.2,267.6 1562.5,265.6 1562.8,265.0 1563.1,260.2 1563.4,256.2 1563.7,251.2 1564.0,248.5 1564.3,244.3 1564.7,243.6 1565.0,242.2 1565.3,239.7 1565.6,238.4 1565.9,240.5 1566.2,239.5 1566.5,238.8 1566.8,239.0 1567.2,238.8 1567.5,242.6 1567.8,245.9 1568.1,250.2 1568.4,253.2 1568.7,258.1 1569.0,261.2 1569.3,264.4 1569.7,268.1 1570.0,270.2 1570.3,274.5 1570.6,274.8 1570.9,277.7 1571.2,279.6 1571.5,278.4 1571.8,277.0 1572.2,276.0 1572.5,277.2 1572.8,276.1 1573.1,274.5 1573.4,269.7 1573.7,267.3 1574.0,265.5 1574.3,264.0 1574.7,265.5 1575.0,266.1 1575.3,268.8 1575.6,269.7 1575.9,271.6 1576.2,273.4 1576.5,274.4 1576.8,276.5 1577.2,278.6 1577.5,279.8 1577.8,282.2 1578.1,282.2 1578.4,281.7 1578.7,283.1 1579.0,283.9 1579.3,284.8 1579.7,285.1 1580.0,284.3 1580.3,283.4 1580.6,284.3 1580.9,282.7 1581.2,280.7 1581.5,279.7 1581.8,279.8 1582.2,281.6 1582.5,276.7 1582.8,274.4 1583.1,269.2 1583.4,265.1 1583.7,260.6 1584.0,259.8 1584.3,257.7 1584.7,253.6 1585.0,251.6 1585.3,247.5 1585.6,250.8 1585.9,256.5 1586.2,261.1 1586.5,266.8 1586.8,269.1 1587.2,276.2 1587.5,279.0 1587.8,277.9 1588.1,276.6 1588.4,274.5 1588.7,273.2 1589.0,273.5 1589.3,271.7 1589.7,276.2 1590.0,280.7 1590.3,285.7 1590.6,287.7 1590.9,290.9 1591.2,295.9 1591.5,301.3 1591.8,305.9 1592.2,308.2 1592.5,310.1 1592.8,313.1 1593.1,315.0 1593.4,314.2 1593.7,314.6 1594.0,314.3 1594.3,313.3 1594.7,311.9 1595.0,309.5 1595.3,310.0 1595.6,310.2 1595.9,308.2 1596.2,303.6 1596.5,303.2 1596.8,301.3 1597.2,299.5 1597.5,295.7 1597.8,293.9 1598.1,290.9 1598.4,289.0 1598.7,287.0 1599.0,285.5 1599.3,282.3 1599.7,281.8 1600.0,281.3 1600.3,278.1 1600.6,275.8 1600.9,273.1 1601.2,270.3 1601.5,267.9 1601.8,265.4 1602.1,264.8 1602.5,260.6 1602.8,254.5 1603.1,249.5 1603.4,245.2 1603.7,239.5 1604.0,235.6 1604.3,231.2 1604.6,223.9 1605.0,226.5 1605.3,232.7 1605.6,238.5 1605.9,246.2 1606.2,252.3 1606.5,261.1 1606.8,269.7 1607.1,279.0 1607.5,283.1 1607.8,287.8 1608.1,293.4 1608.4,296.3 1608.7,301.5 1609.0,306.5 1609.3,303.1 1609.6,301.3 1610.0,299.5 1610.3,296.8 1610.6,288.5 1610.9,278.4 1611.2,267.7 1611.5,257.8 1611.8,248.3 1612.1,240.7 1612.5,231.3 1612.8,221.6 1613.1,213.3 1613.4,213.4 1613.7,209.1 1614.0,204.0 1614.3,201.8 1614.6,200.1 1615.0,202.8 1615.3,205.8 1615.6,208.0 1615.9,208.9 1616.2,209.1 1616.5,207.3 1616.8,204.9 1617.1,203.4 1617.5,205.2 1617.8,206.9 1618.1,208.7 1618.4,211.6 1618.7,213.1 1619.0,217.2 1619.3,218.7 1619.6,221.1 1620.0,222.6 1620.3,222.9 1620.6,227.7 1620.9,225.2 1621.2,222.4 1621.5,220.3 1621.8,219.0 1622.1,217.4 1622.5,218.8 1622.8,226.1 1623.1,234.6 1623.4,240.9 1623.7,242.2 1624.0,245.9 1624.3,250.0 1624.6,253.7 1625.0,255.1 1625.3,257.5 1625.6,260.6 1625.9,264.8 1626.2,269.0 1626.5,271.4 1626.8,273.3 1627.1,275.7 1627.5,279.6 1627.8,281.7 1628.1,284.3 1628.4,287.4 1628.7,289.4 1629.0,291.9 1629.3,293.1 1629.6,296.0 1630.0,298.7 1630.3,298.5 1630.6,299.1 1630.9,299.7 1631.2,299.3 1631.5,300.4 1631.8,300.2 1632.1,299.9 1632.5,298.8 1632.8,298.4 1633.1,299.1 1633.4,297.6 1633.7,298.1 1634.0,294.2 1634.3,293.0 1634.6,292.5 1635.0,292.6 1635.3,290.9 1635.6,288.6 1635.9,288.5 1636.2,286.1 1636.5,284.3 1636.8,282.5 1637.1,280.8 1637.5,279.4 1637.8,278.8 1638.1,278.1 1638.4,274.5 1638.7,277.7 1639.0,275.3 1639.3,275.0 1639.6,273.2 1640.0,274.0 1640.3,273.1 1640.6,273.9 1640.9,272.9 1641.2,274.0 1641.5,272.1 1641.8,272.7 1642.1,273.3 1642.5,272.7 1642.8,271.5 1643.1,271.5 1643.4,273.7 1643.7,273.4 1644.0,275.5 1644.3,276.0 1644.6,276.5 1645.0,277.1 1645.3,277.5 1645.6,278.1 1645.9,278.2 1646.2,275.9 1646.5,277.5 1646.8,276.7 1647.1,278.4 1647.5,276.8 1647.8,275.6 1648.1,274.3 1648.4,274.2 1648.7,273.3 1649.0,271.5 1649.3,270.2 1649.6,268.9 1650.0,269.9 1650.3,267.8 1650.6,265.7 1650.9,264.3 1651.2,262.9 1651.5,261.1 1651.8,260.3 1652.1,260.3 1652.5,259.1 1652.8,258.2 1653.1,257.1 1653.4,257.3 1653.7,256.4 1654.0,256.4 1654.3,256.7 1654.6,258.8 1655.0,258.9 1655.3,260.8 1655.6,260.9 1655.9,262.1 1656.2,265.2 1656.5,264.0 1656.8,262.9 1657.1,262.7 1657.4,262.5 1657.8,261.2 1658.1,259.5 1658.4,257.2 1658.7,256.1 1659.0,257.2 1659.3,255.4 1659.6,254.0 1659.9,252.8 1660.3,250.5 1660.6,249.8 1660.9,247.7 1661.2,247.9 1661.5,247.6 1661.8,245.6 1662.1,245.2 1662.4,244.6 1662.8,243.4 1663.1,244.2 1663.4,244.0 1663.7,245.2 1664.0,247.6 1664.3,247.2 1664.6,242.4 1664.9,241.1 1665.3,238.4 1665.6,234.0 1665.9,232.7 1666.2,228.8 1666.5,224.3 1666.8,221.0 1667.1,216.9 1667.4,213.4 1667.8,211.3 1668.1,207.2 1668.4,204.1 1668.7,201.2 1669.0,199.3 1669.3,198.0 1669.6,197.7 1669.9,197.1 1670.3,195.1 1670.6,195.0 1670.9,196.4 1671.2,200.8 1671.5,203.3 1671.8,205.9 1672.1,206.2 1672.4,208.4 1672.8,210.1 1673.1,214.4 1673.4,214.2 1673.7,215.5 1674.0,216.6 1674.3,217.3 1674.6,217.1 1674.9,218.2 1675.3,218.4 1675.6,216.9 1675.9,217.5 1676.2,216.4 1676.5,214.5 1676.8,214.7 1677.1,211.3 1677.4,210.8 1677.8,211.9 1678.1,211.2 1678.4,210.2 1678.7,209.1 1679.0,210.1 1679.3,211.1 1679.6,211.9 1679.9,213.2 1680.3,215.0 1680.6,214.4 1680.9,214.9 1681.2,214.5 1681.5,216.0 1681.8,215.9 1682.1,217.3 1682.4,215.8 1682.8,219.2 1683.1,218.7 1683.4,220.8 1683.7,219.6 1684.0,223.3 1684.3,223.9 1684.6,224.2 1684.9,225.6 1685.3,225.2 1685.6,224.2 1685.9,223.1 1686.2,222.9 1686.5,223.1 1686.8,222.6 1687.1,221.9 1687.4,222.1 1687.8,221.0 1688.1,221.1 1688.4,221.6 1688.7,222.1 1689.0,223.0 1689.3,223.6 1689.6,223.4 1689.9,223.3 1690.3,222.0 1690.6,224.5 1690.9,224.0 1691.2,221.9 1691.5,222.9 1691.8,222.0 1692.1,221.3 1692.4,219.6 1692.8,220.0 1693.1,219.2 1693.4,218.8 1693.7,218.4 1694.0,217.0 1694.3,217.3 1694.6,216.6 1694.9,217.8 1695.3,218.3 1695.6,216.6 1695.9,218.6 1696.2,220.1 1696.5,220.0 1696.8,222.9 1697.1,222.1 1697.4,217.3 1697.8,215.9 1698.1,213.4 1698.4,211.0 1698.7,209.8 1699.0,211.1 1699.3,211.5 1699.6,213.1 1699.9,215.2 1700.3,217.2 1700.6,216.2 1700.9,215.9 1701.2,216.5 1701.5,217.1 1701.8,217.7 1702.1,216.8 1702.4,216.5 1702.8,217.0 1703.1,219.4 1703.4,220.8 1703.7,221.9 1704.0,223.5 1704.3,226.0 1704.6,224.2 1704.9,224.5 1705.3,224.0 1705.6,223.2 1705.9,223.3 1706.2,220.8 1706.5,217.7 1706.8,215.9 1707.1,215.7 1707.4,215.0 1707.8,213.3 1708.1,210.5 1708.4,209.7 1708.7,207.2 1709.0,205.3 1709.3,203.6 1709.6,203.8 1709.9,205.7 1710.3,202.7 1710.6,204.0 1710.9,204.4 1711.2,206.3 1711.5,208.2 1711.8,211.5 1712.1,213.5 1712.4,213.8 1712.7,215.8 1713.1,218.9 1713.4,220.6 1713.7,222.6 1714.0,224.1 1714.3,225.9 1714.6,227.9 1714.9,227.9 1715.2,228.7 1715.6,229.2 1715.9,228.0 1716.2,228.2 1716.5,228.2 1716.8,228.2 1717.1,231.7 1717.4,231.9 1717.7,232.0 1718.1,231.1 1718.4,232.8 1718.7,233.4 1719.0,235.9 1719.3,236.4 1719.6,236.2 1719.9,235.8 1720.2,233.7 1720.6,234.8 1720.9,234.4 1721.2,234.0 1721.5,234.1 1721.8,235.9 1722.1,236.8 1722.4,238.3 1722.7,239.5 1723.1,240.2 1723.4,241.5 1723.7,242.9 1724.0,244.9 1724.3,246.7 1724.6,247.4 1724.9,247.4 1725.2,249.0 1725.6,251.8 1725.9,252.3 1726.2,253.3 1726.5,254.2 1726.8,254.9 1727.1,258.0 1727.4,258.4 1727.7,258.9 1728.1,259.8 1728.4,260.6 1728.7,261.9 1729.0,263.3 1729.3,264.6 1729.6,264.7 1729.9,261.1 1730.2,261.8 1730.6,260.2 1730.9,258.9 1731.2,259.7 1731.5,258.9 1731.8,257.0 1732.1,254.8 1732.4,250.6 1732.7,250.7 1733.1,247.6 1733.4,246.4 1733.7,244.6 1734.0,243.8 1734.3,244.2 1734.6,241.1 1734.9,240.1 1735.2,239.0 1735.6,238.2 1735.9,239.1 1736.2,238.6 1736.5,238.2 1736.8,239.1 1737.1,239.8 1737.4,237.3 1737.7,239.5 1738.1,240.6 1738.4,239.2 1738.7,241.8 1739.0,241.7 1739.3,241.9 1739.6,243.0 1739.9,244.3 1740.2,246.4 1740.6,246.5 1740.9,246.2 1741.2,244.3 1741.5,242.4 1741.8,240.5 1742.1,238.3 1742.4,235.8 1742.7,230.9 1743.1,230.7 1743.4,228.1 1743.7,222.9 1744.0,224.1 1744.3,224.5 1744.6,223.3 1744.9,221.4 1745.2,221.4 1745.6,222.1 1745.9,225.5 1746.2,224.6 1746.5,226.5 1746.8,228.3 1747.1,230.4 1747.4,231.8 1747.7,235.9 1748.1,238.0 1748.4,240.7 1748.7,244.0 1749.0,246.0 1749.3,248.6 1749.6,253.6 1749.9,255.8 1750.2,257.2 1750.6,260.3 1750.9,264.1 1751.2,266.1 1751.5,268.6 1751.8,271.4 1752.1,274.4 1752.4,275.7 1752.7,276.8 1753.1,278.2 1753.4,280.0 1753.7,280.1 1754.0,280.5 1754.3,280.9 1754.6,280.2 1754.9,279.4 1755.2,280.7 1755.6,279.3 1755.9,281.5 1756.2,280.8 1756.5,278.7 1756.8,275.9 1757.1,274.8 1757.4,272.0 1757.7,271.7 1758.1,268.9 1758.4,265.0 1758.7,263.1 1759.0,258.3 1759.3,255.7 1759.6,254.0 1759.9,251.0 1760.2,248.6 1760.6,246.1 1760.9,243.3 1761.2,241.4 1761.5,240.8 1761.8,238.8 1762.1,237.0 1762.4,235.9 1762.7,235.6 1763.1,233.1 1763.4,233.6 1763.7,231.7 1764.0,230.6 1764.3,230.8 1764.6,230.7 1764.9,230.4 1765.2,232.4 1765.6,231.1 1765.9,231.1 1766.2,232.5 1766.5,233.4 1766.8,233.8 1767.1,235.0 1767.4,232.6 1767.7,235.5 1768.1,236.3 1768.4,236.8 1768.7,237.1 1769.0,237.3 1769.3,237.1 1769.6,236.6 1769.9,237.4 1770.2,239.6 1770.5,239.1 1770.9,240.5 1771.2,241.2 1771.5,241.6 1771.8,243.4 1772.1,244.9 1772.4,244.8 1772.7,247.1 1773.0,247.6 1773.4,248.4 1773.7,250.5 1774.0,250.9 1774.3,252.9 1774.6,254.9 1774.9,254.2 1775.2,255.0 1775.5,256.1 1775.9,255.9 1776.2,255.5 1776.5,258.7 1776.8,258.1 1777.1,258.5 1777.4,257.5 1777.7,258.0 1778.0,259.3 1778.4,258.5 1778.7,258.0 1779.0,257.0 1779.3,256.7 1779.6,257.5 1779.9,258.2 1780.2,257.1 1780.5,257.6 1780.9,256.7 1781.2,257.2 1781.5,256.5 1781.8,258.7 1782.1,257.6 1782.4,257.0 1782.7,258.2 1783.0,258.8 1783.4,258.3 1783.7,257.5 1784.0,258.1 1784.3,256.7 1784.6,256.0 1784.9,256.9 1785.2,256.2 1785.5,256.6 1785.9,257.9 1786.2,256.7 1786.5,256.1 1786.8,255.9 1787.1,255.1 1787.4,255.7 1787.7,257.2 1788.0,254.6 1788.4,255.2 1788.7,255.2 1789.0,255.1 1789.3,254.8 1789.6,253.6 1789.9,253.9 1790.2,256.5 1790.5,256.1 1790.9,255.4 1791.2,253.8 1791.5,253.1 1791.8,253.3 1792.1,254.6 1792.4,252.0 1792.7,251.5 1793.0,253.1 1793.4,253.7 1793.7,253.8 1794.0,253.9 1794.3,253.3 1794.6,253.1 1794.9,251.8 1795.2,253.5 1795.5,252.8 1795.9,250.5 1796.2,249.8 1796.5,249.3 1796.8,247.9 1797.1,248.6 1797.4,246.8 1797.7,246.6 1798.0,245.0 1798.4,244.1 1798.7,244.4 1799.0,244.2 1799.3,244.6 1799.6,241.4 1799.9,240.9 1800.2,240.7 1800.5,240.3 1800.9,240.3 1801.2,240.7 1801.5,241.4 1801.8,240.4 1802.1,239.4 1802.4,238.4 1802.7,239.0 1803.0,238.6 1803.4,238.1 1803.7,236.6 1804.0,237.1 1804.3,235.8 1804.6,235.8 1804.9,235.1 1805.2,234.6 1805.5,233.3 1805.9,233.3 1806.2,233.3 1806.5,234.4 1806.8,233.7 1807.1,233.2 1807.4,233.2 1807.7,232.6 1808.0,232.5 1808.4,233.4 1808.7,232.3 1809.0,230.7 1809.3,229.7 1809.6,230.2 1809.9,229.6 1810.2,228.3 1810.5,228.9 1810.9,229.9 1811.2,230.5 1811.5,229.5 1811.8,230.9 1812.1,231.8 1812.4,229.9 1812.7,230.3 1813.0,230.4 1813.4,229.7 1813.7,229.3 1814.0,230.9 1814.3,230.1 1814.6,229.5 1814.9,229.0 1815.2,229.2 1815.5,227.8 1815.9,228.7 1816.2,230.2 1816.5,229.8 1816.8,229.3 1817.1,228.7 1817.4,226.3 1817.7,229.9 1818.0,227.9 1818.4,227.8 1818.7,224.9 1819.0,224.8 1819.3,225.4 1819.6,224.9 1819.9,223.6 1820.2,223.3 1820.5,224.1 1820.9,221.4 1821.2,222.9 1821.5,222.5 1821.8,222.2 1822.1,221.7 1822.4,220.3 1822.7,219.8 1823.0,218.5 1823.4,219.2 1823.7,218.6 1824.0,217.5 1824.3,217.4 1824.6,216.7 1824.9,214.6 1825.2,214.6 1825.5,213.1 1825.8,214.9 1826.2,213.8 1826.5,213.9 1826.8,213.9 1827.1,212.8 1827.4,213.1 1827.7,209.1 1828.0,207.0 1828.3,205.8 1828.7,204.7 1829.0,203.6 1829.3,200.9 1829.6,199.0 1829.9,197.3 1830.2,196.8 1830.5,195.8 1830.8,198.4 1831.2,200.4 1831.5,200.3 1831.8,202.9 1832.1,205.4 1832.4,206.2 1832.7,206.8 1833.0,209.9 1833.3,211.4 1833.7,213.4 1834.0,215.3 1834.3,216.5 1834.6,216.3 1834.9,217.1 1835.2,215.7 1835.5,217.1 1835.8,217.2 1836.2,217.4 1836.5,217.0 1836.8,215.5 1837.1,214.1 1837.4,211.6 1837.7,210.5 1838.0,208.6 1838.3,206.5 1838.7,203.5 1839.0,202.9 1839.3,200.1 1839.6,197.1 1839.9,196.2 1840.2,196.1 1840.5,194.1 1840.8,196.1 1841.2,193.9 1841.5,194.5 1841.8,195.6 1842.1,194.7 1842.4,193.0 1842.7,192.1 1843.0,191.9 1843.3,192.2 1843.7,193.7 1844.0,194.5 1844.3,194.0 1844.6,195.6 1844.9,195.2 1845.2,194.8 1845.5,194.9 1845.8,194.4 1846.2,194.3 1846.5,193.1 1846.8,192.5 1847.1,193.2 1847.4,191.3 1847.7,193.0 1848.0,191.0 1848.3,191.9 1848.7,189.1 1849.0,188.4 1849.3,190.2 1849.6,187.4 1849.9,188.9 1850.2,189.2 1850.5,188.1 1850.8,185.5 1851.2,186.1 1851.5,186.2 1851.8,187.0 1852.1,185.1 1852.4,188.1 1852.7,186.4 1853.0,186.7 1853.3,187.9 1853.7,186.8 1854.0,186.9 1854.3,186.8 1854.6,186.8 1854.9,188.5 1855.2,190.4 1855.5,190.5 1855.8,193.9 1856.2,194.8 1856.5,196.9 1856.8,197.3 1857.1,198.3 1857.4,199.9 1857.7,200.8 1858.0,203.1 1858.3,205.4 1858.7,207.5 1859.0,208.6 1859.3,210.2 1859.6,210.1 1859.9,212.8 1860.2,213.1 1860.5,215.3 1860.8,221.3 1861.2,224.2 1861.5,228.3 1861.8,232.3 1862.1,235.0 1862.4,238.1 1862.7,240.6 1863.0,242.9 1863.3,245.1 1863.7,246.0 1864.0,246.3 1864.3,247.9 1864.6,245.3 1864.9,245.2 1865.2,243.9 1865.5,244.2 1865.8,244.0 1866.2,245.6 1866.5,246.1 1866.8,246.5 1867.1,245.9 1867.4,250.2 1867.7,252.1 1868.0,255.6 1868.3,258.6 1868.7,261.9 1869.0,264.0 1869.3,265.6 1869.6,269.3 1869.9,270.9 1870.2,271.7 1870.5,272.6 1870.8,271.6 1871.2,271.7 1871.5,272.9 1871.8,272.3 1872.1,269.7 1872.4,270.1 1872.7,270.3 1873.0,269.4 1873.3,270.2 1873.7,270.6 1874.0,268.8 1874.3,269.4 1874.6,269.2 1874.9,270.0 1875.2,269.5 1875.5,270.0 1875.8,269.0 1876.2,270.0 1876.5,271.1 1876.8,270.5 1877.1,270.1 1877.4,268.7 1877.7,269.5 1878.0,268.6 1878.3,267.4 1878.7,268.2 1879.0,269.8 1879.3,267.5 1879.6,267.8 1879.9,266.6 1880.2,265.0 1880.5,267.7 1880.8,268.3 1881.1,270.8 1881.5,270.9 1881.8,274.2 1882.1,275.5 1882.4,277.1 1882.7,279.4 1883.0,279.7 1883.3,282.0 1883.6,280.7 1884.0,277.6 1884.3,274.0 1884.6,269.8 1884.9,266.9 1885.2,264.4 1885.5,261.6 1885.8,257.1 1886.1,252.4 1886.5,252.1 1886.8,250.8 1887.1,252.7 1887.4,254.2 1887.7,256.7 1888.0,258.2 1888.3,261.4 1888.6,262.6 1889.0,262.9 1889.3,263.9 1889.6,267.1 1889.9,267.9 1890.2,270.0 1890.5,272.1 1890.8,272.5" fill="none" stroke="#00f" stroke-width="4.3" stroke-linejoin="round" stroke-linecap="round" clip-path="url(#cp2)"/>
<line x1="1892.90" y1="252.30" x2="1914.50" y2="252.30" stroke="#00f" stroke-width="4"/>
<line x1="1894.40" y1="252.30" x2="1914.50" y2="252.30" stroke="#000" stroke-width="1" stroke-opacity="0.7"/>
<line x1="1464.60" y1="144.68" x2="1914.50" y2="144.68" stroke="#0f0" stroke-width="3"/>
<line x1="1464.60" y1="359.93" x2="1914.50" y2="359.93" stroke="#0f0" stroke-width="3"/>
<line x1="1464.60" y1="406.05" x2="1914.50" y2="406.05" stroke="#ff0" stroke-width="3"/>
<line x1="1464.60" y1="108.00" x2="1464.60" y2="418.50" stroke="#00f" stroke-width="1" shape-rendering="crispEdges"/>
<line x1="1914.50" y1="108.00" x2="1914.50" y2="418.50" stroke="#262626" stroke-width="1" shape-rendering="crispEdges"/>
<line x1="1464.10" y1="418.00" x2="1915.00" y2="418.00" stroke="#262626" stroke-width="1" shape-rendering="crispEdges"/>
<line x1="1464.60" y1="418.00" x2="1464.60" y2="413.40" stroke="#262626" stroke-width="1" shape-rendering="crispEdges"/>
<text transform="translate(1464.20,447.80)" x="-6.46" y="0" font-size="20.91" fill="#262626" textLength="12.92" lengthAdjust="spacingAndGlyphs">0</text>
<line x1="1520.84" y1="418.00" x2="1520.84" y2="413.40" stroke="#262626" stroke-width="1" shape-rendering="crispEdges"/>
<text transform="translate(1520.44,447.80)" x="-6.46" y="0" font-size="20.91" fill="#262626" textLength="12.92" lengthAdjust="spacingAndGlyphs">3</text>
<line x1="1577.07" y1="418.00" x2="1577.07" y2="413.40" stroke="#262626" stroke-width="1" shape-rendering="crispEdges"/>
<text transform="translate(1576.67,447.80)" x="-6.46" y="0" font-size="20.91" fill="#262626" textLength="12.92" lengthAdjust="spacingAndGlyphs">6</text>
<line x1="1633.31" y1="418.00" x2="1633.31" y2="413.40" stroke="#262626" stroke-width="1" shape-rendering="crispEdges"/>
<text transform="translate(1632.91,447.80)" x="-6.46" y="0" font-size="20.91" fill="#262626" textLength="12.92" lengthAdjust="spacingAndGlyphs">9</text>
<line x1="1689.55" y1="418.00" x2="1689.55" y2="413.40" stroke="#262626" stroke-width="1" shape-rendering="crispEdges"/>
<text transform="translate(1689.15,447.80)" x="-12.92" y="0" font-size="20.91" fill="#262626" textLength="25.83" lengthAdjust="spacingAndGlyphs">12</text>
<line x1="1745.79" y1="418.00" x2="1745.79" y2="413.40" stroke="#262626" stroke-width="1" shape-rendering="crispEdges"/>
<text transform="translate(1745.39,447.80)" x="-12.92" y="0" font-size="20.91" fill="#262626" textLength="25.83" lengthAdjust="spacingAndGlyphs">15</text>
<line x1="1802.03" y1="418.00" x2="1802.03" y2="413.40" stroke="#262626" stroke-width="1" shape-rendering="crispEdges"/>
<text transform="translate(1801.62,447.80)" x="-12.92" y="0" font-size="20.91" fill="#262626" textLength="25.83" lengthAdjust="spacingAndGlyphs">18</text>
<line x1="1858.26" y1="418.00" x2="1858.26" y2="413.40" stroke="#262626" stroke-width="1" shape-rendering="crispEdges"/>
<text transform="translate(1857.86,447.80)" x="-12.92" y="0" font-size="20.91" fill="#262626" textLength="25.83" lengthAdjust="spacingAndGlyphs">21</text>
<line x1="1914.50" y1="418.00" x2="1914.50" y2="413.40" stroke="#262626" stroke-width="1" shape-rendering="crispEdges"/>
<text transform="translate(1914.10,447.80)" x="-12.92" y="0" font-size="20.91" fill="#262626" textLength="25.83" lengthAdjust="spacingAndGlyphs">24</text>
<line x1="1464.60" y1="129.30" x2="1469.20" y2="129.30" stroke="#00f" stroke-width="1" shape-rendering="crispEdges"/>
<text transform="translate(1453.60,137.10)" x="-25.83" y="0" font-size="20.91" fill="#00f" textLength="25.83" lengthAdjust="spacingAndGlyphs">40</text>
<line x1="1464.60" y1="190.80" x2="1469.20" y2="190.80" stroke="#00f" stroke-width="1" shape-rendering="crispEdges"/>
<text transform="translate(1453.60,198.60)" x="-25.83" y="0" font-size="20.91" fill="#00f" textLength="25.83" lengthAdjust="spacingAndGlyphs">20</text>
<line x1="1464.60" y1="252.30" x2="1469.20" y2="252.30" stroke="#00f" stroke-width="1" shape-rendering="crispEdges"/>
<text transform="translate(1453.60,260.10)" x="-12.92" y="0" font-size="20.91" fill="#00f" textLength="12.92" lengthAdjust="spacingAndGlyphs">0</text>
<line x1="1464.60" y1="313.80" x2="1469.20" y2="313.80" stroke="#00f" stroke-width="1" shape-rendering="crispEdges"/>
<text transform="translate(1453.60,321.60)" x="-33.16" y="0" font-size="20.91" fill="#00f" textLength="33.16" lengthAdjust="spacingAndGlyphs">-20</text>
<line x1="1464.60" y1="375.30" x2="1469.20" y2="375.30" stroke="#00f" stroke-width="1" shape-rendering="crispEdges"/>
<text transform="translate(1453.60,383.10)" x="-33.16" y="0" font-size="20.91" fill="#00f" textLength="33.16" lengthAdjust="spacingAndGlyphs">-40</text>
<text transform="translate(1906.50,107.00)" x="-126.85" y="0" font-size="14.83" fill="#000" textLength="126.85" lengthAdjust="spacingAndGlyphs">minute resolution</text>
<line x1="1892.90" y1="143.00" x2="1892.90" y2="418.00" stroke="#0ff" stroke-width="3"/>
<rect x="1886.30" y="103.80" width="111" height="39.6" fill="#fff" stroke="#0ff" stroke-width="1.3"/>
<text transform="translate(1893.30,130.60)" x="0.00" y="0" font-size="21.12" fill="#000" textLength="95.13" lengthAdjust="spacingAndGlyphs">time now</text>
<line x1="1914.50" y1="108.00" x2="1914.50" y2="418.50" stroke="#262626" stroke-width="1" shape-rendering="crispEdges"/>
<line x1="1914.50" y1="129.30" x2="1909.90" y2="129.30" stroke="#262626" stroke-width="1" shape-rendering="crispEdges"/>
<text transform="translate(1923.10,137.10)" x="0.00" y="0" font-size="20.91" fill="#262626" textLength="12.92" lengthAdjust="spacingAndGlyphs">4</text>
<line x1="1914.50" y1="190.80" x2="1909.90" y2="190.80" stroke="#262626" stroke-width="1" shape-rendering="crispEdges"/>
<text transform="translate(1923.10,198.60)" x="0.00" y="0" font-size="20.91" fill="#262626" textLength="12.92" lengthAdjust="spacingAndGlyphs">2</text>
<line x1="1914.50" y1="252.30" x2="1909.90" y2="252.30" stroke="#262626" stroke-width="1" shape-rendering="crispEdges"/>
<text transform="translate(1923.10,260.10)" x="0.00" y="0" font-size="20.91" fill="#262626" textLength="12.92" lengthAdjust="spacingAndGlyphs">0</text>
<line x1="1914.50" y1="313.80" x2="1909.90" y2="313.80" stroke="#262626" stroke-width="1" shape-rendering="crispEdges"/>
<text transform="translate(1923.10,321.60)" x="0.00" y="0" font-size="20.91" fill="#262626" textLength="20.24" lengthAdjust="spacingAndGlyphs">-2</text>
<line x1="1914.50" y1="375.30" x2="1909.90" y2="375.30" stroke="#262626" stroke-width="1" shape-rendering="crispEdges"/>
<text transform="translate(1923.10,383.10)" x="0.00" y="0" font-size="20.91" fill="#262626" textLength="20.24" lengthAdjust="spacingAndGlyphs">-4</text>
<text transform="translate(1697.35,62.50)" x="-52.07" y="0" font-size="25.54" fill="#000" textLength="104.14" lengthAdjust="spacingAndGlyphs">Dunedin</text>
<text transform="translate(1464.60,100.30)" x="0.00" y="0" font-size="12.88" fill="#000" textLength="249.88" lengthAdjust="spacingAndGlyphs">File Updated:11-Oct-2025 22:49:01 UTC</text>
<text transform="translate(1688.95,479.20)" x="-61.52" y="0" font-size="23.48" fill="#262626" textLength="123.04" lengthAdjust="spacingAndGlyphs">UT Time /h</text>
<text transform="translate(1410.40,263.80) rotate(-90)" x="-112.26" y="0" font-size="17.17" fill="#00f" textLength="224.51" lengthAdjust="spacingAndGlyphs">X Mean Magnetic Field / nT</text>
<text transform="translate(1967.10,263.50) rotate(-90)" x="-100.64" y="0" font-size="17.05" fill="#262626" textLength="201.27" lengthAdjust="spacingAndGlyphs">Rate of Change / nT/min</text>
</g>
<g id="mid2">
<rect x="1464.60" y="537.30" width="112.38" height="310.10" fill="#e6e6e6"/>
<rect x="1821.87" y="537.30" width="92.63" height="310.10" fill="#e6e6e6"/>
</g>
<g id="midc0">
<rect x="421.00" y="583.30" width="6.20" height="63.10" fill="#ff0"/>
<rect x="475.00" y="583.30" width="6.10" height="63.10" fill="#ff0"/>
<rect x="421.00" y="598.90" width="8.90" height="31.90" fill="#0f0"/>
<rect x="475.00" y="598.90" width="6.10" height="31.90" fill="#0f0"/>
<rect x="421.90" y="738.60" width="6.70" height="63.10" fill="#ff0"/>
<rect x="534.60" y="738.60" width="6.40" height="63.10" fill="#ff0"/>
<rect x="376.90" y="754.00" width="6.10" height="32.00" fill="#0f0"/>
<rect x="401.10" y="754.00" width="6.40" height="32.00" fill="#0f0"/>
<rect x="419.10" y="754.00" width="11.70" height="32.00" fill="#0f0"/>
<rect x="475.90" y="754.00" width="9.50" height="32.00" fill="#0f0"/>
<rect x="518.00" y="754.00" width="58.40" height="32.00" fill="#0f0"/>
<line x1="275.50" y1="692.30" x2="727.50" y2="692.30" stroke="#000" stroke-width="1" shape-rendering="crispEdges"/>
<line x1="275.50" y1="537.30" x2="275.50" y2="847.90" stroke="#262626" stroke-width="1" shape-rendering="crispEdges"/>
<line x1="275.00" y1="847.40" x2="728.00" y2="847.40" stroke="#262626" stroke-width="1" shape-rendering="crispEdges"/>
<line x1="275.50" y1="537.60" x2="280.10" y2="537.60" stroke="#262626" stroke-width="1" shape-rendering="crispEdges"/>
<line x1="275.50" y1="614.40" x2="280.10" y2="614.40" stroke="#262626" stroke-width="1" shape-rendering="crispEdges"/>
<line x1="275.50" y1="769.85" x2="280.10" y2="769.85" stroke="#262626" stroke-width="1" shape-rendering="crispEdges"/>
<line x1="275.50" y1="847.40" x2="275.50" y2="842.80" stroke="#262626" stroke-width="1" shape-rendering="crispEdges"/>
<line x1="294.33" y1="847.40" x2="294.33" y2="842.80" stroke="#262626" stroke-width="1" shape-rendering="crispEdges"/>
<line x1="313.17" y1="847.40" x2="313.17" y2="842.80" stroke="#262626" stroke-width="1" shape-rendering="crispEdges"/>
<line x1="332.00" y1="847.40" x2="332.00" y2="842.80" stroke="#262626" stroke-width="1" shape-rendering="crispEdges"/>
<line x1="350.83" y1="847.40" x2="350.83" y2="842.80" stroke="#262626" stroke-width="1" shape-rendering="crispEdges"/>
<line x1="369.67" y1="847.40" x2="369.67" y2="842.80" stroke="#262626" stroke-width="1" shape-rendering="crispEdges"/>
<line x1="388.50" y1="847.40" x2="388.50" y2="842.80" stroke="#262626" stroke-width="1" shape-rendering="crispEdges"/>
<line x1="407.33" y1="847.40" x2="407.33" y2="842.80" stroke="#262626" stroke-width="1" shape-rendering="crispEdges"/>
<line x1="426.17" y1="847.40" x2="426.17" y2="842.80" stroke="#262626" stroke-width="1" shape-rendering="crispEdges"/>
<line x1="445.00" y1="847.40" x2="445.00" y2="842.80" stroke="#262626" stroke-width="1" shape-rendering="crispEdges"/>
<line x1="463.83" y1="847.40" x2="463.83" y2="842.80" stroke="#262626" stroke-width="1" shape-rendering="crispEdges"/>
<line x1="482.67" y1="847.40" x2="482.67" y2="842.80" stroke="#262626" stroke-width="1" shape-rendering="crispEdges"/>
<line x1="501.50" y1="847.40" x2="501.50" y2="842.80" stroke="#262626" stroke-width="1" shape-rendering="crispEdges"/>
<line x1="520.33" y1="847.40" x2="520.33" y2="842.80" stroke="#262626" stroke-width="1" shape-rendering="crispEdges"/>
<line x1="539.17" y1="847.40" x2="539.17" y2="842.80" stroke="#262626" stroke-width="1" shape-rendering="crispEdges"/>
<line x1="558.00" y1="847.40" x2="558.00" y2="842.80" stroke="#262626" stroke-width="1" shape-rendering="crispEdges"/>
<line x1="576.83" y1="847.40" x2="576.83" y2="842.80" stroke="#262626" stroke-width="1" shape-rendering="crispEdges"/>
<line x1="595.67" y1="847.40" x2="595.67" y2="842.80" stroke="#262626" stroke-width="1" shape-rendering="crispEdges"/>
<line x1="614.50" y1="847.40" x2="614.50" y2="842.80" stroke="#262626" stroke-width="1" shape-rendering="crispEdges"/>
<line x1="633.33" y1="847.40" x2="633.33" y2="842.80" stroke="#262626" stroke-width="1" shape-rendering="crispEdges"/>
<line x1="652.17" y1="847.40" x2="652.17" y2="842.80" stroke="#262626" stroke-width="1" shape-rendering="crispEdges"/>
<line x1="671.00" y1="847.40" x2="671.00" y2="842.80" stroke="#262626" stroke-width="1" shape-rendering="crispEdges"/>
<line x1="689.83" y1="847.40" x2="689.83" y2="842.80" stroke="#262626" stroke-width="1" shape-rendering="crispEdges"/>
<line x1="708.67" y1="847.40" x2="708.67" y2="842.80" stroke="#262626" stroke-width="1" shape-rendering="crispEdges"/>
<line x1="727.50" y1="847.40" x2="727.50" y2="842.80" stroke="#262626" stroke-width="1" shape-rendering="crispEdges"/>
<text transform="translate(275.50,876.90)" x="-6.46" y="0" font-size="20.91" fill="#262626" textLength="12.92" lengthAdjust="spacingAndGlyphs">0</text>
<text transform="translate(332.00,876.90)" x="-6.46" y="0" font-size="20.91" fill="#262626" textLength="12.92" lengthAdjust="spacingAndGlyphs">3</text>
<text transform="translate(388.50,876.90)" x="-6.46" y="0" font-size="20.91" fill="#262626" textLength="12.92" lengthAdjust="spacingAndGlyphs">6</text>
<text transform="translate(445.00,876.90)" x="-6.46" y="0" font-size="20.91" fill="#262626" textLength="12.92" lengthAdjust="spacingAndGlyphs">9</text>
<text transform="translate(501.50,876.90)" x="-12.92" y="0" font-size="20.91" fill="#262626" textLength="25.83" lengthAdjust="spacingAndGlyphs">12</text>
<text transform="translate(558.00,876.90)" x="-12.92" y="0" font-size="20.91" fill="#262626" textLength="25.83" lengthAdjust="spacingAndGlyphs">15</text>
<text transform="translate(614.50,876.90)" x="-12.92" y="0" font-size="20.91" fill="#262626" textLength="25.83" lengthAdjust="spacingAndGlyphs">18</text>
<text transform="translate(671.00,876.90)" x="-12.92" y="0" font-size="20.91" fill="#262626" textLength="25.83" lengthAdjust="spacingAndGlyphs">21</text>
<text transform="translate(727.50,876.90)" x="-12.92" y="0" font-size="20.91" fill="#262626" textLength="25.83" lengthAdjust="spacingAndGlyphs">24</text>
<line x1="705.40" y1="572.00" x2="705.40" y2="847.40" stroke="#0ff" stroke-width="3"/>
<rect x="698.80" y="532.80" width="111" height="39.6" fill="#fff" stroke="#0ff" stroke-width="1.3"/>
<text transform="translate(705.80,559.60)" x="0.00" y="0" font-size="21.12" fill="#000" textLength="95.13" lengthAdjust="spacingAndGlyphs">time now</text>
<text transform="translate(736.30,605.70)" x="0.00" y="0" font-size="17.17" fill="#262626" font-weight="bold" textLength="105.95" lengthAdjust="spacingAndGlyphs">dB/dT Alert</text>
<text transform="translate(736.30,760.90)" x="0.00" y="0" font-size="17.17" fill="#00f" font-weight="bold" textLength="64.62" lengthAdjust="spacingAndGlyphs">B Alert</text>
</g>
<g id="midc1">
<rect x="988.40" y="583.30" width="6.40" height="63.10" fill="#ff0"/>
<rect x="1014.70" y="583.30" width="6.20" height="63.10" fill="#ff0"/>
<rect x="952.90" y="598.90" width="6.50" height="31.90" fill="#0f0"/>
<rect x="988.00" y="598.90" width="6.80" height="31.90" fill="#0f0"/>
<rect x="1005.60" y="598.90" width="15.30" height="31.90" fill="#0f0"/>
<rect x="1025.50" y="598.90" width="6.50" height="31.90" fill="#0f0"/>
<rect x="1287.90" y="598.90" width="6.30" height="31.90" fill="#0f0"/>
<rect x="876.90" y="754.00" width="11.60" height="32.00" fill="#0f0"/>
<line x1="868.70" y1="692.30" x2="1321.30" y2="692.30" stroke="#000" stroke-width="1" shape-rendering="crispEdges"/>
<line x1="868.70" y1="537.30" x2="868.70" y2="847.90" stroke="#262626" stroke-width="1" shape-rendering="crispEdges"/>
<line x1="868.20" y1="847.40" x2="1321.80" y2="847.40" stroke="#262626" stroke-width="1" shape-rendering="crispEdges"/>
<line x1="868.70" y1="537.60" x2="873.30" y2="537.60" stroke="#262626" stroke-width="1" shape-rendering="crispEdges"/>
<line x1="868.70" y1="614.40" x2="873.30" y2="614.40" stroke="#262626" stroke-width="1" shape-rendering="crispEdges"/>
<line x1="868.70" y1="769.85" x2="873.30" y2="769.85" stroke="#262626" stroke-width="1" shape-rendering="crispEdges"/>
<line x1="868.70" y1="847.40" x2="868.70" y2="842.80" stroke="#262626" stroke-width="1" shape-rendering="crispEdges"/>
<line x1="887.56" y1="847.40" x2="887.56" y2="842.80" stroke="#262626" stroke-width="1" shape-rendering="crispEdges"/>
<line x1="906.42" y1="847.40" x2="906.42" y2="842.80" stroke="#262626" stroke-width="1" shape-rendering="crispEdges"/>
<line x1="925.28" y1="847.40" x2="925.28" y2="842.80" stroke="#262626" stroke-width="1" shape-rendering="crispEdges"/>
<line x1="944.13" y1="847.40" x2="944.13" y2="842.80" stroke="#262626" stroke-width="1" shape-rendering="crispEdges"/>
<line x1="962.99" y1="847.40" x2="962.99" y2="842.80" stroke="#262626" stroke-width="1" shape-rendering="crispEdges"/>
<line x1="981.85" y1="847.40" x2="981.85" y2="842.80" stroke="#262626" stroke-width="1" shape-rendering="crispEdges"/>
<line x1="1000.71" y1="847.40" x2="1000.71" y2="842.80" stroke="#262626" stroke-width="1" shape-rendering="crispEdges"/>
<line x1="1019.57" y1="847.40" x2="1019.57" y2="842.80" stroke="#262626" stroke-width="1" shape-rendering="crispEdges"/>
<line x1="1038.42" y1="847.40" x2="1038.42" y2="842.80" stroke="#262626" stroke-width="1" shape-rendering="crispEdges"/>
<line x1="1057.28" y1="847.40" x2="1057.28" y2="842.80" stroke="#262626" stroke-width="1" shape-rendering="crispEdges"/>
<line x1="1076.14" y1="847.40" x2="1076.14" y2="842.80" stroke="#262626" stroke-width="1" shape-rendering="crispEdges"/>
<line x1="1095.00" y1="847.40" x2="1095.00" y2="842.80" stroke="#262626" stroke-width="1" shape-rendering="crispEdges"/>
<line x1="1113.86" y1="847.40" x2="1113.86" y2="842.80" stroke="#262626" stroke-width="1" shape-rendering="crispEdges"/>
<line x1="1132.72" y1="847.40" x2="1132.72" y2="842.80" stroke="#262626" stroke-width="1" shape-rendering="crispEdges"/>
<line x1="1151.58" y1="847.40" x2="1151.58" y2="842.80" stroke="#262626" stroke-width="1" shape-rendering="crispEdges"/>
<line x1="1170.43" y1="847.40" x2="1170.43" y2="842.80" stroke="#262626" stroke-width="1" shape-rendering="crispEdges"/>
<line x1="1189.29" y1="847.40" x2="1189.29" y2="842.80" stroke="#262626" stroke-width="1" shape-rendering="crispEdges"/>
<line x1="1208.15" y1="847.40" x2="1208.15" y2="842.80" stroke="#262626" stroke-width="1" shape-rendering="crispEdges"/>
<line x1="1227.01" y1="847.40" x2="1227.01" y2="842.80" stroke="#262626" stroke-width="1" shape-rendering="crispEdges"/>
<line x1="1245.87" y1="847.40" x2="1245.87" y2="842.80" stroke="#262626" stroke-width="1" shape-rendering="crispEdges"/>
<line x1="1264.72" y1="847.40" x2="1264.72" y2="842.80" stroke="#262626" stroke-width="1" shape-rendering="crispEdges"/>
<line x1="1283.58" y1="847.40" x2="1283.58" y2="842.80" stroke="#262626" stroke-width="1" shape-rendering="crispEdges"/>
<line x1="1302.44" y1="847.40" x2="1302.44" y2="842.80" stroke="#262626" stroke-width="1" shape-rendering="crispEdges"/>
<line x1="1321.30" y1="847.40" x2="1321.30" y2="842.80" stroke="#262626" stroke-width="1" shape-rendering="crispEdges"/>
<text transform="translate(868.70,876.90)" x="-6.46" y="0" font-size="20.91" fill="#262626" textLength="12.92" lengthAdjust="spacingAndGlyphs">0</text>
<text transform="translate(925.28,876.90)" x="-6.46" y="0" font-size="20.91" fill="#262626" textLength="12.92" lengthAdjust="spacingAndGlyphs">3</text>
<text transform="translate(981.85,876.90)" x="-6.46" y="0" font-size="20.91" fill="#262626" textLength="12.92" lengthAdjust="spacingAndGlyphs">6</text>
<text transform="translate(1038.42,876.90)" x="-6.46" y="0" font-size="20.91" fill="#262626" textLength="12.92" lengthAdjust="spacingAndGlyphs">9</text>
<text transform="translate(1095.00,876.90)" x="-12.92" y="0" font-size="20.91" fill="#262626" textLength="25.83" lengthAdjust="spacingAndGlyphs">12</text>
<text transform="translate(1151.58,876.90)" x="-12.92" y="0" font-size="20.91" fill="#262626" textLength="25.83" lengthAdjust="spacingAndGlyphs">15</text>
<text transform="translate(1208.15,876.90)" x="-12.92" y="0" font-size="20.91" fill="#262626" textLength="25.83" lengthAdjust="spacingAndGlyphs">18</text>
<text transform="translate(1264.72,876.90)" x="-12.92" y="0" font-size="20.91" fill="#262626" textLength="25.83" lengthAdjust="spacingAndGlyphs">21</text>
<text transform="translate(1321.30,876.90)" x="-12.92" y="0" font-size="20.91" fill="#262626" textLength="25.83" lengthAdjust="spacingAndGlyphs">24</text>
<line x1="1299.00" y1="572.00" x2="1299.00" y2="847.40" stroke="#0ff" stroke-width="3"/>
<rect x="1292.40" y="532.80" width="111" height="39.6" fill="#fff" stroke="#0ff" stroke-width="1.3"/>
<text transform="translate(1299.40,559.60)" x="0.00" y="0" font-size="21.12" fill="#000" textLength="95.13" lengthAdjust="spacingAndGlyphs">time now</text>
<text transform="translate(1330.10,605.70)" x="0.00" y="0" font-size="17.17" fill="#262626" font-weight="bold" textLength="105.95" lengthAdjust="spacingAndGlyphs">dB/dT Alert</text>
<text transform="translate(1330.10,760.90)" x="0.00" y="0" font-size="17.17" fill="#00f" font-weight="bold" textLength="64.62" lengthAdjust="spacingAndGlyphs">B Alert</text>
</g>
<g id="midc2">
<rect x="1548.80" y="598.90" width="6.30" height="31.90" fill="#0f0"/>
<rect x="1584.00" y="598.90" width="6.50" height="31.90" fill="#0f0"/>
<rect x="1603.30" y="598.90" width="13.30" height="31.90" fill="#0f0"/>
<rect x="1881.60" y="598.90" width="6.50" height="31.90" fill="#0f0"/>
<line x1="1464.60" y1="692.30" x2="1914.50" y2="692.30" stroke="#000" stroke-width="1" shape-rendering="crispEdges"/>
<line x1="1464.60" y1="537.30" x2="1464.60" y2="847.90" stroke="#262626" stroke-width="1" shape-rendering="crispEdges"/>
<line x1="1464.10" y1="847.40" x2="1915.00" y2="847.40" stroke="#262626" stroke-width="1" shape-rendering="crispEdges"/>
<line x1="1464.60" y1="537.60" x2="1469.20" y2="537.60" stroke="#262626" stroke-width="1" shape-rendering="crispEdges"/>
<line x1="1464.60" y1="614.40" x2="1469.20" y2="614.40" stroke="#262626" stroke-width="1" shape-rendering="crispEdges"/>
<line x1="1464.60" y1="769.85" x2="1469.20" y2="769.85" stroke="#262626" stroke-width="1" shape-rendering="crispEdges"/>
<line x1="1464.60" y1="847.40" x2="1464.60" y2="842.80" stroke="#262626" stroke-width="1" shape-rendering="crispEdges"/>
<line x1="1483.35" y1="847.40" x2="1483.35" y2="842.80" stroke="#262626" stroke-width="1" shape-rendering="crispEdges"/>
<line x1="1502.09" y1="847.40" x2="1502.09" y2="842.80" stroke="#262626" stroke-width="1" shape-rendering="crispEdges"/>
<line x1="1520.84" y1="847.40" x2="1520.84" y2="842.80" stroke="#262626" stroke-width="1" shape-rendering="crispEdges"/>
<line x1="1539.58" y1="847.40" x2="1539.58" y2="842.80" stroke="#262626" stroke-width="1" shape-rendering="crispEdges"/>
<line x1="1558.33" y1="847.40" x2="1558.33" y2="842.80" stroke="#262626" stroke-width="1" shape-rendering="crispEdges"/>
<line x1="1577.07" y1="847.40" x2="1577.07" y2="842.80" stroke="#262626" stroke-width="1" shape-rendering="crispEdges"/>
<line x1="1595.82" y1="847.40" x2="1595.82" y2="842.80" stroke="#262626" stroke-width="1" shape-rendering="crispEdges"/>
<line x1="1614.57" y1="847.40" x2="1614.57" y2="842.80" stroke="#262626" stroke-width="1" shape-rendering="crispEdges"/>
<line x1="1633.31" y1="847.40" x2="1633.31" y2="842.80" stroke="#262626" stroke-width="1" shape-rendering="crispEdges"/>
<line x1="1652.06" y1="847.40" x2="1652.06" y2="842.80" stroke="#262626" stroke-width="1" shape-rendering="crispEdges"/>
<line x1="1670.80" y1="847.40" x2="1670.80" y2="842.80" stroke="#262626" stroke-width="1" shape-rendering="crispEdges"/>
<line x1="1689.55" y1="847.40" x2="1689.55" y2="842.80" stroke="#262626" stroke-width="1" shape-rendering="crispEdges"/>
<line x1="1708.30" y1="847.40" x2="1708.30" y2="842.80" stroke="#262626" stroke-width="1" shape-rendering="crispEdges"/>
<line x1="1727.04" y1="847.40" x2="1727.04" y2="842.80" stroke="#262626" stroke-width="1" shape-rendering="crispEdges"/>
<line x1="1745.79" y1="847.40" x2="1745.79" y2="842.80" stroke="#262626" stroke-width="1" shape-rendering="crispEdges"/>
<line x1="1764.53" y1="847.40" x2="1764.53" y2="842.80" stroke="#262626" stroke-width="1" shape-rendering="crispEdges"/>
<line x1="1783.28" y1="847.40" x2="1783.28" y2="842.80" stroke="#262626" stroke-width="1" shape-rendering="crispEdges"/>
<line x1="1802.03" y1="847.40" x2="1802.03" y2="842.80" stroke="#262626" stroke-width="1" shape-rendering="crispEdges"/>
<line x1="1820.77" y1="847.40" x2="1820.77" y2="842.80" stroke="#262626" stroke-width="1" shape-rendering="crispEdges"/>
<line x1="1839.52" y1="847.40" x2="1839.52" y2="842.80" stroke="#262626" stroke-width="1" shape-rendering="crispEdges"/>
<line x1="1858.26" y1="847.40" x2="1858.26" y2="842.80" stroke="#262626" stroke-width="1" shape-rendering="crispEdges"/>
<line x1="1877.01" y1="847.40" x2="1877.01" y2="842.80" stroke="#262626" stroke-width="1" shape-rendering="crispEdges"/>
<line x1="1895.75" y1="847.40" x2="1895.75" y2="842.80" stroke="#262626" stroke-width="1" shape-rendering="crispEdges"/>
<line x1="1914.50" y1="847.40" x2="1914.50" y2="842.80" stroke="#262626" stroke-width="1" shape-rendering="crispEdges"/>
<text transform="translate(1464.60,876.90)" x="-6.46" y="0" font-size="20.91" fill="#262626" textLength="12.92" lengthAdjust="spacingAndGlyphs">0</text>
<text transform="translate(1520.84,876.90)" x="-6.46" y="0" font-size="20.91" fill="#262626" textLength="12.92" lengthAdjust="spacingAndGlyphs">3</text>
<text transform="translate(1577.07,876.90)" x="-6.46" y="0" font-size="20.91" fill="#262626" textLength="12.92" lengthAdjust="spacingAndGlyphs">6</text>
<text transform="translate(1633.31,876.90)" x="-6.46" y="0" font-size="20.91" fill="#262626" textLength="12.92" lengthAdjust="spacingAndGlyphs">9</text>
<text transform="translate(1689.55,876.90)" x="-12.92" y="0" font-size="20.91" fill="#262626" textLength="25.83" lengthAdjust="spacingAndGlyphs">12</text>
<text transform="translate(1745.79,876.90)" x="-12.92" y="0" font-size="20.91" fill="#262626" textLength="25.83" lengthAdjust="spacingAndGlyphs">15</text>
<text transform="translate(1802.03,876.90)" x="-12.92" y="0" font-size="20.91" fill="#262626" textLength="25.83" lengthAdjust="spacingAndGlyphs">18</text>
<text transform="translate(1858.26,876.90)" x="-12.92" y="0" font-size="20.91" fill="#262626" textLength="25.83" lengthAdjust="spacingAndGlyphs">21</text>
<text transform="translate(1914.50,876.90)" x="-12.92" y="0" font-size="20.91" fill="#262626" textLength="25.83" lengthAdjust="spacingAndGlyphs">24</text>
<line x1="1892.90" y1="572.00" x2="1892.90" y2="847.40" stroke="#0ff" stroke-width="3"/>
<rect x="1886.30" y="532.80" width="111" height="39.6" fill="#fff" stroke="#0ff" stroke-width="1.3"/>
<text transform="translate(1893.30,559.60)" x="0.00" y="0" font-size="21.12" fill="#000" textLength="95.13" lengthAdjust="spacingAndGlyphs">time now</text>
</g>
<rect x="268.20" y="881.80" width="159.30" height="40.00" fill="#0f0"/>
<text transform="translate(275.60,908.50)" x="0.00" y="0" font-size="21.45" fill="#000" textLength="143.99" lengthAdjust="spacingAndGlyphs">minor activity</text>
<rect x="432.30" y="881.80" width="197.00" height="40.00" fill="#ff0"/>
<text transform="translate(439.60,908.50)" x="0.00" y="0" font-size="21.45" fill="#000" textLength="184.79" lengthAdjust="spacingAndGlyphs">moderate activity</text>
<rect x="629.30" y="881.80" width="165.30" height="40.00" fill="#f00"/>
<text transform="translate(636.30,908.50)" x="0.00" y="0" font-size="21.45" fill="#000" textLength="149.70" lengthAdjust="spacingAndGlyphs">strong activity</text>
<rect x="1252.10" y="881.90" width="194.90" height="40.00" fill="#0f0"/>
<text transform="translate(1259.30,908.50)" x="0.00" y="0" font-size="21.53" fill="#000" textLength="178.12" lengthAdjust="spacingAndGlyphs">Current Warning:</text>
<rect x="1449.20" y="876.60" width="94.50" height="50.80" fill="#0f0"/>
<text transform="translate(1456.30,911.60)" x="0.00" y="0" font-size="30.90" fill="#000" textLength="76.91" lengthAdjust="spacingAndGlyphs">0.7/9</text>
<rect x="275.50" y="935.00" width="409.77" height="331.40" fill="#e6e6e6"/>
<rect x="1573.82" y="935.00" width="340.78" height="331.40" fill="#e6e6e6"/>
<rect x="309.65" y="1241.79" width="11.38" height="24.61" fill="#0f0" stroke="#000" stroke-width="1" shape-rendering="crispEdges"/>
<rect x="321.03" y="1241.79" width="11.38" height="24.61" fill="#0f0" stroke="#000" stroke-width="1" shape-rendering="crispEdges"/>
<rect x="582.83" y="1241.79" width="11.38" height="24.61" fill="#0f0" stroke="#000" stroke-width="1" shape-rendering="crispEdges"/>
<rect x="651.13" y="1241.79" width="11.38" height="24.61" fill="#0f0" stroke="#000" stroke-width="1" shape-rendering="crispEdges"/>
<rect x="708.04" y="1229.49" width="11.38" height="36.91" fill="#0f0" stroke="#000" stroke-width="1" shape-rendering="crispEdges"/>
<rect x="730.81" y="1241.79" width="11.38" height="24.61" fill="#0f0" stroke="#000" stroke-width="1" shape-rendering="crispEdges"/>
<rect x="776.34" y="1241.79" width="11.38" height="24.61" fill="#0f0" stroke="#000" stroke-width="1" shape-rendering="crispEdges"/>
<rect x="787.72" y="1241.79" width="11.38" height="24.61" fill="#0f0" stroke="#000" stroke-width="1" shape-rendering="crispEdges"/>
<rect x="799.10" y="1229.49" width="11.38" height="36.91" fill="#0f0" stroke="#000" stroke-width="1" shape-rendering="crispEdges"/>
<rect x="810.48" y="1155.67" width="11.38" height="110.73" fill="#0f0" stroke="#000" stroke-width="1" shape-rendering="crispEdges"/>
<rect x="821.87" y="1229.49" width="11.38" height="36.91" fill="#0f0" stroke="#000" stroke-width="1" shape-rendering="crispEdges"/>
<rect x="844.63" y="1254.10" width="11.38" height="12.30" fill="#0f0" stroke="#000" stroke-width="1" shape-rendering="crispEdges"/>
<rect x="1003.99" y="1217.19" width="11.38" height="49.21" fill="#0f0" stroke="#000" stroke-width="1" shape-rendering="crispEdges"/>
<rect x="1015.37" y="1241.79" width="11.38" height="24.61" fill="#0f0" stroke="#000" stroke-width="1" shape-rendering="crispEdges"/>
<rect x="1163.35" y="1241.79" width="11.38" height="24.61" fill="#0f0" stroke="#000" stroke-width="1" shape-rendering="crispEdges"/>
<rect x="1174.73" y="1241.79" width="11.38" height="24.61" fill="#0f0" stroke="#000" stroke-width="1" shape-rendering="crispEdges"/>
<rect x="1186.11" y="1241.79" width="11.38" height="24.61" fill="#0f0" stroke="#000" stroke-width="1" shape-rendering="crispEdges"/>
<rect x="1197.49" y="1241.79" width="11.38" height="24.61" fill="#0f0" stroke="#000" stroke-width="1" shape-rendering="crispEdges"/>
<rect x="1208.88" y="1241.79" width="11.38" height="24.61" fill="#0f0" stroke="#000" stroke-width="1" shape-rendering="crispEdges"/>
<rect x="1220.26" y="1217.19" width="11.38" height="49.21" fill="#0f0" stroke="#000" stroke-width="1" shape-rendering="crispEdges"/>
<rect x="1231.64" y="1241.79" width="11.38" height="24.61" fill="#0f0" stroke="#000" stroke-width="1" shape-rendering="crispEdges"/>
<rect x="1243.02" y="1241.79" width="11.38" height="24.61" fill="#0f0" stroke="#000" stroke-width="1" shape-rendering="crispEdges"/>
<rect x="1254.41" y="1241.79" width="11.38" height="24.61" fill="#0f0" stroke="#000" stroke-width="1" shape-rendering="crispEdges"/>
<rect x="1265.79" y="1241.79" width="11.38" height="24.61" fill="#0f0" stroke="#000" stroke-width="1" shape-rendering="crispEdges"/>
<rect x="1277.17" y="1241.79" width="11.38" height="24.61" fill="#0f0" stroke="#000" stroke-width="1" shape-rendering="crispEdges"/>
<rect x="1288.55" y="1241.79" width="11.38" height="24.61" fill="#0f0" stroke="#000" stroke-width="1" shape-rendering="crispEdges"/>
<rect x="1299.94" y="1241.79" width="11.38" height="24.61" fill="#0f0" stroke="#000" stroke-width="1" shape-rendering="crispEdges"/>
<rect x="1311.32" y="1241.79" width="11.38" height="24.61" fill="#0f0" stroke="#000" stroke-width="1" shape-rendering="crispEdges"/>
<rect x="1322.70" y="1241.79" width="11.38" height="24.61" fill="#0f0" stroke="#000" stroke-width="1" shape-rendering="crispEdges"/>
<rect x="1334.09" y="1241.79" width="11.38" height="24.61" fill="#0f0" stroke="#000" stroke-width="1" shape-rendering="crispEdges"/>
<rect x="1345.47" y="1241.79" width="11.38" height="24.61" fill="#0f0" stroke="#000" stroke-width="1" shape-rendering="crispEdges"/>
<rect x="1800.77" y="1241.79" width="11.38" height="24.61" fill="#0f0" stroke="#000" stroke-width="1" shape-rendering="crispEdges"/>
<line x1="275.50" y1="935.00" x2="275.50" y2="1266.90" stroke="#262626" stroke-width="1" shape-rendering="crispEdges"/>
<line x1="275.00" y1="1266.40" x2="1915.10" y2="1266.40" stroke="#262626" stroke-width="1" shape-rendering="crispEdges"/>
<line x1="275.50" y1="1266.40" x2="275.50" y2="1249.40" stroke="#262626" stroke-width="1" shape-rendering="crispEdges"/>
<text transform="translate(275.50,1294.80)" x="-6.46" y="0" font-size="20.91" fill="#262626" textLength="12.92" lengthAdjust="spacingAndGlyphs">0</text>
<line x1="343.80" y1="1266.40" x2="343.80" y2="1249.40" stroke="#262626" stroke-width="1" shape-rendering="crispEdges"/>
<text transform="translate(343.80,1294.80)" x="-6.46" y="0" font-size="20.91" fill="#262626" textLength="12.92" lengthAdjust="spacingAndGlyphs">1</text>
<line x1="412.09" y1="1266.40" x2="412.09" y2="1249.40" stroke="#262626" stroke-width="1" shape-rendering="crispEdges"/>
<text transform="translate(412.09,1294.80)" x="-6.46" y="0" font-size="20.91" fill="#262626" textLength="12.92" lengthAdjust="spacingAndGlyphs">2</text>
<line x1="480.39" y1="1266.40" x2="480.39" y2="1249.40" stroke="#262626" stroke-width="1" shape-rendering="crispEdges"/>
<text transform="translate(480.39,1294.80)" x="-6.46" y="0" font-size="20.91" fill="#262626" textLength="12.92" lengthAdjust="spacingAndGlyphs">3</text>
<line x1="548.68" y1="1266.40" x2="548.68" y2="1249.40" stroke="#262626" stroke-width="1" shape-rendering="crispEdges"/>
<text transform="translate(548.68,1294.80)" x="-6.46" y="0" font-size="20.91" fill="#262626" textLength="12.92" lengthAdjust="spacingAndGlyphs">4</text>
<line x1="616.98" y1="1266.40" x2="616.98" y2="1249.40" stroke="#262626" stroke-width="1" shape-rendering="crispEdges"/>
<text transform="translate(616.98,1294.80)" x="-6.46" y="0" font-size="20.91" fill="#262626" textLength="12.92" lengthAdjust="spacingAndGlyphs">5</text>
<line x1="685.27" y1="1266.40" x2="685.27" y2="1249.40" stroke="#262626" stroke-width="1" shape-rendering="crispEdges"/>
<text transform="translate(685.27,1294.80)" x="-6.46" y="0" font-size="20.91" fill="#262626" textLength="12.92" lengthAdjust="spacingAndGlyphs">6</text>
<line x1="753.57" y1="1266.40" x2="753.57" y2="1249.40" stroke="#262626" stroke-width="1" shape-rendering="crispEdges"/>
<text transform="translate(753.57,1294.80)" x="-6.46" y="0" font-size="20.91" fill="#262626" textLength="12.92" lengthAdjust="spacingAndGlyphs">7</text>
<line x1="821.87" y1="1266.40" x2="821.87" y2="1249.40" stroke="#262626" stroke-width="1" shape-rendering="crispEdges"/>
<text transform="translate(821.87,1294.80)" x="-6.46" y="0" font-size="20.91" fill="#262626" textLength="12.92" lengthAdjust="spacingAndGlyphs">8</text>
<line x1="890.16" y1="1266.40" x2="890.16" y2="1249.40" stroke="#262626" stroke-width="1" shape-rendering="crispEdges"/>
<text transform="translate(890.16,1294.80)" x="-6.46" y="0" font-size="20.91" fill="#262626" textLength="12.92" lengthAdjust="spacingAndGlyphs">9</text>
<line x1="958.46" y1="1266.40" x2="958.46" y2="1249.40" stroke="#262626" stroke-width="1" shape-rendering="crispEdges"/>
<text transform="translate(958.46,1294.80)" x="-12.92" y="0" font-size="20.91" fill="#262626" textLength="25.83" lengthAdjust="spacingAndGlyphs">10</text>
<line x1="1026.75" y1="1266.40" x2="1026.75" y2="1249.40" stroke="#262626" stroke-width="1" shape-rendering="crispEdges"/>
<text transform="translate(1026.75,1294.80)" x="-12.92" y="0" font-size="20.91" fill="#262626" textLength="25.83" lengthAdjust="spacingAndGlyphs">11</text>
<line x1="1095.05" y1="1266.40" x2="1095.05" y2="1249.40" stroke="#262626" stroke-width="1" shape-rendering="crispEdges"/>
<text transform="translate(1095.05,1294.80)" x="-12.92" y="0" font-size="20.91" fill="#262626" textLength="25.83" lengthAdjust="spacingAndGlyphs">12</text>
<line x1="1163.35" y1="1266.40" x2="1163.35" y2="1249.40" stroke="#262626" stroke-width="1" shape-rendering="crispEdges"/>
<text transform="translate(1163.35,1294.80)" x="-12.92" y="0" font-size="20.91" fill="#262626" textLength="25.83" lengthAdjust="spacingAndGlyphs">13</text>
<line x1="1231.64" y1="1266.40" x2="1231.64" y2="1249.40" stroke="#262626" stroke-width="1" shape-rendering="crispEdges"/>
<text transform="translate(1231.64,1294.80)" x="-12.92" y="0" font-size="20.91" fill="#262626" textLength="25.83" lengthAdjust="spacingAndGlyphs">14</text>
<line x1="1299.94" y1="1266.40" x2="1299.94" y2="1249.40" stroke="#262626" stroke-width="1" shape-rendering="crispEdges"/>
<text transform="translate(1299.94,1294.80)" x="-12.92" y="0" font-size="20.91" fill="#262626" textLength="25.83" lengthAdjust="spacingAndGlyphs">15</text>
<line x1="1368.23" y1="1266.40" x2="1368.23" y2="1249.40" stroke="#262626" stroke-width="1" shape-rendering="crispEdges"/>
<text transform="translate(1368.23,1294.80)" x="-12.92" y="0" font-size="20.91" fill="#262626" textLength="25.83" lengthAdjust="spacingAndGlyphs">16</text>
<line x1="1436.53" y1="1266.40" x2="1436.53" y2="1249.40" stroke="#262626" stroke-width="1" shape-rendering="crispEdges"/>
<text transform="translate(1436.53,1294.80)" x="-12.92" y="0" font-size="20.91" fill="#262626" textLength="25.83" lengthAdjust="spacingAndGlyphs">17</text>
<line x1="1504.83" y1="1266.40" x2="1504.83" y2="1249.40" stroke="#262626" stroke-width="1" shape-rendering="crispEdges"/>
<text transform="translate(1504.83,1294.80)" x="-12.92" y="0" font-size="20.91" fill="#262626" textLength="25.83" lengthAdjust="spacingAndGlyphs">18</text>
<line x1="1573.12" y1="1266.40" x2="1573.12" y2="1249.40" stroke="#262626" stroke-width="1" shape-rendering="crispEdges"/>
<text transform="translate(1573.12,1294.80)" x="-12.92" y="0" font-size="20.91" fill="#262626" textLength="25.83" lengthAdjust="spacingAndGlyphs">19</text>
<line x1="1641.42" y1="1266.40" x2="1641.42" y2="1249.40" stroke="#262626" stroke-width="1" shape-rendering="crispEdges"/>
<text transform="translate(1641.42,1294.80)" x="-12.92" y="0" font-size="20.91" fill="#262626" textLength="25.83" lengthAdjust="spacingAndGlyphs">20</text>
<line x1="1709.71" y1="1266.40" x2="1709.71" y2="1249.40" stroke="#262626" stroke-width="1" shape-rendering="crispEdges"/>
<text transform="translate(1709.71,1294.80)" x="-12.92" y="0" font-size="20.91" fill="#262626" textLength="25.83" lengthAdjust="spacingAndGlyphs">21</text>
<line x1="1778.01" y1="1266.40" x2="1778.01" y2="1249.40" stroke="#262626" stroke-width="1" shape-rendering="crispEdges"/>
<text transform="translate(1778.01,1294.80)" x="-12.92" y="0" font-size="20.91" fill="#262626" textLength="25.83" lengthAdjust="spacingAndGlyphs">22</text>
<line x1="1846.30" y1="1266.40" x2="1846.30" y2="1249.40" stroke="#262626" stroke-width="1" shape-rendering="crispEdges"/>
<text transform="translate(1846.30,1294.80)" x="-12.92" y="0" font-size="20.91" fill="#262626" textLength="25.83" lengthAdjust="spacingAndGlyphs">23</text>
<line x1="1914.60" y1="1266.40" x2="1914.60" y2="1249.40" stroke="#262626" stroke-width="1" shape-rendering="crispEdges"/>
<line x1="275.50" y1="1266.40" x2="291.90" y2="1266.40" stroke="#262626" stroke-width="1" shape-rendering="crispEdges"/>
<text transform="translate(265.20,1274.10)" x="-12.92" y="0" font-size="20.91" fill="#262626" textLength="12.92" lengthAdjust="spacingAndGlyphs">0</text>
<line x1="275.50" y1="1192.58" x2="291.90" y2="1192.58" stroke="#262626" stroke-width="1" shape-rendering="crispEdges"/>
<text transform="translate(265.20,1200.28)" x="-12.92" y="0" font-size="20.91" fill="#262626" textLength="12.92" lengthAdjust="spacingAndGlyphs">2</text>
<line x1="275.50" y1="1118.76" x2="291.90" y2="1118.76" stroke="#262626" stroke-width="1" shape-rendering="crispEdges"/>
<text transform="translate(265.20,1126.46)" x="-12.92" y="0" font-size="20.91" fill="#262626" textLength="12.92" lengthAdjust="spacingAndGlyphs">4</text>
<line x1="275.50" y1="1044.93" x2="291.90" y2="1044.93" stroke="#262626" stroke-width="1" shape-rendering="crispEdges"/>
<text transform="translate(265.20,1052.63)" x="-12.92" y="0" font-size="20.91" fill="#262626" textLength="12.92" lengthAdjust="spacingAndGlyphs">6</text>
<line x1="275.50" y1="971.11" x2="291.90" y2="971.11" stroke="#262626" stroke-width="1" shape-rendering="crispEdges"/>
<text transform="translate(265.20,978.81)" x="-12.92" y="0" font-size="20.91" fill="#262626" textLength="12.92" lengthAdjust="spacingAndGlyphs">8</text>
<line x1="1835.50" y1="973.00" x2="1835.50" y2="1266.40" stroke="#0ff" stroke-width="3"/>
<rect x="1828.90" y="933.4" width="111" height="39.9" fill="#fff" stroke="#0ff" stroke-width="1.3"/>
<text transform="translate(1835.90,960.30)" x="0.00" y="0" font-size="21.12" fill="#000" textLength="95.13" lengthAdjust="spacingAndGlyphs">time now</text>
<text transform="translate(240.40,1100.70) rotate(-90)" x="-89.28" y="0" font-size="23.90" fill="#262626" textLength="178.56" lengthAdjust="spacingAndGlyphs">Warning Values</text>
<text transform="translate(1094.65,1326.80)" x="-72.91" y="0" font-size="23.64" fill="#262626" textLength="145.83" lengthAdjust="spacingAndGlyphs">Time UTC / h</text>
<text transform="translate(1095.05,1358.60)" x="-245.00" y="0" font-size="21.42" fill="#000" textLength="490.00" lengthAdjust="spacingAndGlyphs">Last updated: Sun 12 Oct 2025 11:50:35 NZDT</text>
</svg>
</body></html>
